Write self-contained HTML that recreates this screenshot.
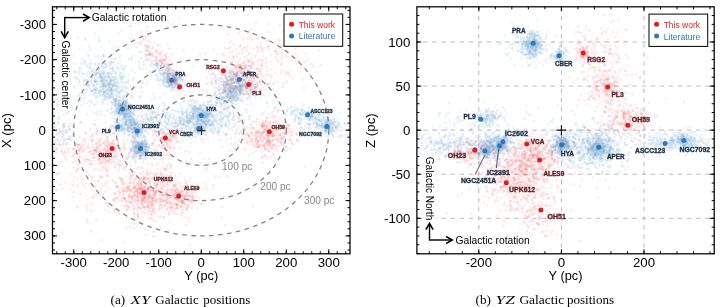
<!DOCTYPE html><html><head><meta charset="utf-8"><style>html,body{margin:0;padding:0;background:#fff;width:725px;height:307px;overflow:hidden}svg{display:block}</style></head><body><div style="will-change:transform;width:725px;height:307px"><svg width="725" height="307" viewBox="0 0 725 307" font-family="Liberation Sans, sans-serif">
<rect width="725" height="307" fill="#fff"/>
<clipPath id="cl"><rect x="52.5" y="6.8" width="297.5" height="247.0"/></clipPath>
<clipPath id="cr"><rect x="416.9" y="6.8" width="297.30000000000007" height="247.0"/></clipPath>
<path d="M478.82 6.8V253.8M561.40 6.8V253.8M643.98 6.8V253.8" stroke="#bdbdbd" stroke-width="1" stroke-dasharray="4.5 4.6" fill="none"/>
<path d="M416.9 218.30H714.2M416.9 174.22H714.2M416.9 130.15H714.2M416.9 86.08H714.2M416.9 42.00H714.2" stroke="#bdbdbd" stroke-width="1" stroke-dasharray="4.5 4.6" stroke-dashoffset="2.9" fill="none"/>
<g fill="none" stroke="#2f78bb" stroke-opacity="0.09" stroke-width="2.6" stroke-linecap="round"><path d="M57.6 139.7h0m2.4-10.1h0m0.5-36h0m6.1 54.8h0m0.1-15.7h0m0.3-19.3h0m5.6 12.9h0m1-71h0m2.1 22.3h0m4.6 8.2h0m1 36.9h0m3.2-43.5h0m2.5 0.2h0m2.4 15.3h0m0.4-26.1h0m0.1-20.8h0m0.5 42.4h0m0.3-25.9h0m1.9 30h0m2-29.9h0m1.2 25.9h0m6.3-12.2h0m0.5-6.7h0m0.5 17.4h0m1-2h0m0.3-26.4h0m0 17.9h0m0.9 0.1h0m0.2 5.2h0m0.1-18.5h0m0.2 57.4h0m0.9-37.2h0m0.8-8.9h0m0.3 16.3h0m0.1 10.9h0m0.6-19.7h0m0 7.8h0m1.4 6h0m0.4-14.4h0m0.2-2.1h0m0.5 11.8h0m1.2-33.9h0m1.3 26.7h0m0.8 13.4h0m0.4-34.4h0m0.8 37.3h0m0.2-29.1h0m0.6 30.4h0m0.3-5.3h0m0.7-30.2h0m0.7 59.8h0m0.3-44.1h0m0 0.4h0m0.6 32.9h0m0.2-34.6h0m0.4 9.4h0m0.4 14.8h0m0.2-9.8h0m0.4-21.1h0m0.2 28.3h0m0.2 1.8h0m0 8.4h0m0.3-22.5h0m0 21.4h0m0.8-5.8h0m0.1 4.5h0m0.2-4.4h0m0 14.3h0m1.6-23.3h0m0.1 15.9h0m0.2 13.1h0m0.1-12.1h0m1.1 6.9h0m0.5 2.5h0m0.5-15.7h0m0.4-5.7h0m0.1 3.6h0m0.6 33.1h0m1.9-4.7h0m0.5-25.4h0m0.1 11.1h0m0.5-8.9h0m1 44.8h0m0.1-47.9h0m0.4 40.7h0m0.3-27.8h0m0.2-8.8h0m0.7 18.4h0m0.8-10.9h0m0.1 39.3h0m0.1-82h0m0.2 43.9h0m0.2 6.4h0m0.3-3.2h0m0.1 26.6h0m0.1-1.9h0m0.3 10.5h0m0.9-41.4h0m0 10.9h0m0.2 27.8h0m0.5-9.1h0m0.1-30h0m0 31h0m0.6 2.8h0m0.3-27.5h0m0 6.3h0m0.1 0.1h0m0.4 1.8h0m0.3 18.5h0m0.3-13.3h0m0.4-73h0m0 81.3h0m0 2.9h0m0 0.2h0m0.1-20.1h0m0 22.5h0m1-9.6h0m0.6-90h0m0.3 95.1h0m0.1-0.7h0m0.2-29.7h0m0.3 17.7h0m0.1 15.1h0m0.2-3.2h0m0 1h0m0.1-6.1h0m0.1-12.4h0m0.2-46.8h0m0 60.6h0m0.1-8.2h0m0.1 2.3h0m0.5 10.4h0m0.9-3.6h0m0.1 6h0m0 2.3h0m2-0.5h0m0.1-36.5h0m1.4 32h0m0.9-1.8h0m1-19.7h0m0.1-71h0m1.4 7.8h0m0.4 37.4h0m0.4 14.3h0m0.1 12.2h0m0.3-59.9h0m0 5.6h0m3.4-8.2h0m0.2 2.1h0m0.2 9h0m0.7 41.4h0m0.2-49.8h0m1.4 58.9h0m0.2-56.7h0m0.1 1.6h0m0.1 41.2h0m2.1 10.5h0m0.6 7.4h0m1.2-18.7h0m0.4-30.7h0m1.7 41.8h0m0.2-56.6h0m2.4 7.4h0m0.2 3.3h0m0.3 5.6h0m0.1-2.9h0m0.6 5.3h0m0.1-0.7h0m0.3-10.1h0m0.7-0.7h0m0.1 11h0m0.3-1.7h0m0 52.3h0m1.2-109.8h0m0.4 56.9h0m0.5-7.2h0m0.4-1.5h0m0.1 2.9h0m1.1 3.8h0m0 18.4h0m0.4-20h0m0 48.6h0m0 1.1h0m0.4-42h0m0.6-5.5h0m0.4 0.8h0m1.2 4.1h0m1 43.6h0m0.6-16.3h0m0.6 11.1h0m1.2 9.9h0m0.3 1.1h0m0.1-26.2h0m0.4-32.8h0m0.8-4.5h0m0.4 37.9h0m4 18h0m0.5-8.8h0m0.3-5.3h0m2.3 19.3h0m0.5-9.8h0m0.6-3.1h0m1.6 3.9h0m0.7-16.5h0m0.2 8.1h0m0.1 9.6h0m0.8-13.1h0m0.5 8.1h0m0.5-11.8h0m0.1-4.1h0m1.8 14.5h0m0.8 9.1h0m0.2-10.7h0m0.6 12.9h0m0.5-15.1h0m0.3 3.3h0m0.9-0.1h0m0.7-2.8h0m0.1-2.9h0m0 3.4h0m0.2-2.2h0m0.3 10h0m0.6-5.1h0m0.5 21.9h0m0.1-17.5h0m0.3 21h0m0.2-27.7h0m0.4-9.9h0m0.2 12.9h0m0.7-6.5h0m0.3 6.5h0m0.2-0.8h0m0.3-11.1h0m1.5 8.6h0m0 7.6h0m0.5-2.3h0m0.2 2.3h0m0 0.8h0m0.2-1.2h0m0.2-38.3h0m2.8 30.2h0m0.4-6h0m0 0.9h0m0.9-34.3h0m0.6 51h0m0.7-1.5h0m0.6-16.1h0m0 3.6h0m0.7-18h0m0.3 26.6h0m3.2-32.6h0m0.5 15h0m0.5-18.9h0m0.3 1.6h0m1.1 32.2h0m0.4-29h0m0.5 12.5h0m0.4 25.4h0m0.1-25.7h0m0.4-6.9h0m0.5 20.2h0m1.4-23.4h0m0 12.6h0m0.1-16.4h0m0.3 21.7h0m0 0.3h0m0.3-30.5h0m0.3 49h0m0.2-40.3h0m0 36.3h0m0.3-31.2h0m0.2 1.2h0m0.5-0.2h0m0.1-16.2h0m0.7 17.3h0m0.4-9h0m0 12h0m0.5-0.4h0m0.9-23.5h0m0.2 51.9h0m0.4-39.1h0m0.4-5.3h0m0 4.5h0m0.9 16.4h0m0.1-5.2h0m0.1-13.5h0m0.4-4.6h0m0.4 40.8h0m0.2-28.6h0m0.2-13.5h0m0.2 4.1h0m1 23.1h0m0.9-30.1h0m0.4 12.2h0m0.5-4h0m0.7 8.8h0m0.1 7.4h0m0.2-17.8h0m0.6 8.7h0m0.7 1.7h0m1.2-8.1h0m1.4 2.7h0m0.2-13h0m0.2 17.7h0m0.4 10.1h0m0.6-11.5h0m1.7-4.8h0m0.8 5.6h0m0.6-4.1h0m0.7-2.1h0m2.4 15.6h0m0.4-11.4h0m0.4-7h0m0.2-6.5h0m3 13.4h0m2.1-13.1h0m14.4 54.1h0m5.3 32.5h0m12.2-47.3h0m7.6-0.5h0m1.7 6.9h0m6.5 0.6h0m2.3 7.5h0m1.2-16.9h0m0 6.6h0m2.9 7h0m0.4-11.7h0m0.3 10.5h0m0.4 4.5h0m0.8-3.2h0m2.2-12.5h0m4.4 21.2h0m0.4-8.2h0m0.4-1.2h0m0.6 5h0m1.5-0.1h0m1.5-2.6h0m0.1-0.2h0m1.2-11.2h0m1.7 11.6h0m1.4-0.6h0m0.6 5.1h0m1.3-12.9h0m1.1 4.7h0m1.1 7.6h0m0.5 2.4h0m2.6-10.6h0m1.3 3.8h0m0.2-0.9h0m1 1.1h0m1.6 3.2h0m7.9-5h0m77.4 41.3h0m3.6-17.1h0m6.1 1.2h0m8.4-37h0m1.2 27h0m0.6 3.9h0m1.5-2.5h0m0.7-4.2h0m0.6 7.1h0m4.5 2.1h0m0.2-7.1h0m0.1 10h0m7.5 4h0m0.1 4.2h0m7.3-39.8h0m5.6 34.5h0m1.4-23.2h0m0 16.5h0m3.2 6.4h0m1.1-9.9h0m1.8 11.3h0m0.4-37.5h0m1.1 2.6h0m0.3 34.7h0m0.5-38.6h0m0.7 34.9h0m0.4-3.8h0m0.1-20.8h0m0.5 2h0m1.2-13.5h0m1.5 41.4h0m0.2-36.7h0m0.6 32.5h0m0.3 2.6h0m0.2-6.4h0m0.2-22h0m0.1 28.4h0m0.4-31.1h0m0 26.5h0m0.2-5.3h0m0.1-24.1h0m0.8 17.6h0m0.1 11.7h0m0.2 6.8h0m0.3-39.5h0m1 36.2h0m0.1-9.6h0m0.7 6.2h0m0.3 3.5h0m0 0.2h0m0.3-38.1h0m0 29.5h0m0 7.2h0m0 9.9h0m0.5-17.6h0m1.4 4.5h0m0.2 4h0m0.1-19.2h0m0.1-14.6h0m0.6 32.3h0m0.5 1.8h0m0.1-2h0m1.2-9.3h0m0.8-2.4h0m0.4-18.5h0m0.5 28h0m0.2-10.6h0m0.1 4.5h0m0.3 4.1h0m0.3 9.3h0m0.2-5.6h0m0.2 14.6h0m0.7-20h0m0.3-26.7h0m0 31.6h0m1.5 14.4h0m0.3-17.5h0m0.1 2.2h0m0.6-1h0m0.3-2.4h0m0.1-4.8h0m0.1 0.6h0m0.1 7.7h0m0.2-7h0m0.1 2.1h0m0.5-2.1h0m0.5-0.7h0m1-30.5h0m0.9-74.3h0m1 123.2h0m0.5-7.2h0m0.4-13.5h0m3 12.7h0m1.7-127.7h0m1.6 123.1h0m1.7-102.7h0m2-9.2h0m4.5 14.3h0m0.6 3.3h0m0.3-0.9h0m0.5 2.9h0m1-14.7h0m1.3-1.1h0m0.9 67.5h0m0.3-54.2h0m1.8-5.7h0m0.1 0.1h0m0.4-2.9h0m0.1-0.1h0m0.5-5.4h0m0.4 103.4h0m0.1-96.6h0m0 7.5h0m0.7-1.3h0m0.2-11.8h0m0.9-5.2h0m0 118.6h0m1.1-112.5h0m0.4 11.2h0m0.7-12.6h0m0.1 12.9h0m0.1-8.5h0m0.2 12.6h0m0.2-10.2h0m0.6 5.7h0m0 0.7h0m0.1-3.4h0m0 8.4h0m0 82.2h0m0.6-92.1h0m1.3-8.2h0m0 1.2h0m2.1 23.3h0m1.2 78.3h0m0.3-87.7h0m0.7-7.2h0m0.4 85h0m0.3 20.3h0m0.9-106.3h0m1.1 89.6h0m1.9-2.8h0m0.5-81h0m0.3-14.3h0m4.2 17.9h0m0.7 93.1h0m0.1 6.9h0m3.1-7.8h0m0.9-7.4h0m0.1 7.5h0m0.8 10.7h0m1.7-20.9h0m1-80.8h0m0.1 4.8h0m0 78.4h0m0 4.3h0m0.6 3.6h0m0.6 1.9h0m0.1-1.2h0m0.3-7.4h0m0.3-83.8h0m0.7 86.7h0m0 0.5h0m1.3-0.5h0m0.5-1.6h0m0 3.1h0m0.2-0.4h0m0.2-0.8h0m0.1 4.2h0m0.1-8.4h0m1.3-87.9h0m0.1 94.5h0m0.3-0.2h0m0.1 1.2h0m0 2.9h0m0.9-5.2h0m0.6-4.3h0m0.6 1.7h0m0.2-5.1h0m0.1 30.4h0m0.5-24.9h0m0.7-2.4h0m4.6 6.4h0m3.3 12.1h0m0.6-8h0m0.6 1h0m0.3 2.4h0m1.4-5.8h0m0.1-17.9h0m0.9 33.9h0m0.3 16h0m0.1-23.2h0m0.8-17h0m0.1 2.2h0m2.9 7.8h0m0.4-19.1h0m1 10h0m0.8 10.1h0m1.5-6.2h0m0 3.6h0m0 14.3h0m0.3-14.5h0m0.6-16h0m0.3 31.4h0m0.7-14.2h0m0.4 9.2h0m0.1-9h0m0.1 9.2h0m0.4-1.4h0m0.2-12.5h0m0.3 19.8h0m0.6-0.5h0m1.2-17.1h0m0.1 0.6h0m0.7 5.2h0m0.2-5.8h0m0.4-3.8h0m0.2-0.2h0m0.1 13.3h0m0.5-22.1h0m0.5 12.2h0m0.2-0.8h0m0.3-7h0m0 12.7h0m0.6 2.3h0m0.3-6.7h0m0.4 6.6h0m0.3-73.4h0m0.3 64.3h0m0.5 8.6h0m0.6-16.5h0m0.2 6.9h0m0.4 9.6h0m0.1 18.2h0m0.2-23.8h0m0.3 8.7h0m0.3-4.7h0m0.9-5.3h0m0 3.9h0m0.6-5.4h0m0.2 11.6h0m1.1 2.6h0m0.5-1.2h0m1.7-5h0m0.6-7.5h0m0.2-7.6h0m0.6 20.5h0m0.1-18.8h0m1.4 15.3h0m0.1 6h0m0.6 0.7h0m1.3-19.4h0m1.5 2.8h0m0.4-13.5h0m0.8-1.9h0m2.4 0.1h0m0.9 2.3h0m0 41.1h0m0.7-24.7h0m0.9 24h0m5.3-2h0m4.6-18h0m1.5-13.3h0m2.8 50.1h0m2.5-35.7h0m3.4-18.1h0m9.4 9.2h0m0.4-8h0m9.6 5.6h0m1-7.9h0m0.9 8h0m2-7.3h0m0.1 11.7h0m2.2-12.3h0m1.7 12.7h0m1-5.6h0m1.6 3.8h0m0.2 2.5h0m0.9-3.6h0m1 0.7h0m0.1-4h0m0.2 1.8h0m1.2 0h0m2.7-1.9h0m1.8 1.9h0m0.6 7.6h0m1.1-7.9h0m0.4 7.3h0m0.2-10.1h0m2.1 5.1h0m2.4-7.6h0m0.7 0.8h0m0.3 6.3h0m0.1-2.3h0m0.4-2.3h0m0 1.9h0m1-6.7h0m0.2 5.5h0m2 1.5h0m1.1-3.9h0m0 1.1h0m0.7-2.5h0m0.2 8.6h0m1.8 7.7h0m1.7-13.9h0m0.4 2h0m3 0.8h0m4.7-1.2h0m2.8 7.1h0m0.6-1.7h0m4.4-11.8h0m1.9 9.7h0"/><path d="M58.9 129.1h0m0.2 3.6h0m1.8-1.9h0m1.3 1h0m0.5-104.5h0m1.5 87.1h0m14.3-18.5h0m0.8-14.6h0m2.7-22h0m1.9 35.3h0m1.1-1.8h0m1.1-12.6h0m0.5 8.8h0m1.3-34.3h0m0.2 31.7h0m0.9 14.5h0m1.8-23.6h0m1 0.1h0m2-0.9h0m1.1-1.7h0m0.7 7.4h0m1.3 5.8h0m0.7-4.6h0m0.1 19h0m1-19.9h0m1.1 9h0m0.6-17h0m0.7 12.4h0m0.7-6.6h0m0.3 4.2h0m1.4 2.9h0m0.6-24.4h0m0.4 19.9h0m0.7 32.8h0m1.8-34.1h0m2.5 46.3h0m0.3-58.5h0m0.1-14.5h0m0.1 14.7h0m0 20.4h0m0.1 23.5h0m0.7-39.8h0m0.6 8.3h0m0.4 11.8h0m0 18.6h0m1.1-41.8h0m1.1 23.7h0m0.1-0.1h0m0.4-9.5h0m0.5 34.7h0m0.7-7.8h0m0.7 18.2h0m1.4-21.2h0m0.4-1.8h0m0.1 0.2h0m0.1-15.3h0m0.1 22h0m0.1-10.6h0m0.6 14.3h0m0.3 12.7h0m0.1-33.2h0m0 9.1h0m0.3-11.8h0m0.9-38.6h0m0.1 55.2h0m0.4-20.2h0m0.1 13.5h0m0 22.1h0m0.5-20.1h0m0.2-2.9h0m0 7.8h0m0 2.8h0m0 6.2h0m0.1-11.6h0m0 15.5h0m0 3.6h0m0.2-20.9h0m0.3-19.9h0m0.4-16.9h0m0 6.4h0m0.3-1.7h0m0 41.4h0m0.1-18.8h0m1.9 17.9h0m0.1 0.3h0m0.2-33.1h0m0.1 38.5h0m0 3.3h0m0.2-7.5h0m0.5-0.6h0m0.6-5.8h0m0.2-3.7h0m0 22.8h0m0.2-9.5h0m0.1-13.7h0m0.3-23.8h0m0 24.6h0m0.2-4h0m0.3 9.8h0m0 14.2h0m0.2 4.1h0m0.1-20.3h0m0 4.2h0m0.3 11.3h0m0.7 1.4h0m0.6-12.4h0m0 7.6h0m0.5-2.5h0m0.3 4.1h0m0.1-7.1h0m0.1 5.1h0m0.1-64.5h0m0.1 71.5h0m1.7-14.5h0m0.3 5.2h0m0 2h0m0.3-2.4h0m0.1 12.2h0m0.4 9.4h0m0.8-17.2h0m0.3 3.7h0m0.1 0.8h0m0.2 3.3h0m0 0.7h0m0.6-9.4h0m0.5 5.1h0m0 0.1h0m0 15.3h0m0 2.7h0m0 5h0m0.7-22.9h0m0.1-0.7h0m1-0.1h0m0.2 21.9h0m0.6-19.6h0m0.6 19h0m0.3 6.1h0m0.9-22.3h0m0.1 18h0m0.1-91.8h0m0.2 70.1h0m0 18.8h0m0.2-15.1h0m0.5-7.4h0m0 4h0m0.1 13.6h0m0.1 0.5h0m0.1 11.4h0m0.7-5.3h0m0.2-30h0m0.7 24.5h0m0.1-8h0m0.1 13.7h0m0 3.7h0m0.4-12.5h0m0.2 10.5h0m0.8-6h0m3.7-16.2h0m0.4-57.8h0m1.1 44.9h0m0.5-7.9h0m0.2 10.3h0m0.4 1.1h0m0.3-7.7h0m0.3-40h0m1.2 48.6h0m0.2 11.3h0m0.2-66.6h0m0.8 47.2h0m4.2 20.6h0m0.7-3.5h0m0.8-64.2h0m0.3 13.3h0m0.6 1.3h0m1-4.5h0m0.5 27.1h0m2.2 6.9h0m0.2 12.8h0m0.8-66.7h0m0.5 68.1h0m0.2-37.3h0m0.1-21.5h0m0.1 13.9h0m0.2 2.8h0m0 46.7h0m0.2-46.4h0m0.6 37.2h0m0.1-41.1h0m0.2 39.1h0m0.8 11.7h0m0.3-52.2h0m0 8.1h0m0 36.1h0m0.3-42h0m0.4-1.1h0m1.7 0.8h0m1.2 0.3h0m0.3 9.7h0m0.1 39.5h0m0.1-25.8h0m0 31.7h0m1-60.5h0m0.1-1.8h0m0.1 15.9h0m0.1-9.8h0m0.3 2.1h0m0.7 43.9h0m0.7-43.3h0m0.1 42.5h0m0.1-39h0m0 45.1h0m1.3-52.2h0m1.4 41.6h0m1.2 5.7h0m0.9 5.2h0m0.2-49.3h0m3.4 58.1h0m0.2-5h0m1.2-22.6h0m0.2 4.5h0m0.6-5.5h0m0.8 9.2h0m2 1.9h0m1-16h0m0.3 15h0m0.5 6.4h0m0.5-9.1h0m0 13.9h0m0.7-12.5h0m0.3-15.5h0m0.7 9.8h0m0.7 23.4h0m0.4-11.8h0m0.5 1.3h0m0.2 5.2h0m0.3-2.6h0m0.1-20.2h0m1.3 15.9h0m0.2-9.3h0m0.3 1.4h0m0.2-3.8h0m0.1-0.7h0m0.2 4.2h0m0.5-8.6h0m0.1 16.4h0m0.2-3.7h0m0.2 4h0m0.3-8.1h0m0 37.2h0m0.1-42.8h0m0 21.3h0m0.2-25.7h0m0.4 10.8h0m1.6-1.1h0m0.2 1.4h0m1.1-5.6h0m0.8 11.6h0m0.9 1.8h0m1.1-16.6h0m0.7 9.4h0m0.6 21h0m0.4-16.8h0m0.3-0.3h0m1.1 4.5h0m0 5.3h0m0.4-14.8h0m0.4-14.5h0m0.2 4.8h0m1.2 10.7h0m0.8-2.2h0m0.5 9.9h0m0.5-28.8h0m1.2 33.3h0m1-35.4h0m1.9 25.2h0m0.1-38.9h0m0.3 44.1h0m0.4-25.3h0m1.2 1h0m0.4-6.5h0m2.4 3.8h0m0.5 2h0m0.6-9.3h0m0.9 18.8h0m0.3-0.1h0m0.3-17.4h0m0.5-10.8h0m0.6 6.8h0m0.5 4h0m1.4 6.5h0m0.2 22.3h0m0.2-12.8h0m0.7-31.6h0m0.4 22.1h0m0.2 15.3h0m0.3-22.8h0m0.1-18h0m0.7 11.5h0m0.2 3.7h0m0.1-7.6h0m0.9 6.2h0m0.3 43.8h0m0.1-39.1h0m0.9 3.7h0m1.1 21.3h0m0.8-22.4h0m0 2.2h0m0.9-5.3h0m0.2-3.8h0m0.8-4.6h0m0.4 5.6h0m1 5.4h0m0.7-9.9h0m0.6 0.2h0m3.4 8.6h0m4.3 12.6h0m0.3 27.9h0m0.8-46.8h0m1.9 10.3h0m0.4-3.3h0m1.5-20.2h0m0.1 22.9h0m14.6-9.8h0m9.6 21.5h0m20.7 0.8h0m0.9 10.4h0m3-7.1h0m0.5 3.9h0m0.4-8.9h0m2.6 19.6h0m0.9 0.8h0m2.3-18.4h0m0.8 16h0m0.2-4.4h0m0.5-8.8h0m1 4.3h0m4.3 1.5h0m1.5 2.1h0m1.5-2.8h0m0.2-2.9h0m1.6 12.6h0m0.3 7.4h0m3.3-15.7h0m0.4 10.6h0m2.5-8.3h0m0.2 24.9h0m0.4-15.3h0m0.4-5.6h0m0 0.2h0m0.5 0.8h0m0.4-4.2h0m0.2 4.4h0m0.3-5.8h0m4.7 11.1h0m0.1-6.4h0m0.9 7.7h0m0.5-9.1h0m1.6 3.7h0m2.8-3.3h0m0.7 13.6h0m6.8 5.6h0m71.3-0.2h0m0.2-5.6h0m6.6-2.1h0m2.8 11.8h0m0.2-14.4h0m0.6 23.9h0m3.9-27.2h0m7.8 24.2h0m2.1-15.2h0m1.8 12.6h0m1.7-19.7h0m0.5 19h0m3.2-36.7h0m0 23.1h0m0.6-12.5h0m3.2 19h0m2 7.4h0m2.9 6.7h0m1.6-5h0m1 1.5h0m0.5 4.3h0m5.5-9.4h0m0.3-6.2h0m3.1-43.9h0m2.5 21.4h0m0.1 22.6h0m1 0h0m1.1 13.1h0m1.9-12.7h0m2.5-17.5h0m0.3 27h0m0.1-32.4h0m0.7-4.3h0m0.1 22.1h0m0.1-26.2h0m1.1 39.4h0m0.1-29.1h0m0 28.1h0m2.1 0.2h0m0.9 2.3h0m0.2-3h0m0.8-4.5h0m0.2-11.1h0m0.2-10.8h0m0 20h0m0.2 10.1h0m0.1-3.4h0m0.3-30.6h0m0.3 0.8h0m0 19.2h0m0 7.5h0m0 11.8h0m0.2-16.8h0m0.2 5.7h0m0 5.9h0m0.2-6.4h0m0 1h0m0.1-10.6h0m0 14.1h0m0.7 0.5h0m0.1 3.9h0m1.3-36.1h0m0.4 33.1h0m1.6 3.1h0m0.9-6.2h0m0.2-7.8h0m0.1-15.7h0m0.1 11.5h0m0.1-25.1h0m0 29.3h0m0.5 16h0m0.3-23.4h0m0.4 15.1h0m1.2 6.1h0m0.2-16.7h0m0.3 21.8h0m0.4-6.5h0m0.5-6.1h0m0.5 5.2h0m0.1-4.8h0m0 8.5h0m0.1-5.9h0m0.1-32.6h0m0.1 20.2h0m0 1.6h0m0 9.9h0m0.1-5.4h0m0.7 2.4h0m0.5-7.2h0m0.1 5.9h0m0.1 1.3h0m0.1-1.6h0m0.7 2.9h0m0.2-5.1h0m0.2-98.3h0m0.4 103.5h0m0.2-33h0m1.2 26.9h0m0 3h0m0.1 4.8h0m0.3-8.2h0m0.4-2h0m0.2 4.5h0m0.8 0.4h0m0.7-2.2h0m0.2-21.7h0m0.6-66.2h0m3.1 97.3h0m0.6-103.7h0m0.7 112.5h0m0.3-19h0m0.2 1.5h0m0.2-9.7h0m1.3-99.5h0m0.1 14.8h0m0.2 99h0m2-82h0m0.1 88.3h0m2.8 3.3h0m1.1-16.8h0m3.4-95.9h0m2.3-4.8h0m1.8 15h0m0.4-9.7h0m0.1 10.3h0m0.3 7.1h0m0.2-15.8h0m0.7-6h0m0.8-2.6h0m0.4 10h0m0.3 2h0m0.3 3.8h0m0.7-21.5h0m0.1 2.7h0m0 17.6h0m0.5-9.9h0m0.7-10.5h0m0.2 17h0m0.4-4.4h0m0 3.5h0m0.6 1.1h0m0.1-9.3h0m0.4 6.5h0m0 0.3h0m0.1 7.5h0m0.2-8.6h0m0.1 75.5h0m0.6-59h0m0.4-21.1h0m0.7-5.1h0m0.5 10.4h0m0.3 1.3h0m0.8-1.4h0m0 0.1h0m0.2 4h0m0.2-2.1h0m0.3-3.9h0m0 1h0m0.3-10h0m0.9 17.6h0m0.1-5.3h0m0.4-12.6h0m0.4 2.9h0m0.4 9.9h0m1 2.3h0m0.9-10.9h0m0.9 11.3h0m1.6 100.2h0m3.3-6.7h0m1.6-99.3h0m3.1 102.9h0m1.6 21.4h0m0.4-112.6h0m2.3 1.3h0m0 83.4h0m0 11.5h0m0.3-8.1h0m0.7 8.3h0m0.5-1.6h0m0.6-97.4h0m1 87.5h0m0.1 3.2h0m0.2-0.8h0m1-92.5h0m0.1 90.9h0m0 0.8h0m0.1 4h0m1-6.1h0m0.5 6.4h0m0.2 1.9h0m0.3-10.6h0m0 1.9h0m0.9 2.2h0m0.4-3.7h0m0.5 3.2h0m0.1 1.9h0m0.1-2.3h0m1.8 5.1h0m0.2 27.2h0m0.4-25h0m0.1-5.1h0m0.2 2.7h0m0.2 5.6h0m1.6 8.2h0m1.1-5h0m1-9.2h0m1.4-9.1h0m1.6-22.4h0m0.2 30.8h0m0.5-2.3h0m1.9 10.3h0m1.8-6.6h0m0.3 6.7h0m1.4-2.9h0m0.7 8.2h0m3.6 0.4h0m1.5-19.9h0m0.6 4.4h0m0.7 5.8h0m0.3-23.2h0m1 13h0m0.5 14.5h0m0.4 1.2h0m0.3-6.2h0m1 1.3h0m0.3-4.6h0m0.7-3.5h0m0.2 9.7h0m0.2-5.8h0m0.6-0.1h0m0.1 11.5h0m0.2-1.2h0m1.3-10.5h0m0 7.7h0m0.1 3.1h0m0.1-8.6h0m0.7-4.7h0m0.2 13.6h0m0.6-18.1h0m0.9 15.8h0m0.6-10.4h0m0.1 11.4h0m0.7-18h0m0 11.7h0m0.1-2.9h0m0.3 9h0m0.4-9.7h0m0 7.1h0m0.1 6.6h0m0.3-8.4h0m0.2-3.1h0m0.2-22.1h0m0.1 23.3h0m0.4-2.4h0m0.1 12.2h0m0.7 14.9h0m0.5-29.7h0m0.2 1.6h0m1-20.6h0m0.7 21.7h0m0.4-6.9h0m0.6 13.5h0m0.1 26.9h0m0.5-41.1h0m2.2 11.1h0m1.3-10.1h0m1.7 9.2h0m1.4-1.5h0m0.7-5.9h0m1-4.5h0m2.8 16.4h0m3 0.8h0m0.1-4.4h0m5.6-4.7h0m0.5 7.3h0m3.7-17.3h0m21.4 2.2h0m1.2 5.4h0m4.7-2.8h0m2.7-1.1h0m1.5 4h0m10.6 3.2h0m2.4-12.5h0m3.3 4.4h0m2.3 1.4h0m2.1 3.1h0m0.7-5.9h0m0 1.9h0m0.1-4.2h0m1.2 5.1h0m0.6 5.4h0m0.3-3.7h0m1.2 13.4h0m1.3-19.6h0m0.4 8.5h0m0.1-1.7h0m0.5-6.6h0m0.6 6.7h0m0.9-9.3h0m2.2 3.8h0m6.8 6.2h0m8.5 0.2h0"/><path d="M58.4 113h0m2.7 23.7h0m0.4-25.9h0m0.6-32.2h0m1 57.4h0m1.1-9.3h0m1.3 17.8h0m1.7-13.8h0m0.8 8.2h0m1.5-9.3h0m0.3-0.9h0m4.8-40.9h0m1.1 28.2h0m3-36.7h0m1.6-11.1h0m1.4 3.7h0m2.7 12.7h0m0.1-2.4h0m1.2-0.6h0m1.8 3.3h0m0.2-1.7h0m4.4-12.4h0m0.1 10h0m0.3-3.9h0m0.1 35.2h0m2.5-22.7h0m0.7-25.6h0m1.4 20.4h0m1.3 6.6h0m1-10.2h0m0.1 6.4h0m0.5-11.1h0m0.3-1.8h0m0.1 1.3h0m0.2 2.5h0m1 7.7h0m1.1 16.3h0m1.1-23.2h0m0 5.3h0m0 1.6h0m0 57.7h0m1.7-46.4h0m0.1-29.8h0m0 24.1h0m1.5 18.4h0m1.5-32.5h0m0 18.3h0m0.4-4h0m0.3 1h0m0.1-8.1h0m1.3-20h0m1.1 28h0m0.2 23.9h0m0.3-19.6h0m0.1-6.6h0m0.2-3.8h0m0.1 15.8h0m1.3-10.3h0m0.5-14.5h0m0.4 37.6h0m0.1-13.4h0m0.5-18.1h0m0.1 15.7h0m0.4-12.2h0m0.6 13.5h0m0.9 13.2h0m0.2-8.2h0m0 3.9h0m0.2 2.2h0m0.2-6.9h0m0.4 19.6h0m0.5 6.6h0m0.1-4.3h0m0.2-12h0m0.1 16.9h0m0.8-29.5h0m0.8 4.8h0m0 2.5h0m0 16.4h0m0.2-23.9h0m0 2.8h0m0 21.6h0m0.1-48.7h0m0.4 31.7h0m0.2 21.9h0m0.1-26h0m0.3 3.5h0m0.7-3h0m0.1 2.1h0m0.1 3.9h0m0 17.7h0m0.4-20.9h0m0.1-11.5h0m0.2 13.1h0m0.3 9.7h0m0.1-14.1h0m0.2 13.4h0m0.1-12.1h0m0.3 1.3h0m0.2-0.5h0m0.3 21.8h0m0.4-19.3h0m0.2-4.2h0m0.1 11.6h0m0 0.2h0m0.1-10.7h0m0.6 5.6h0m0.1-4.8h0m0.1-14.9h0m0 13.2h0m0 7.4h0m2.1 41.3h0m0.2-34.7h0m0 3.3h0m1-6.1h0m0.5-0.9h0m0.4 0.1h0m0.2-1.2h0m0.1-5.4h0m0.1 15.7h0m0.1 25.7h0m0.3-36.3h0m0.3 0.6h0m0.1 30.2h0m0.4 5.3h0m0.2-37.7h0m0.2 6.4h0m0.3 37.8h0m0.4-10.2h0m0.2-14.2h0m0.4-4.5h0m0 5.9h0m0 14h0m0.1-1h0m0.1-23.3h0m0.5 0.5h0m0.2 11h0m0.2 11.3h0m0.2 6.8h0m0.3-25.2h0m0.2 15.4h0m0.7 6.9h0m0 2h0m0.3-7.9h0m0.1-21.3h0m0.1 4.3h0m0.1 4.1h0m0.2 9.8h0m0.2-6.5h0m0.3-75h0m0.9 69.3h0m0.1 14h0m0.5 6.2h0m0.1 8.9h0m0.3-33.5h0m0 18.4h0m0.2-0.9h0m0.4 8.8h0m0.1-0.6h0m1 2.2h0m0.1-6.1h0m0.4-78h0m0 77.3h0m0.4-4.8h0m0.5-79.8h0m0 81.1h0m0 7.8h0m0.7-4.5h0m0.2-67.9h0m1.1-18.4h0m0.6 90h0m0.5-35.9h0m0.7 17.9h0m0.6-13.1h0m1.5 29.5h0m1.6-27.5h0m2.8-27.1h0m2.5 23.6h0m0.1-2.4h0m1.4-50.1h0m1.1 58.1h0m1.9-4.1h0m0.1-72.4h0m1.7 22.7h0m0.8 12h0m0.4 3.4h0m0.1-9.7h0m0.2 35.6h0m0.4-46.7h0m1.2 13.5h0m0.9 0.5h0m0.1-4.2h0m0.1-1.3h0m0.2-19.3h0m0 33.8h0m0.1 47.4h0m0.3-56.5h0m1.1-1.8h0m0.1 57.3h0m0.3 1.8h0m0.8-56.9h0m0.5-9.7h0m1.4 68.2h0m0.2-58.4h0m0.6 0.8h0m0.4 57.6h0m0.4-56.6h0m0.6 3.2h0m0.5-8.6h0m0.8 45h0m0.5-34.9h0m0.5 44.6h0m0.3-51.1h0m0.4 1.1h0m0.1-0.8h0m0.5-5.2h0m0.1 10.8h0m0.4 34.4h0m0.7-31.7h0m2.5-7.7h0m0.7 53.7h0m2.4-8.9h0m0.9-22.8h0m0.8-5.3h0m0.1 14h0m0.8 19h0m1.7-5.8h0m0.2-4.7h0m0.4-3.7h0m0.5 13.4h0m0.4-9.4h0m2.8-3.6h0m0.1-6.1h0m0.2 5.7h0m0.4 1.8h0m0.2 0.8h0m0.5-8.8h0m0.2-0.4h0m0.1 19.8h0m0.8-10.9h0m0.6 7.4h0m0 4.2h0m0.2-8.8h0m0.1 2.9h0m1.2-7.1h0m0.5 14.8h0m0.5-14.7h0m0 13.5h0m0 0.9h0m0.3-21.5h0m0.1 23.6h0m0.6-22.3h0m0.7 17.7h0m0.2 2.6h0m0.5-16.2h0m0 16.7h0m0.2-11.3h0m0.2-3h0m0.3-0.5h0m0 2.3h0m0.4 8.5h0m1-10.7h0m0.1-5.2h0m0.1-1.5h0m0.1 14.6h0m0.8 0.5h0m0.5-6.9h0m0.1 6.5h0m0.3 3.3h0m0.1-11.9h0m0.5 5.9h0m0.8-6.7h0m0.4 15.1h0m1-21.6h0m0 7.1h0m0.8-13.2h0m0.8 5.8h0m0.4 12h0m0.1 2.5h0m1.3-17.6h0m0 19.6h0m0.5-18.4h0m1.5 22.3h0m0.8-16.6h0m1.1-6h0m0.6 14.2h0m0.2-38.8h0m0.4 21.6h0m2.7 28.9h0m0.4-44.8h0m0.5 33.2h0m1 4.7h0m0.1-42.7h0m0.2 15.8h0m0.7 14.9h0m1.4 19.5h0m1-43.5h0m1.1 3.2h0m2.6 2.3h0m1.1 6.6h0m0.2-52.3h0m0.2 40.3h0m1 9.2h0m0.3 3.3h0m0.5-12.5h0m1 6h0m0.4-8.7h0m0.9 41.1h0m0.3-36.8h0m0.3-4.4h0m0.4-10.7h0m0 13.5h0m0.2-14.9h0m0.6 27.2h0m0.1-8.9h0m0.2 41.6h0m0.6-46.1h0m0 17h0m1.1-14.7h0m0 3.6h0m0.1-6.2h0m0.2 12.8h0m0.3-18.8h0m0 15.1h0m1.9-4.7h0m0.7-5.4h0m0 8.1h0m0.9-3.3h0m0.6-20.7h0m2.2-9h0m0.9 19.6h0m1.1 0.8h0m0.6 16.8h0m1-12.6h0m1.7 30.9h0m0.3-18.2h0m1.8-16h0m3.5 13.1h0m0.5-18.3h0m5.2 20.7h0m4 13.6h0m1.4-8.8h0m1.8-0.1h0m19.6 4h0m3.8 6.5h0m4.5 4.3h0m3.6 1h0m1.1 5.2h0m0.5-10.1h0m1.2-4.3h0m2.8 10.6h0m3.8-7h0m1 6.8h0m0.9-3.1h0m1.7-2h0m6.3 5.8h0m1.8 4.8h0m5.4 4.3h0m0.1-7.7h0m0.3 2h0m0 1.7h0m1 5.5h0m0.2-3.4h0m0.6-1.9h0m0.1 10.5h0m1-9.2h0m0.3-6.9h0m0.3 6.1h0m0 2.4h0m0.3-3.9h0m0.1-5.5h0m0 9.8h0m0.7 1h0m0.5-6.8h0m5.1 3.7h0m1.4-2.5h0m83.8 18.6h0m6.3-4.8h0m1.2 12.2h0m5.9-9.4h0m0.6 1.4h0m2.4 8.4h0m0.8-37.2h0m5.3 23.3h0m8.2 2.2h0m2.2 13.4h0m2.8-11.8h0m1.9 22.2h0m1.3-21.6h0m0.2-4.4h0m2 5.4h0m3.2 6.9h0m3-18.4h0m1.5-0.8h0m0.2 27.7h0m5.1-13.1h0m0.4-3.6h0m0.7-26.7h0m2.4 2.9h0m0.4 3h0m0.7-4.2h0m0 36.2h0m0.2-2.7h0m0.3-2.8h0m0.8-5.3h0m2.6-0.7h0m0.1-20h0m0.2 34.1h0m0.1-6h0m0.4-12.5h0m0 12.9h0m0.1-13.8h0m0.8 21.6h0m0.1-17.4h0m0.2-21.9h0m0.3-6.9h0m0.8 35.6h0m1.5-31.6h0m0 31.8h0m0.1 6.3h0m0.4-36.6h0m1.1 27.2h0m0.1-8.3h0m0.3 4.2h0m0.5 26.9h0m0.7-50.2h0m0.2 1.1h0m0.4 33h0m1.4-8.2h0m0 10.7h0m0.6-12.2h0m0.3-24.4h0m0.1 1.6h0m0.4 23.7h0m0.3-28h0m0.1 31.6h0m0.7 1.6h0m0.3 0.4h0m0.3-36.7h0m0.8 34.1h0m0.6-2.5h0m0.1 4.4h0m0.2-2.6h0m0.2 6.8h0m1.1-8.5h0m0.2-99.4h0m0.4 103h0m0.1 5.7h0m0.1-5.2h0m0.2 1.3h0m0.6-1.1h0m0.4 5.1h0m0.2-10.5h0m0.2 4.8h0m0 1.4h0m0.9-2.2h0m0 3.6h0m0.1 0.3h0m0.2-8.9h0m0.1 7h0m0.2-7.4h0m1.1-2.1h0m1.5 4.5h0m1.1-1.1h0m0.3-87.4h0m1.6-8.7h0m0 103.7h0m0.8-6h0m1.1-109.6h0m4 120.9h0m2.9-117h0m0.5 115h0m1-101.9h0m1.6 2.1h0m2.7-3.1h0m0.3-2.4h0m0.9 2.4h0m0.2-4.8h0m0.2 10.5h0m0.2-13.2h0m0.5 8.2h0m0.3 0.3h0m0.6-11.9h0m0.2 6.7h0m0.4-0.1h0m0.9-0.1h0m0.8 21h0m0.2-19.1h0m0.3-8.8h0m0 4.6h0m0.2-8.4h0m1.6 4.6h0m2.2 10.6h0m0.1-13.7h0m0 21.7h0m1-18.6h0m0.1-4.9h0m0 10.2h0m0 10h0m0.9-10.5h0m0 7.4h0m0.7-7.5h0m0 1.1h0m1-12.1h0m0.9 11.6h0m1.7 4.2h0m0.9 97.6h0m0.3-96.6h0m0.2-3.6h0m4.3 4.4h0m5.4 88.1h0m0.3 15.3h0m0.4-5.6h0m1.2-2.4h0m0.7 3h0m1 1.1h0m2.2 4h0m0.1-97.4h0m0.3 82.4h0m1.1 3.6h0m0.1 7.2h0m1.1-96.2h0m0.2 4.2h0m0 96.7h0m0.2-6.9h0m0.1-88.1h0m0.2 0.5h0m0 80.3h0m0.2 21.9h0m0.1-10.6h0m0.5-17h0m0.1-75.3h0m0.4 82.5h0m0.3-86.7h0m0 90.9h0m0 5.1h0m0 5.9h0m0.1-8.5h0m0.9-1.2h0m0.1-5h0m0.5-89.5h0m0.2 93h0m0.2-0.8h0m0.1-88.6h0m0.9 85.7h0m0.3 2.5h0m0.1-88.4h0m0.9 93h0m0.1-6h0m0.6-90.4h0m0.7 94.6h0m1.2 2.1h0m0 8.8h0m1.3-8.6h0m2.3-1.5h0m2.4-9.2h0m1 7.3h0m1.1-16h0m0.4 14.1h0m0.6-0.9h0m0.7-7.1h0m0 17.7h0m1.4 18h0m1-11.1h0m0.2-11.1h0m3-21.4h0m2.5 7.3h0m0.6 14.6h0m0.7 6.8h0m0.1-8.9h0m0.2 1.6h0m0 2h0m0.1-7.3h0m0.3 19h0m0.2-31.1h0m0.2 18.2h0m0.5 10.4h0m0.3-10.3h0m0.2 24.7h0m0.5-31.9h0m0.5 4.3h0m1.1-7h0m0.1-3.8h0m0.1 2.6h0m0.3 12.2h0m1.7 15.3h0m0.2-11.4h0m0.5-9.8h0m0.1 0h0m0 0.7h0m0.5 0.9h0m0.4 2.5h0m0.3-5.5h0m0.8 14.7h0m0.2-18.9h0m0 8.3h0m0.2 0h0m1.2-19.4h0m0.1 12.5h0m0 7.1h0m0.3 7.1h0m0.5-13.8h0m0.3 15.7h0m1-9.3h0m0.6 18.4h0m0.1-20.2h0m0.1 13.5h0m1 12.3h0m0.6-19h0m0.2-12.5h0m0.6 8.2h0m1.5-7h0m0.1 8.2h0m0.7-7.3h0m0.6-17.1h0m1-0.4h0m0.3 25.8h0m0.2-9h0m0.2-2.3h0m2.3 9.3h0m1.3 1.5h0m1 2.3h0m7.9 13.9h0m0.2-4.6h0m7-8.3h0m2.6-18.2h0m9.1 14.9h0m3.6-21.4h0m4.2 5.1h0m3.3 16.9h0m4.7-5.6h0m3-8.8h0m2.2 0.3h0m0.5 2.5h0m2.9 9.2h0m0.2-0.2h0m3.2-4.5h0m1.5 4.8h0m0.5-3.9h0m0.4-4.2h0m3.1-9.6h0m0 10.2h0m3.1-2.2h0m1.7 2.4h0m1.1 0.3h0m1.7-1.7h0m0.3 0.5h0m0.7-5.3h0m0.2 2.8h0m0.5-0.5h0m0.2-1.3h0m0.2 11.2h0m0.1-8.9h0m1.2 2.4h0m2.4 1.8h0m1.2-3.9h0m0.1 7.9h0m0.9-6.6h0m1.8 6.2h0m2.9-6.9h0m3.6 2.3h0m2-1.6h0m5.5 4.6h0"/><path d="M54.2 136.1h0m2 4.6h0m0.1 8.4h0m0.8-24.3h0m0.3-102.8h0m0.4 99.7h0m0.2-2.2h0m8.5 23.4h0m3.6-17.3h0m2.1 9.9h0m1-4.2h0m1.3 14.3h0m0.5-75h0m3.4 29.7h0m3.9-7.2h0m3.6-54.2h0m1.1 64h0m1.5-38.4h0m0.6 7.2h0m1.2 16.8h0m1.7 2.5h0m0.7-5.6h0m0.8 0h0m0.3-12.2h0m0.4 50.9h0m1.1-30.7h0m1.5 2.6h0m0.4 15.7h0m0.7-38.8h0m0.9-33.1h0m2 51.1h0m1-10.9h0m0.4-3.4h0m0.5 15.1h0m1-0.8h0m0.1 3.1h0m0.2-38.6h0m0 36.8h0m0.7-11.8h0m3.7 4.7h0m0.2-12.7h0m0.2 5h0m0.3 7h0m0.3-42.5h0m0.3 37.6h0m0.1 7.3h0m0.1-11.7h0m0.2 3.9h0m0.4 5.3h0m0.4-22.4h0m0.5 46.8h0m0.6-39.2h0m0 35.8h0m0.1-17.1h0m0.1 2.9h0m0.7 9h0m0.8-14.1h0m0.3-5.5h0m1.2 51.7h0m0.3-18.8h0m0.1-14.1h0m0.1 8.6h0m0.1-1.3h0m0.2-20.7h0m0.3 29.9h0m0.5-36.1h0m1.4-32.6h0m0.3 56h0m0.5 7h0m0.2-3.4h0m0.1 1.8h0m0.3 15.5h0m0.1-16.3h0m0.1 1.9h0m0.6-44.1h0m0.2 40h0m0.1 4.7h0m0.1 1.9h0m0.2-33h0m0.8 48.3h0m0.5-1.3h0m0.5-36.6h0m0.1 10.4h0m0.6-16.7h0m0.2 22.7h0m0.1-0.3h0m0 18.9h0m0.1-21.6h0m0.4 3.4h0m0 10h0m0 1h0m0.2-7.7h0m0.3 3.4h0m0.1-11.3h0m0.4 9.5h0m0.3-8.5h0m0.3 20.3h0m0.5-11.7h0m0.2-1h0m0.2-10.6h0m0.1 2.6h0m0.1 6.2h0m0.7 18.9h0m0.1-38.7h0m0 37.3h0m0.1-16.4h0m0.6 20.8h0m0.6-20.1h0m0.4 1.4h0m0.2 39.9h0m0.2-23.1h0m0 1.8h0m0.1-18.3h0m0.1 8.3h0m0.4-8.3h0m0.9 9.9h0m0 7.8h0m0.2-59.5h0m0.3 61.7h0m0.7 24.2h0m0.1-26.4h0m0.4-49.4h0m0.3 51.3h0m0.1-10.1h0m0 7.1h0m0.6 0.5h0m0.3-17.5h0m0.5 44.2h0m0.4-28.6h0m0.1-2h0m0.1-0.3h0m0 28.2h0m0.4-12.1h0m0.2 10.9h0m0.5-4.2h0m0.3-25.3h0m0.3 19.6h0m0.2-10.7h0m0.6-5.5h0m0.5 29.9h0m0.2-14.4h0m0.2-6.3h0m0.3 23.5h0m0.2-9.3h0m0.1 9.7h0m0.1-8.9h0m0.2-1h0m0.1 3.1h0m0.1-0.9h0m0.3-93.5h0m0.5 77.9h0m0 8.8h0m0.7 9.9h0m0 2h0m0.1-4.7h0m2-3.4h0m1.1 8.1h0m0.4-25h0m0.3 20.7h0m0.1-29.6h0m0.4 23.1h0m0.2 4.1h0m0.2-7.6h0m0.4-17.6h0m1.3-69.1h0m0.4 93.1h0m5.1-36.4h0m1 14.7h0m0.3-61.9h0m0.7 5.7h0m1.6 61.5h0m1.4-17.5h0m3.3 23.6h0m0.9-8.4h0m0.3-55.2h0m2 42.5h0m0.9-35.2h0m1-11.9h0m0.3-1h0m0.2-24.5h0m0.4 24.5h0m0.2 43.6h0m0.2-44.4h0m0.1 52.9h0m0.6-42.3h0m0.1 6.6h0m0.4-7.3h0m0.2-4.4h0m0.6 10.4h0m0.2 1.3h0m0 29.3h0m2-32.8h0m0.5 45.3h0m0.3-47.2h0m0.8-2.7h0m0 33.2h0m0.8-28.8h0m1 34.8h0m1.1-34.1h0m0.4-6.9h0m0.2 1.6h0m0.2-5.8h0m0.7 52.8h0m0.1-38.4h0m0.4 0.6h0m0.7 30.8h0m0.1 14.5h0m0.3-54.5h0m0.2 11h0m2.5 31h0m0.4 2.9h0m0.1 2.4h0m0.1-9.7h0m0.1 6.9h0m0.8 2.7h0m3.2 2.6h0m0.9-23.7h0m2.3 3.6h0m0 22.6h0m1.5-13.6h0m1.4-7.7h0m0.8 22.6h0m0.1-21.7h0m0.9 2.5h0m0.6 16.8h0m0.6 2.1h0m0.1-5.4h0m0.7-8.7h0m0.4-0.9h0m0.1 19.8h0m0.2-22.5h0m0.6-2.9h0m0 9.4h0m0.3-2h0m0 0.6h0m0.4 3.6h0m0.1 4.2h0m0.4 2.2h0m0.8-18.9h0m0.1 4.6h0m0 13.4h0m0.9 1.3h0m0.6-6.4h0m0.2 5.4h0m1.2-11h0m0.4 6.3h0m1.9-10.1h0m0.5 12.9h0m1.3-30h0m0.1 9.1h0m0.2 59.7h0m0.2-41.4h0m0.2-0.3h0m1.3-4.3h0m1.3-35.7h0m0.2 47.1h0m0.1-51.1h0m0.5 43.9h0m1.1-6.9h0m1.1 2.3h0m0.2-29.6h0m1.2-10.7h0m0 21.3h0m1.1-2.6h0m0.2 35.9h0m0.7-17.2h0m1.5 19.9h0m0.4-54.2h0m0.3 18.6h0m0.6 40.9h0m1.6-29.4h0m0.1-17.7h0m0 5.3h0m1.3 4.4h0m0.2-12.5h0m0.8 2h0m1 1h0m0.7 32.3h0m0.3-24.7h0m0.8-16h0m0.2 24.8h0m2.4-17.3h0m0.3 5.8h0m1.8 22.6h0m0.5-36.9h0m0.4 4.9h0m0 23.9h0m0.3-33.4h0m0.2 33.9h0m0.9-23.1h0m0.1 30.6h0m0.1-27.1h0m0.1-0.1h0m0.1 2.2h0m2.2-18.4h0m0 24.4h0m0.7-3.9h0m0.4-15.5h0m0 0.4h0m0.1 17.8h0m0.2 14.9h0m1.3-46.2h0m0.1 22.4h0m1.2 30.1h0m0.2-35.8h0m0.2-0.2h0m0.1 8.2h0m0.3-4.4h0m0.4 26.3h0m0.9 13.4h0m0.1-34.8h0m0.5-18.6h0m0.1 50.3h0m2.6-39.8h0m0.4 0.2h0m0 0h0m0.5-10.5h0m4 0.8h0m0.9 8.3h0m1.8-0.5h0m1.3 3.5h0m18.5 23.4h0m17.4 3.2h0m0.4-6.6h0m0.1 4h0m3.7 10.3h0m0.4-11.9h0m0.4 4.1h0m5 0.2h0m1.1 4.8h0m1.5-5.7h0m5.6 6.6h0m0.3-12.5h0m2.3 5.4h0m0.5-1.8h0m1.8 2.5h0m0.3 9.3h0m1.4-4.9h0m3.2 6.3h0m0.9 7.8h0m0.2-17.4h0m2.2 9.5h0m2.4-0.6h0m1.6 2.7h0m0.3 2.7h0m1.3-5.5h0m0.3-0.4h0m0.1-1.5h0m1.7 12.4h0m0.4-13.8h0m2.1 14.7h0m0.6-11.8h0m0.2 4.4h0m0.2 9.9h0m7.1-6.2h0m4.2-9h0m80.5 19h0m9.4 1.8h0m4.3 0.5h0m1-17.5h0m0.2 24.7h0m1.1-8.3h0m1.7 4.3h0m2 9.8h0m1.7-27.2h0m0.1 17.9h0m0.4-33.9h0m1 39.4h0m0.6-7.1h0m1.1-9.6h0m1.5 17.7h0m9.2-15h0m1.2 11.9h0m2.7 3.6h0m3.7-14.6h0m2.7 8.4h0m0.6-3.7h0m1.5 6.3h0m0.4 0h0m1.4-26.5h0m0.6 18.6h0m3.6 10.7h0m0 2.3h0m1-40.6h0m3 4h0m0 27.1h0m0.3 4.8h0m0.1-32.1h0m0.2 34.8h0m0.4-32.3h0m0.2 24.8h0m0 0.5h0m0.9-27h0m0.3 23.3h0m0 5h0m0.2-10.8h0m0.6 13.8h0m0.7-6.1h0m0.2 1.9h0m0.2-10.7h0m0.1-20.1h0m0.4-1.1h0m0.3 10.5h0m0 25.1h0m0.3-1.3h0m0.3-8h0m0 15.7h0m0.2-10.8h0m0.2 0.6h0m0.2 0.3h0m0.1-38h0m0.5 45.2h0m0.1-33.8h0m0.5 24.3h0m1 8h0m1-18.5h0m0 6h0m0.5 12.9h0m0.5-7.6h0m0.6 2.5h0m0.3 1h0m0.1 4.2h0m0.1-7.9h0m0.3 7.3h0m0.7-5.5h0m0.3 11h0m0.3-5.5h0m0.3-8.8h0m0.5 1.9h0m0.6-2.5h0m0.4 3.3h0m0.3-2.9h0m0.1-3.4h0m0 1.7h0m0.1 1.5h0m0.2 3h0m0.2-9h0m0.2 2.7h0m0 12.6h0m0.1-8.9h0m0.1 5.5h0m0.4-9.1h0m0.1 8.8h0m1.1 0.8h0m0.1-6.9h0m0.1 0.2h0m0.1 1.8h0m1.6 1.2h0m0 3.1h0m1.5-1h0m0 5.4h0m2.5-27.6h0m0.8 14.6h0m0.2 10.1h0m0.1-4.4h0m0.1 8.1h0m1.2-6.8h0m0.8-3.9h0m0.6-2.9h0m3 1.9h0m4.1 2.4h0m0.1-108.5h0m1.5 5.7h0m1.9 87.3h0m0.5-71.2h0m1.3-9.6h0m0.5-11.7h0m3.2 12.1h0m0.4-8h0m0.1 16.9h0m0.2-10.4h0m0.1-4h0m0.4-2.6h0m0 7.2h0m0.2-8.5h0m0.5-0.5h0m0 15.2h0m0.7-15.2h0m0.1-5.4h0m0.6 12.8h0m0.2-4.5h0m0.2 4.1h0m0.1 10.4h0m0.4-8.5h0m0.7 2.8h0m0.1 12.4h0m0.9-8.3h0m0.1-7.2h0m0.3-0.6h0m0.8-8h0m0.3 115.4h0m0.1-104.3h0m0.2-9.8h0m0 16.6h0m0.1-20.6h0m1.5-5.4h0m0.3 13h0m0.1 22.9h0m0.3-12.1h0m0 2.8h0m3.2-20.5h0m7.2 20.7h0m0.7-26.2h0m0.9 92.2h0m2.8-68.3h0m0.7 96.7h0m1.2-13.1h0m1 0.8h0m0.1 6.2h0m0.9-96.8h0m0 85.5h0m0.8-77.8h0m0.1 88.7h0m0.4-1.3h0m0.5-2.5h0m0.2-85.5h0m0.2 89.7h0m0.4-0.7h0m0.7-1.5h0m0.2-9.2h0m0.1-86.5h0m0.1 95.3h0m0.3-5.1h0m0.2 15h0m0.3-18.9h0m0.1 9.4h0m0.6 6h0m0.2-98.4h0m0.1 89.2h0m0 8.1h0m0.1-3.4h0m0.4-92h0m0.3 84.1h0m1 20.4h0m0.1-17.9h0m0.7-86.7h0m0.6 84.5h0m0.3 5.7h0m0.4 6.2h0m0.5-9.7h0m0 4.6h0m0.1 3.5h0m0.5-8.2h0m0.2-4.8h0m0.5 14.8h0m0.3-93.4h0m2.2 89.5h0m3.4-5.5h0m1.5 1.1h0m1.4-7.4h0m2-28.7h0m0 25.7h0m1.6 34.9h0m1.3-13.7h0m0.7 3.6h0m0.2-24.1h0m0.9-2.6h0m1.2-4.3h0m0.1 29.4h0m0.7-11.6h0m1.2 3.9h0m1.8 0.4h0m0.3 0.4h0m0.4 16.4h0m0.6-15.6h0m0.7-17.3h0m0.5 25.7h0m1.8-10.8h0m0.1 1.6h0m1.6-13.4h0m0.3 3.3h0m0 9.7h0m0 2.3h0m0.2-0.7h0m0 8.9h0m0.1-6.3h0m0.1-5.7h0m0.3-10.9h0m0.7 13.7h0m0 5.9h0m0.2-22.3h0m0 14.8h0m0.9 0.2h0m0 0.5h0m0.2-4.4h0m0.5-8.6h0m0.1 14.6h0m0.3-7.5h0m0.5 9.2h0m0.3-8.2h0m0.9 14.6h0m0.4 0.1h0m0.6 8h0m0.1-21.3h0m1.6 10.2h0m0.2 7.9h0m0.3-14.8h0m0.4 5.1h0m0 8.7h0m0.3-21.9h0m0.5 10.2h0m0.1-2.3h0m0.3-8.4h0m0 4.4h0m0 2.5h0m0.1-4.1h0m0.1-5.6h0m0.5 15.4h0m0.1-9.9h0m0.7 10.2h0m0.1-12.4h0m0 10.8h0m0 3h0m1-14.8h0m0.3 6.8h0m1.4 1.4h0m0.1-13.1h0m0.7 32.7h0m0.7-25.9h0m0.4 20h0m0.2-1h0m0.1-19.6h0m3.2-21.1h0m0.3 30.5h0m0.7 2.3h0m4.5-19.9h0m0.8 10.9h0m0.4 8.6h0m7.5 9.8h0m5-20h0m3.8 4.3h0m4.9-1.6h0m4.5-0.8h0m8.8 0h0m0 2.3h0m0.1-7.9h0m0.6 12.5h0m0.7-3.5h0m0.4-0.9h0m0.5-7.2h0m1.4 2.3h0m5.3 8.7h0m0.5-5.5h0m1-3.6h0m3.4 9.7h0m0.3-7h0m1.5-2.1h0m6.8-4.5h0m0.9 6.2h0m0.3-8.6h0m3.4 17.4h0m0.3-10.4h0m0.2 6h0m1-10.6h0m0.5 8.8h0m1.7-4.6h0m0.4 5.6h0m0.4-6.8h0m0.1 0h0m0 8.3h0m5.8-6.7h0m3.4 4.2h0m6.3-3.5h0"/><path d="M62.7 124.7h0m0.1-0.9h0m0.4 15.6h0m0.1-5.5h0m2.4-39.4h0m3.1 16.2h0m0 28.7h0m11 18h0m4.3-76.9h0m0.3-19.6h0m1.4 29.1h0m0.6-25.7h0m0.9 50.1h0m2-58.1h0m0.1 28.9h0m0.1-4.7h0m1 22h0m1.8-18.4h0m2.7-4.6h0m0.4-7.4h0m0.2 18.2h0m2.5-24.7h0m0.7 3.7h0m1.9-55.2h0m0.4 68.2h0m0.3-6.1h0m1.2 28.3h0m0.1-30.3h0m0.2 7.9h0m0.3-4.2h0m0.3 21.7h0m0.1-20.1h0m0 16.6h0m0.1-39.3h0m0 33h0m0.5 2h0m0.1-10.6h0m0.4 10.8h0m1.3-2.5h0m0.3 8h0m1.7-16.1h0m0.9-3.9h0m0.6-14.9h0m0 26.2h0m0.1-6.9h0m0.2-2h0m0.1 17.9h0m0.7-17.2h0m0.3 7.6h0m0.2 14.4h0m0.2-8.9h0m0.9 9.6h0m0.2 22.1h0m0.7-13.9h0m0.4-0.2h0m1.5-5.6h0m0.7 23.1h0m0.1-21.5h0m0.3-6h0m0.2 20.9h0m0.1-36.3h0m0.5 6.1h0m0 4.8h0m0.2-30h0m0 25.5h0m0.3 8.5h0m0.1-15.6h0m0.1-7h0m0.1 26.7h0m0.5-41.7h0m0 7.3h0m0.2 22.1h0m0.2-59.1h0m0.4 94.6h0m0.2-18.6h0m0.1-33.5h0m0.4 31h0m0.4 8h0m0.4-6.9h0m0.1 0h0m0.1-6.8h0m0.2 25.5h0m0.4-20.3h0m0.4 0h0m0.1 19.6h0m0 0.7h0m0.2-20.4h0m0 23.1h0m0.4-18.4h0m0.1-7.1h0m0.1 3.2h0m0.1 5.4h0m0.2-32.9h0m0.1 30.3h0m0.2-2.1h0m0.1-16.7h0m0.3 18.4h0m0.1 7.7h0m0.1-11.7h0m0.2 8.2h0m0.5-47.2h0m0 42.9h0m0.4-2h0m0.3 3.4h0m0.1-2.5h0m0.1 16h0m0.4-3h0m0.1-20.1h0m0 20.4h0m0.4-16h0m0.1 3.7h0m0 0.4h0m0.5 4.8h0m0.3 11.4h0m0.4 32.4h0m0.1-39.1h0m0.1-3.8h0m0 1.4h0m0.8 14.8h0m0.4-5h0m0.1-20.1h0m0.8 9.3h0m0.5 32.4h0m0.1-13.3h0m0.3-14.9h0m0.6-94.2h0m0.1 87.1h0m0.5 36h0m0.9-30.8h0m0.5 10.6h0m0.4 21.3h0m0.7-20.7h0m0.3-15.5h0m0.1 6.8h0m0.2 4.3h0m0 17.1h0m0.3-14h0m0.3 2.1h0m0.3 26.2h0m0.3-22.3h0m0.7 13.8h0m0.1-14.3h0m0.4 18h0m0.1-5.9h0m0.2-20.2h0m0.1 27.4h0m0.8-56.1h0m0.1 52.7h0m0.1-6h0m0.3-0.4h0m0.1 7.6h0m0.3-6.2h0m0 2.6h0m0.1-80h0m0.6 64.3h0m0.1 14.4h0m0.3-0.1h0m0.4-18.2h0m0.7-0.8h0m0.2-9.8h0m0.2 32.7h0m0.2-11.5h0m0.4 7.4h0m0.4-1.3h0m0 16.5h0m0.1-95.1h0m0.5 86.6h0m0.2-8.4h0m0.4 2.4h0m0.2-10.6h0m0.3 11.6h0m1.1 11.2h0m0.3-89.6h0m0.8 74.9h0m1.9-83.1h0m1 65.2h0m0.9-52.9h0m2.6 44.3h0m0.3-53.3h0m0.1 58.7h0m3.3-3.8h0m1.3 12.9h0m0.6-26h0m0.8-45.2h0m0.9 13.6h0m0.2-7.4h0m0.4 4.2h0m0.7-7.4h0m2.3 15.1h0m0.6 42.5h0m0.1 12.7h0m0.6-64.5h0m0 4.4h0m1.2-8.5h0m0 15h0m0.6-5.5h0m0 5.5h0m0.4-0.5h0m0.2-7.7h0m0.3 11.3h0m0.2-13.8h0m0.1 49.2h0m0.1-38.6h0m0.3 46.1h0m1.3-9.1h0m0.5-33.6h0m2.1-5.3h0m0.1 46h0m0.2-47.2h0m0.5-7.4h0m0.6 16.2h0m0.5-7.9h0m0.6 1.3h0m0.1-2.5h0m0.4 6.9h0m0.2-9.1h0m0.2 5.8h0m0.7-0.8h0m0.4 46.7h0m1.7-107.7h0m2.9 111.4h0m1.6-28.8h0m0.2 18.3h0m1.2 0.7h0m1.5 1.8h0m0.3 10.8h0m0.9-9.6h0m0.8 2.3h0m0.1-16.3h0m1 4.4h0m0.2 7.6h0m0.1-4.7h0m1.2 12.1h0m0.2-34.7h0m0.5 25.3h0m1.4-5.5h0m0.1 2.5h0m0.1-0.1h0m0.3 11.1h0m0.5-14.7h0m0.3 2.1h0m0.7 17.9h0m0.5-20h0m0.1 5.6h0m0.2-11.8h0m0 15h0m0.6-3h0m0.7-10.3h0m0.3 11.3h0m0 2.3h0m0 12h0m0.1-10.1h0m1 10.7h0m0.2-4.2h0m0.1 2.5h0m0.3-16.8h0m0.1-7.5h0m0.3-2h0m0.5 7.1h0m0.1 2.3h0m0.6 4.7h0m0.1-7.5h0m0.1-3.6h0m0.6 10.8h0m0.1 8.1h0m0.3 1h0m0.7-7.7h0m0.1-9.5h0m0 2h0m0.5 2.6h0m0.1-0.9h0m0.9-1.1h0m0.2 5.7h0m0.4-7h0m0.6 11.9h0m0.5-22.9h0m0 19h0m0.4 6.4h0m0.3-15.1h0m0.4 21.6h0m0.1-14.9h0m1.1-5h0m1.8-39.6h0m1.5 23.1h0m0.9 18.3h0m0.1-0.5h0m0.1 0.4h0m0.6 4.9h0m0.8-2.7h0m1.5 3.4h0m1.1-21.9h0m1.4-9.9h0m0.5 0h0m0.2 41.7h0m0.3-19.8h0m1.6-7.8h0m0.1 0.7h0m0.1-20.3h0m1.7 8.7h0m0.5 25.2h0m0.1-37.3h0m0.2 0.9h0m0.6 27.6h0m0.2-3.7h0m0.1-4.6h0m1-9.2h0m0.6-4.4h0m0.1 16.3h0m0.6 0h0m0.3-22.2h0m0 12.4h0m0 24.9h0m0.3-27.4h0m0.5 26.4h0m0.4-21.9h0m0.3-18.7h0m0.5 5h0m0 30.2h0m0.1-13.1h0m0.1-10.7h0m0.8-11.6h0m0.6 51.1h0m0.3-35.8h0m0.1-19.9h0m1.9 22.5h0m0 1.9h0m0.2-5.7h0m0.5-4h0m0 1.7h0m0.5-6.3h0m0.3 32.9h0m0.3-33.4h0m0.3-5.2h0m0.3 18.9h0m0.3 27.9h0m1.3-44.7h0m1.1 21.1h0m0.3-19.9h0m3.3-0.8h0m0.1-2.8h0m1.1 9.2h0m1-13.3h0m1.2 11.8h0m0.7-3.7h0m1.3-6.1h0m0 38.5h0m2.4-31.9h0m0.8-7.9h0m0.1 46.9h0m0.4-47.5h0m3.4 17.5h0m5.7 55.4h0m1.3-50.2h0m0 20.2h0m21.1-12.1h0m17.7 18.3h0m7.5-3.8h0m2.1 0.2h0m0.3 6.6h0m1.6-11.8h0m1.3-0.4h0m6 2.4h0m3.6 9.9h0m0.1-1.4h0m1.9-5.5h0m1.3 8.9h0m0.3-2.2h0m1.1 2.5h0m0.1-5.3h0m2.3-6.5h0m1-1.9h0m1.4 9.2h0m0.3 12.1h0m3-9.2h0m9.6-1.7h0m0 11.6h0m75.8 17.8h0m1.3-14.5h0m0.6-2.7h0m0.2 10.3h0m8 1.8h0m8.2-31.7h0m2.5 32.2h0m3.7-3.4h0m0.8 4.8h0m0.4-14.6h0m1.1 12.2h0m2.2-5h0m1.6 3.5h0m4.7 8.7h0m1.6-7.9h0m0.6 0.6h0m2.1 3.4h0m0.2-12.3h0m1.6 15.9h0m1-8.9h0m4.9-2.2h0m2.1 8.5h0m3.9-39.4h0m0 13.9h0m0.2 21.7h0m1.4 9.6h0m2.3-45.4h0m0.4 6.8h0m0.8 21.9h0m1.6-0.5h0m0.1 8.5h0m0.7-2.4h0m0 7.4h0m0.6-4.7h0m0.4 4.8h0m0.3-33.8h0m0.1-5.6h0m0.3 32.8h0m0.1 1.3h0m0.3-4h0m0.4 1.8h0m0.1-31.1h0m0.3 34.9h0m0.1-5.6h0m0.4 13h0m0.5-8.3h0m0.2-30h0m1 13.8h0m0 15.4h0m0.1 7.6h0m0.8-10.2h0m0 2.5h0m0.4 5.8h0m0.1-4.5h0m0 9.7h0m1-28.3h0m0.6 16h0m0.3-4.2h0m0.1-3.4h0m0.3 10.3h0m0.7-10.4h0m0.6 6h0m0.7 0.7h0m0.6-1.4h0m0.3-23h0m0.8 1.8h0m1.4 23.4h0m1.8-6.7h0m0.1 8.3h0m0.1-17.9h0m0.2 11.9h0m0 5.5h0m0.1-12.1h0m0.2 8.7h0m0.2-3.2h0m0.1 3h0m0.1-1.2h0m0 5.9h0m0.1-1h0m0 2.5h0m0.1-4h0m0.1-31h0m1.1 39h0m0.4-10.8h0m0.2-11.5h0m0.3 10h0m0.2 11.3h0m0.5-40.7h0m0.1 29.5h0m0.2-3.8h0m1.6 0.5h0m0 3.8h0m0.8-4.6h0m0.3 10.2h0m0.3-4.1h0m0.4 2.7h0m0.5-1.9h0m0.1 0.6h0m0.6-7.5h0m0.8 20.8h0m0.1-22.9h0m0.5-80.8h0m3.3 78.9h0m5.2 13.6h0m0.4-15.5h0m1.9-89.9h0m0.7 9h0m2.2 1.5h0m1.7-6.8h0m0.1-2.4h0m0.9-11.1h0m0.6 17h0m0.2 4.8h0m0.9-10.1h0m2.2 8.4h0m0.3-6.1h0m0.7 120.1h0m0.6-112.4h0m0.8-7h0m1.9-12h0m0.1 18.3h0m0.1-4.8h0m0.5-1.6h0m0.2 1.8h0m0.3-18.9h0m0.2 26h0m0.4-11.4h0m0.4 7h0m0.2-7.6h0m0.4 5.4h0m0.2-12.7h0m0.4 14.2h0m0.2-4h0m0 6.5h0m1-17.8h0m1.6 7.4h0m0.1 1.9h0m6 3.1h0m5.1 102.7h0m4.5 8.3h0m0.4-13.4h0m2.2-0.5h0m0.1-3.3h0m0.1-6.3h0m0.5-77h0m0.4 81.1h0m0.1-34.5h0m0 33.4h0m0.6-81.2h0m0 88.9h0m0.3-8.7h0m0.1 29.5h0m0.3-113.1h0m0.3 1.6h0m0.5 82.7h0m0 1.3h0m0 12.1h0m0.4-91.1h0m0.4 86.1h0m0.3-90.9h0m0.4 86.9h0m0.8 4.2h0m0.2-87.3h0m0.1 86.7h0m0.1 15.7h0m0.3-1h0m0.1-4.5h0m0.1-12.5h0m0.6-0.9h0m0.3 0.3h0m0.6 3.9h0m0.8-3h0m0.1-2h0m0.6-6.5h0m0.4 9.5h0m0.1-3.6h0m0.1 2.5h0m0.5 1.6h0m0.2 5.6h0m0.8-5.6h0m1-3h0m1.1 6.9h0m0.6 1.4h0m3 11.9h0m0.3-18.9h0m1-9.3h0m3.7 3.7h0m0.1 19h0m1.1 2.9h0m3.6-6.1h0m0.2 8.1h0m1.1-15.2h0m3.9 10.9h0m0.2-9h0m0.6 0.3h0m1.5 5h0m0.2-1.8h0m0.8 9.8h0m0.2-14.5h0m0.4-3.1h0m1.1-1.1h0m0.4 9.5h0m0.3-14.7h0m0.3 16.3h0m0.1-11.6h0m0.3 6.8h0m0.5-8.9h0m0 10.1h0m0.3 4.5h0m0.7 2.3h0m0.1-3.4h0m0.2-7.1h0m0.1-5.5h0m0.1-0.3h0m0 6.9h0m0 2.7h0m0.5-27.3h0m0 19.1h0m0.2 7.6h0m0.4 0.8h0m0.8-12.8h0m0.9 22.7h0m0.2-10.5h0m0 7.1h0m0.6-11.9h0m0.2-14.8h0m1.1 17.9h0m0.2-6.4h0m0.9 4.8h0m0.8 3.7h0m0.3-2.2h0m0.4-16.3h0m0.5 13.7h0m1-11.6h0m0 5.1h0m0.7 16.9h0m0.1-4.6h0m1.7 3.7h0m0.1-18.3h0m0.3 3.6h0m0.2 9.5h0m0.3 2h0m0.1-3.8h0m0.8 16.4h0m1.3-41.3h0m0.2 16.3h0m1.2-11.2h0m0.4 26.7h0m4-12.9h0m0.7 0.7h0m5-10.2h0m4.7 20.8h0m6.2-16.2h0m4.3 13.4h0m4.5-8.8h0m10.2-3.8h0m5.7 9.8h0m1.2-3.8h0m0.1-0.4h0m0.8-2.6h0m3.3 6.2h0m0.5-9.5h0m1.3 6.6h0m0.3 1.1h0m1.4-3.9h0m0.4-3.5h0m4.1 1h0m5.9-2h0m0.1-4.6h0m1.5-1.7h0m0.4 4.8h0m1.6 4h0m1.5 4.1h0m0.7-42.4h0m0.7 43.3h0m0.3-7.6h0m0.7 4.5h0m0.5-4.1h0m0.3 2.5h0m0.9 12.5h0m2-16.5h0m4.3 0.7h0m11.3 5.5h0m1.7 1.9h0m1.5-4h0m1.7 0.6h0m0.6 12.8h0"/><path d="M59.9 118.4h0m2.5 25.8h0m0.9-16.5h0m4.3 11.1h0m0.4-10.4h0m2.4 8.3h0m5.5-64.4h0m2.4 1.5h0m1.1 37.7h0m4.3-37.8h0m2.1-0.4h0m1.1 2.1h0m0.2-8.9h0m0.7 5.6h0m6.2 32.7h0m0.3-9.6h0m0.5-13h0m0.2 5.5h0m1.5 0.8h0m0.3-14.3h0m1.1 3.7h0m0.7-8.2h0m1.5 26.2h0m0.5-19.6h0m0.6 38.8h0m1.1-49.5h0m0.6 7.7h0m1.6 26.9h0m0.5-1h0m0.4-25.3h0m0.5-8.8h0m0.1 22.2h0m0.7-6.3h0m0.2 16.2h0m0.5-6.6h0m0.4-6.2h0m0 4.3h0m0.4 1.7h0m0 8.2h0m0.4 31.2h0m1.3-44.7h0m0.7 5.7h0m0.4 11h0m0.6-10.6h0m0.4-17.2h0m0.2-6.6h0m0.4 12.6h0m1.1 18.2h0m0.4-30.5h0m0.6 59.6h0m0.3-55.1h0m0.7-12.9h0m0.9 31.4h0m0.3 20.6h0m0.8-3h0m0.4 19h0m1.4-23.5h0m0.1 3.8h0m0.5-28.4h0m0 6.3h0m0.1 20.7h0m0.1 3.6h0m0.3-36.5h0m0.3 38.9h0m0.5-3.4h0m0.3 0h0m0.1 6h0m0.3-37.6h0m0.4 32.9h0m0.1 3.1h0m0.3 16.9h0m0.1-20.6h0m0.2 0.5h0m0 23.2h0m0.2-22.6h0m0.2-5.9h0m0 5.3h0m0.3-9.8h0m0.6 4.7h0m0.1 8.8h0m0 5h0m0.4-0.2h0m0.1-9.4h0m0 5.5h0m0 16.7h0m0.1-24.3h0m0.1-1.1h0m0.1 15.9h0m0.1-27.2h0m0 21.3h0m0.1-14h0m0.4-14.3h0m0.6 22.5h0m0.5 3.4h0m0 16h0m0.3-6h0m0.7 4.4h0m0.1-53.1h0m0 50h0m0.1-17h0m0.2-27.4h0m0.1 51.3h0m0.6-5.4h0m0 26.3h0m0.7-33.2h0m0.1-11.5h0m0.1-21.7h0m0 30.8h0m0.2 24.1h0m0.1-13.2h0m0.3-17.5h0m0.6 14.2h0m0.1-13.5h0m0.4 14.7h0m0.1-1.6h0m0.1-28.1h0m0.7 45.8h0m0.2-17.9h0m0.3 13.1h0m0.2-18.7h0m0.4 36.2h0m1-23.3h0m0.1-21h0m0.5 27.4h0m0.3 9.7h0m0.4-2h0m0.2-10.3h0m0.6-1.8h0m0.1-1.5h0m0.4 4.6h0m0.2 17h0m0.4-7.7h0m0.4-14.8h0m0.1 18.1h0m0.1-33.8h0m0.4 35.4h0m0.2-2.9h0m0.1-1.8h0m0.1 5h0m0 1.8h0m0.6-28.4h0m1.4 8.2h0m0.4-17h0m0.3 37.5h0m0.3-9.2h0m1.2-15.3h0m0.1 26.5h0m0.4-3.9h0m0.2-35.8h0m0 29.2h0m0.9 0.8h0m1 1.7h0m0.6-29.1h0m0.1 31.5h0m0.2-90.2h0m0.4 87.7h0m0.8 5.6h0m0.7-4.2h0m0.5-28.7h0m3.7 2.8h0m1.7-46.9h0m2.2-9.2h0m4 58.1h0m0.3-38.5h0m1.1 50.1h0m0.2-3.7h0m1-27.9h0m0.5-32.1h0m0 4.2h0m1.1 2.4h0m0.1 7.1h0m0.7 49.9h0m0.2-11h0m0.5-43.2h0m0.4 52.2h0m0.2-51.2h0m0.5-6.3h0m0.1-3.1h0m0.6 3.1h0m0.3 2.4h0m0 6.1h0m0.2 1.4h0m2.5-13.4h0m0.3 7.2h0m0 2h0m0.2 1.6h0m0 2.2h0m0.2-9.8h0m0.8 38.5h0m1.7-31.7h0m0.1-5.3h0m0.4 48h0m0.1-50.7h0m0.2 7.5h0m0.2 40.3h0m2.5-37.3h0m0 6h0m1.4 29.1h0m1.1-43.7h0m0.4 45h0m0.2 9.3h0m1.6-13.4h0m0.4-5.6h0m0.4-61.7h0m0.2 82h0m0.1 3.7h0m2.6-12.4h0m1-3h0m1.3 2.4h0m1.1-6.5h0m0.4 13.1h0m0.3-17.8h0m1.3-2.5h0m0 12.3h0m0.1-9.7h0m0 14.4h0m1.1-1.1h0m0.3-14.3h0m1.5 20.7h0m0.3-2.8h0m0.6-12.6h0m0.7 3h0m0.3 10.9h0m0.2-9.5h0m0.1 3h0m0.9 6.2h0m0.1-15.2h0m0 3.5h0m0 1.4h0m1.1-11.3h0m0.1-3h0m1 9.9h0m0.2-2.2h0m0 12.6h0m0.4 2.9h0m0.2 10.7h0m0.1-22h0m0.3 3.5h0m0.4 3.8h0m0.4-3.9h0m0.1 11.2h0m0.1-9.5h0m0.3-5.6h0m0.7-7.5h0m0.1 20.2h0m0.1-16.1h0m0.4 8.6h0m0.6-5.8h0m0 10.1h0m0.3-2.8h0m0.4-7.9h0m0.4-1.8h0m0 10.3h0m0.1-9.2h0m0.6 0.9h0m0.2 6.6h0m0.8-6.4h0m0.6-0.2h0m0.2-12.5h0m0.9 10.2h0m0.7-3.1h0m0.1 1.7h0m0.4 13.6h0m1.2-5.3h0m0.6-16.2h0m0.9 16h0m0.1 12.6h0m3.1-35.9h0m1.5 14h0m0.9-16.7h0m0 19h0m0.1-21.7h0m0.9 11.2h0m0.4 18.2h0m0.1-7.8h0m0.2 2.5h0m0.3-36.7h0m1.4 33.1h0m1.3 5.2h0m0.4-20h0m0.4-24.2h0m0.1 24.7h0m0.1 36.7h0m0.2-57.9h0m0.5 39.4h0m1.1-37.8h0m0 5.4h0m0.4 14.3h0m0.3 3.2h0m0.3-11.5h0m0 5.5h0m0.2 21.1h0m0.3-35.3h0m0.2 41.2h0m1.7-32h0m0.5-5.7h0m0.9 12.2h0m0.3-14.4h0m0.9 21.7h0m0.1-25.3h0m0.1 13.2h0m0.3-28.4h0m0.4 22.8h0m0.1-2.9h0m0.4 34.7h0m0.5-20.8h0m0 29.6h0m0.8-39.7h0m0.2-1h0m0.2 6.1h0m2.2 37.1h0m0.3 16.5h0m0.3-28.2h0m0.4-37.9h0m0.6 2.8h0m0 8.2h0m0.4 4.3h0m0.3-9.6h0m0.3 36.3h0m0.2-29.1h0m0.5-5.5h0m0.8 0.4h0m0.3 13.8h0m0.4-10.4h0m0.9 40h0m2.9-57.3h0m0.1 14.5h0m0.8-10.4h0m3.9 12.3h0m0.9 14.4h0m17.1 46.9h0m2.5-34.2h0m1.2-32.8h0m8.1 33.2h0m14.1 1.7h0m0.2-2.5h0m0.7 0.2h0m3.9-3.8h0m1.4 5.7h0m0.7 9.6h0m0.1-18.8h0m4.3 7.2h0m2 12.6h0m0.1-17.5h0m2.4 20.1h0m0.6-14.8h0m1.3 7.6h0m0.1-10h0m0.4 1h0m2 3.9h0m1.4 3.8h0m0 3.3h0m0.1-15h0m2.1 8.6h0m1.9 0.5h0m1.4 4.6h0m0.7 1.4h0m0.8 0.2h0m0.1-101.4h0m0.4 106.3h0m1.4-11.3h0m0.3 3.9h0m2.1 0.6h0m0.6-3.4h0m0.6 6.3h0m0.8 1.4h0m2.4 0h0m0.1-1.7h0m0.7-3h0m3.3 3h0m2.5 1.8h0m0.4-2.3h0m86.8 20.5h0m1 10.8h0m5.4-16.3h0m1.9 7.2h0m2.6 3.6h0m0.1 27.2h0m0.3-35.8h0m1.9 15h0m2.2-18.5h0m0.1 13.6h0m0.9-0.4h0m3.2 1.2h0m1.4-7h0m0.2-7.5h0m0.7 7.5h0m1.3-44.8h0m2.2 49.8h0m5-33.1h0m1.5 31h0m2.5 1.5h0m1.7-32.5h0m0.7 16.4h0m0.2 18.1h0m5 12.3h0m1.4-42.7h0m3.2-1.6h0m0.1 10.3h0m1.6 19.3h0m2.1-1.1h0m0.7-32.3h0m0.2 35.8h0m1.1-5.7h0m0.7 9.9h0m0.7-1.6h0m0.6-36.2h0m0.1-4.4h0m0.8 32h0m1.1-7.4h0m0.6 15.9h0m0.1-6.1h0m1.3 6.3h0m0.1-11.7h0m0.4-0.8h0m0.2-22.4h0m0.3 0.4h0m0.4-12.8h0m1 9.4h0m0.5 21.5h0m0.9 11h0m0.3-8.9h0m0.4 3.8h0m1.4 13.4h0m0.1-7.1h0m0.1 0.6h0m0.5-1.2h0m1.3-6.9h0m0.2-5.7h0m0.5 8h0m0 1.5h0m0.1-30.9h0m0.1-2.5h0m0.5 27.4h0m0.5 12.2h0m0.1-0.8h0m1-36.6h0m0.4 19.3h0m0.2 0.5h0m0.1 4.5h0m0.2 9.6h0m1.4-8.7h0m0.1 9.6h0m1.1-6.4h0m0.1 3.8h0m0.7-13.5h0m0 7.4h0m0 5.5h0m0.3-11.3h0m0.2 10.7h0m0 3.6h0m0.3 6.4h0m0.2-13.9h0m0.8 5h0m0.1-10h0m1.4 11.4h0m0.3-7.2h0m0 8.2h0m0.2-12.4h0m0 7.2h0m0.3-2.4h0m0.3-8.1h0m0.3 7.1h0m0.1-8.4h0m0.6 8h0m0.2-4.4h0m2.5 1.9h0m0.2-0.7h0m1.9-2.3h0m8.5-107h0m2.9 20.6h0m1-7.4h0m0.5-3.7h0m2.1 14.8h0m2-12h0m1.6 7.5h0m0.8-1.3h0m0.1-9.1h0m0 3.8h0m0.6-8.7h0m0 78.5h0m1-81.6h0m0 14.1h0m0.1 7.6h0m0.2-4.3h0m0.6-8.4h0m0.1 0.5h0m0 6h0m0.3-0.4h0m1.3-14.8h0m0.1 13.3h0m1.7-5.2h0m0 4h0m1.5-4h0m0.5-20.3h0m0 24h0m0.5-12.8h0m2.1 10.1h0m1.8 3.2h0m0.6 8.6h0m6.3 77.7h0m1.1-74.1h0m0.7 92.8h0m2.3-107.4h0m1 97.3h0m0.9-77.3h0m0.7 87h0m0.1-4.2h0m0.2-91.7h0m0.5 80h0m1.6-82.2h0m0.1 6.8h0m0.1 79.6h0m0 13h0m1.1-90.8h0m0.2 82.6h0m0.1-84.8h0m0 83.4h0m0.1 1.7h0m0.7 0.2h0m0 7.4h0m0.1-8.5h0m0.7 6.5h0m0.9-6.6h0m0.2 0.3h0m0.3-5.8h0m0 6.5h0m0.2 16.7h0m0.4-23.5h0m0.2 8.4h0m0.1-4.8h0m0.6-91.7h0m1.2 1.6h0m0.1 81.9h0m0.1 19.6h0m0.2-6.8h0m0.1-1.4h0m0.3 3h0m0.1-5h0m0.8-74.9h0m0.2 75.1h0m0.1 3.3h0m0.5-4h0m0 4.9h0m0.2 1.4h0m1.3 14.6h0m0.5-30.6h0m0 14.8h0m0.9-1.7h0m1.2-32.9h0m0 52h0m0.2-20.3h0m1.4 17.9h0m0.2-23.2h0m1.1 5.9h0m0.1 2.3h0m1.5 3.2h0m0.1 18.9h0m1.2-41.3h0m3.9 7.9h0m0 9h0m1.7 12.1h0m0.9-4.8h0m0.2-23.5h0m2.2 28.4h0m0.6-1.8h0m0.6-13h0m0.4 0.7h0m0.1 0.4h0m0.4-12.3h0m0.2 22h0m0.7-9.4h0m0.1 17.7h0m0.7-15.7h0m1 10.1h0m0.9-6.2h0m0.9 8.5h0m0.6-10.1h0m0.1-28.7h0m0 41.4h0m0.4-37.7h0m0 28.8h0m0 4.8h0m0.2-11.7h0m2.3-7.3h0m0 10.6h0m0.1-2.4h0m0.1 3.9h0m0 1.4h0m0.2-9.3h0m0.5 32.6h0m1-34h0m0.3 14.6h0m0.2-10h0m0.1-1.5h0m0.3 8.8h0m0 2.1h0m0.2-13.3h0m0.2 1.1h0m0.3-1.7h0m0.8 9.6h0m0.1 2.6h0m0.2-10.7h0m0 18.1h0m1.8-9.1h0m0.8 2.7h0m1.8-7.2h0m0.4 0.9h0m0.2-11.1h0m0.8 9.3h0m0.1-1.4h0m0.5 8.4h0m0.4 1.7h0m0.6-11.6h0m2.2 6.7h0m0.3 2.7h0m0.3 6.5h0m1.3-1.5h0m4.5-3.7h0m0.5-1.9h0m0.6 7.1h0m8.9 3.5h0m1.1-3.2h0m3.1-28.5h0m6.4 4.2h0m0.4 10.9h0m0.2-23h0m0.2 19.9h0m2.2-4.9h0m7.5 4.1h0m4 4.8h0m4.5-1.8h0m3.5-2.6h0m0.8 6.1h0m4.2-8.3h0m4.6 8.3h0m0.5 4h0m0.6-12.3h0m1.7 8.2h0m0.4-5.8h0m0.8 3.9h0m0.7-6.2h0m0.9-3.1h0m0.1 12.8h0m1.5-3h0m2.4-2.9h0m0.1 0h0m0.4-2.1h0m0.3 0.7h0m0.2 7.1h0m2.4-3.9h0m0.5-4.7h0m0.1 6.1h0m1 0.1h0m1.7-10h0m0.3 9.7h0m0.4-1.7h0m1.6-5.4h0m0.9 1h0m1.2 7.1h0m0.7-3.7h0m0.1 2.5h0m2.5-6.7h0"/><path d="M53.7 147.9h0m14.8-72.2h0m0.3 50.5h0m1.1 13.1h0m0.1-10.2h0m0.3 0.9h0m2.1-21.2h0m0.9-22.5h0m1-22.6h0m0.3 67.8h0m4.7-82.2h0m0.1 33.5h0m0.4 40.2h0m5.4-61.9h0m3.5 25.6h0m1.3-35.9h0m0.9 31h0m2.9 8.4h0m1.1-56.6h0m0.1 57.7h0m0.6-16h0m0 6.1h0m1.3 12.2h0m0.3-20.4h0m2.4-31.1h0m1 31.4h0m1.1 20.4h0m1.2-10.1h0m0.2 10.6h0m0.3-8.4h0m0.6-17.4h0m1.5 28.1h0m0.2-19.4h0m0.2-13.2h0m0.3 2.6h0m1.6 18.5h0m0.2-11.7h0m0.6-7.2h0m0.1 30.4h0m1.4-5.9h0m0.3-10.6h0m0.2-0.2h0m0.1 9.1h0m0.4-5.3h0m1 0.6h0m0.6 13h0m0.1-20.2h0m0.8 4h0m0.1-27.2h0m0.3 48.7h0m0.2-20.4h0m0.2 35.9h0m0.2-14.3h0m0.1-5.7h0m0.3-18.3h0m1.4 51.4h0m0.3-49.2h0m0 43.8h0m0.1-20.6h0m1 6.2h0m0.7-60.4h0m0 60.7h0m0 13.2h0m0.8 1.4h0m0.1-22.2h0m0.5-31.4h0m0.2 36.5h0m1.3 20.6h0m0.8-23.5h0m0.1 7.8h0m0 1.5h0m0.2 0.7h0m0.3 2.3h0m0.5-13.8h0m0 5.8h0m0.1 5.9h0m0 11.6h0m0.1-16.8h0m0 1.7h0m0.9-1.6h0m0.9 0.9h0m0.1 2.8h0m0.1-13.6h0m0 22.6h0m0.4-36.6h0m0 25.7h0m0.1 1.9h0m0.3 6.8h0m0.2 0.5h0m0.3-18.1h0m0.3 6.2h0m0.2 0.8h0m0.1-0.7h0m0.2 5.7h0m0.3-67.7h0m0 81.7h0m0.5-10.1h0m0.3-7.5h0m0.9-8.8h0m0.1 14.3h0m0.4 3.9h0m0.5-34h0m0.4 61.1h0m0.1-29.9h0m0.1 32.3h0m0.4-29.6h0m0.1-62.2h0m0.1 70h0m0.4 7.7h0m0.4-1.9h0m0.1-10h0m0.2 24h0m0.2-19.8h0m0.1-8h0m0 9h0m0.4 12.8h0m0.1-16.1h0m0.1-3.8h0m0.1 6h0m0 6.4h0m0 9.1h0m0.3-17.4h0m0.3-4.4h0m0.8 27h0m0.3 3h0m0.2-20.9h0m0.2-10.5h0m0 25.2h0m1.1-22.8h0m0 5h0m0.2 3.8h0m0.2 8.2h0m0.4 1.4h0m0.5-26.5h0m0.2 12h0m0.3 23.2h0m0.1-7.2h0m0.5-18.6h0m0.9 6.4h0m0 16.2h0m0 9.2h0m0.3-33.5h0m0.3 25.8h0m0.1-1.8h0m0 10h0m0.1-7.3h0m0.5-4.6h0m0.2-0.1h0m0.3-1.7h0m0.1-1.4h0m0.5 5.6h0m3-17.1h0m0 21.9h0m0.3-4.8h0m2-66.3h0m1.3 31.7h0m0.6-47.8h0m3.7 65.8h0m1 9h0m0.6-24h0m1.9-50.9h0m1.7 18.1h0m0.9-11.4h0m1.9 61h0m1.8-66.6h0m0.8 14.5h0m0.2 58.2h0m0.3-65.7h0m1.1 53.2h0m0.9-60.2h0m0.2 9h0m1 48.3h0m0.6-67.3h0m0.5 25.1h0m0.1-8.1h0m0.1 5.5h0m0.7-5.3h0m0.9 12h0m0.4-10h0m0.5 0.5h0m0.2 33.6h0m0.2-56.4h0m0.1 29.7h0m0.1 4.1h0m0.4-12.9h0m0.1 43.1h0m0 0h0m0 4.2h0m0.3-48.2h0m0.1 0.9h0m1.8 5.8h0m0.3 2.4h0m0.2-0.6h0m0.3 37.3h0m0.6-39.1h0m0 2.3h0m0 0.4h0m0.8 42.2h0m0.4-41.6h0m1.8 27.5h0m1-33.3h0m0.1 39.1h0m0.2-33.1h0m0 37h0m0.6-9.1h0m0.2 1.3h0m0.3-32.8h0m0.7 47.1h0m2-42.9h0m1.8 29.2h0m0.2 7.3h0m1.1-3.4h0m0.2-11.6h0m1.4-5.1h0m0.3 18.1h0m0.4-14.9h0m0 16.3h0m0.5-9h0m1 9.9h0m1.3-21.2h0m0.2 9.6h0m0.1 13.3h0m0.3-12.8h0m0.4 6h0m0.6-7.5h0m0.3-3.5h0m0.3 10.3h0m1.7-5.3h0m0.1 0.4h0m0.9 18.4h0m0.2-10.8h0m0.1 13.2h0m0.3-11.2h0m0.3-10.6h0m0.5 6.9h0m0.2-1.6h0m1.2 4.4h0m0.1-1h0m0.1-10.1h0m0 11.9h0m0.2 5.3h0m0.3 9.9h0m0.4-20.1h0m0.9 2.7h0m0.3-7.8h0m0.7 18.9h0m0.1-23.5h0m0.1-0.2h0m0.1 11.7h0m0 4h0m0.2-8.1h0m0.3 4h0m0.2-0.5h0m0.1-0.9h0m0.7 5h0m0.2 10.9h0m0.3-7.5h0m0.3-17h0m0.2 11.5h0m0.2-12.7h0m0.2 4.9h0m0.4 14.8h0m0.7-1h0m1.5-1.3h0m1-11.3h0m0.9 4.5h0m0.9 7h0m3.3-21.8h0m1.6 0.4h0m0.1 20.9h0m1.1-0.1h0m1.4-25.4h0m0.3 27.4h0m0.2 2.4h0m1.6-49.3h0m0.3 10.7h0m0 29.2h0m1.1-25.9h0m0.9-6.9h0m0.2 12.7h0m0.1-15.3h0m0.2 32.9h0m1.5-18.3h0m0.7-7.5h0m0 21.6h0m0.5-28.2h0m0.9-0.3h0m0.5 11.2h0m0.5-0.1h0m0.2-23.8h0m0 38.3h0m0.5-22.1h0m0.2 8h0m1.3-1h0m0.1-14.1h0m0 22.6h0m0.1-7.6h0m0.1 11.7h0m0.3-13.5h0m0.1 2.9h0m0.2-8.4h0m0.5 10.4h0m0 1.4h0m0.3-7.6h0m0.3-11.9h0m0.9-5.1h0m0.1 18.2h0m1.9-5.9h0m0.8-5h0m1.3 40.4h0m0.2-33.4h0m1.2 44.8h0m0.2-40.3h0m0.2 0.6h0m0.2-14.5h0m0 13.4h0m0.1-6.2h0m0.5 0.9h0m1.1 27h0m0.4-38.1h0m0.2 21.5h0m0.3-16.6h0m0.7 4.3h0m3.2 2.9h0m0.5 4.5h0m3.9-0.4h0m1.3-0.2h0m0.1-7.6h0m16.1 11.3h0m4.4 4.7h0m2 81h0m12-70.8h0m6.3 0.7h0m1.5-4.4h0m3.7 10.5h0m0.8-1.3h0m3.6-2.5h0m0.4-9.4h0m3.2 9.7h0m2.2-0.1h0m0.3 16.3h0m1.3-13.6h0m1.3-2.6h0m0.3 4.8h0m0.4-2.1h0m3.2 11h0m0.1-4.6h0m3.2 1.4h0m1.8-3.8h0m0.9 10.3h0m0.5-9.2h0m0.7-4.4h0m1.7 13.7h0m0.6 0.7h0m0.1-3h0m0.1-4.9h0m0.6 7.3h0m0.7-14.6h0m0.8 7.3h0m1.1 2.7h0m0.1 2.6h0m0.7-3.7h0m0.6 0.6h0m0.2 3.4h0m0.4-1.8h0m0.7-1.4h0m0.3 5.5h0m2.5-13h0m5.3 5.8h0m3.4 5h0m76.1 5.7h0m2.2 3.1h0m0 15.6h0m4.5-2.5h0m2.5 5.1h0m3.1-13.1h0m0.1-3.5h0m4.6-10.3h0m0.1 14.1h0m1.1 5.9h0m0.6-7.7h0m1.5 6.5h0m1.8-6h0m2.4 1.4h0m4.6-0.5h0m0.5 1h0m4.8-9.8h0m0.9 12.8h0m0.8 4.2h0m1.4-10.5h0m1.3-23.7h0m0.8 4.6h0m0.6-5h0m0.1 25h0m0.2-0.8h0m1.7 7.1h0m0.9-32.1h0m2.5 28.5h0m0.4-5.9h0m1.9-0.3h0m0.1 3.3h0m2.9-2.5h0m3.3 17.3h0m1.5-8.4h0m1.6-32.2h0m0.6 31.7h0m0.1-11h0m0.3 11.2h0m0.3-9.5h0m2.4 16.1h0m0.8-35h0m1.3 30.6h0m0.4-3.9h0m0.7 5.9h0m1-10.2h0m0 13.3h0m0.4-2.8h0m1 0.3h0m0.9-37.5h0m0.3 29.9h0m0.4-33.4h0m0.1 45.5h0m0.5-31.5h0m0 23.4h0m1 3.3h0m0.6-27.9h0m0.1 24.8h0m0.1-6.8h0m0.2-19.9h0m0 21h0m0.1 10.5h0m0.5-32.1h0m0 35.8h0m0.1-6.6h0m0.5-9.5h0m0.1-25.6h0m0 29.5h0m0.3-33.3h0m0.3 38.3h0m0.4-27.3h0m0.2-1.4h0m0.2 35.7h0m1.4-15.6h0m0.4-2h0m0.1 6h0m0.9 6.6h0m0.9 4.3h0m0.4-13.2h0m1.5 1.4h0m0.6-19.2h0m0.5 9.9h0m0 5.3h0m0.1 10.7h0m0.7 12.9h0m0.6-15.4h0m0.1 1.4h0m0.3-5.2h0m0.4-4.7h0m0 3.3h0m0.8 13.2h0m0.2-11.2h0m0.6 10.5h0m0.1-15.6h0m0.6 13.8h0m0.3-17.7h0m3.4 14.5h0m4.4-13.2h0m5.3 0.6h0m9.6-92.2h0m0.4-10.2h0m0.7 113h0m0.6-101.1h0m0.1-17.9h0m0.1 3.1h0m0 6.4h0m0.2-0.6h0m0.2 12h0m0 7.1h0m0.1-8.1h0m1.2-7.2h0m0.3-9.2h0m0.9 11.8h0m0 13h0m0.5-24.5h0m0 7.1h0m0 12.1h0m0.5-18.6h0m0.5 1.6h0m0.1 12.4h0m0.3-8.2h0m0.2 8h0m0.3-8.7h0m0.2 3.7h0m0.7 2.6h0m0.1 85.2h0m0.2-95.5h0m0 13.4h0m0.4 1.8h0m0.6-2.6h0m0.3-8.1h0m0.9-5.3h0m0.4 7.8h0m0.5 3.6h0m0.1-4.3h0m0.7 99.2h0m1-94.7h0m0.4 5.8h0m0.6-11h0m0 2.3h0m2 21.2h0m1.1 72.9h0m1.5-10h0m2.9 26.8h0m0.5 10.1h0m2-107.6h0m0.5-0.7h0m1.2-3.5h0m0.6 94h0m1.9 2.9h0m0.4-3.3h0m1.4-7.1h0m0.3 3.3h0m0.9-85.3h0m0.1 85.2h0m0.4 1.1h0m0.4 14.9h0m0.1-26.6h0m0 12.2h0m0.2-98.8h0m0.5 5.1h0m0.2 7.5h0m0.4 87.5h0m0.1-0.3h0m0.1-85.8h0m0.7 90.5h0m0.2-8.7h0m0.5-82.4h0m0 87.9h0m0.6-1.4h0m0.1 3.2h0m0.9 5.1h0m0.1-6.6h0m0.2-7.4h0m0.1 5.9h0m0.5-1.8h0m0.8-3.3h0m1.7 17.9h0m1.1-14.5h0m0.4 5h0m1.8 11.4h0m1-10.7h0m1.1 6.2h0m0.8-13.9h0m0 23.4h0m0.2-28.9h0m0.7 7.6h0m1.6-10.4h0m0.5 16h0m0.9-2h0m0.1 5h0m1.8-1.6h0m1 9.4h0m4.2-30.7h0m0.1 24.9h0m0.1-23.2h0m0.6 10.9h0m1.8-1.9h0m0.2 23.8h0m0.3-29.1h0m0.1 8.1h0m0.3-4h0m0 10.2h0m0.1-27.9h0m0.5 46.6h0m0.1-16.2h0m0.1-14h0m0.1-5.4h0m0.2 37h0m0.9-30.8h0m0 1.9h0m0.1-2h0m1.3 8h0m1.3 14.5h0m0.4-14.4h0m0.4-2.3h0m0.1-3.2h0m0 7.6h0m0.1-5.7h0m2-2.2h0m0.9 5.2h0m0.1 3.7h0m0.4 13.4h0m0.8-10.2h0m0.7-12.6h0m0.1 9.1h0m0.2-1h0m0.3-8.6h0m0.2 9h0m0.2-8.6h0m0 12.9h0m0.1-20.5h0m0.2 13h0m0.5-3.5h0m0.2 1.6h0m0.1-9.5h0m0.4 4.8h0m0.5 5.4h0m1.2-1.4h0m0.2-11.3h0m0.2 32.7h0m0.1-31.3h0m0.8 17.6h0m1 4.8h0m0.6-6.1h0m0.3 0h0m1.5 13h0m0.6-14.7h0m1.7 23.1h0m0.1-35h0m0.1 2.1h0m0.2 9.7h0m0.6 19.2h0m0.8-19.8h0m5.6-2.5h0m0.4 4.2h0m14.7-1.7h0m17.3-7h0m2 0.1h0m5.5 0.5h0m2.7-10.7h0m1.2 15.1h0m9.8-2.5h0m1.8-5.3h0m1.8 5.9h0m2.2-7.3h0m2.1 3.7h0m0.4 15h0m0.1-11.6h0m1.8-1.2h0m0.8-6.9h0m2.2 2.4h0m0.4 8.3h0m1-5h0m0.5 0.7h0m0.3 4.3h0m0.1-3.6h0m1.4 8.2h0m0.6-11.1h0m0.3-0.7h0m0.2 11h0m0.8-10.6h0m0.4 6.7h0m0.2-1.7h0m1.1-6.8h0m0 5.4h0m2.8 1.6h0m1-4.5h0m0.2-7.7h0m0.4 13.6h0m1.5-10.8h0m3.3 1.7h0m4.2-7.2h0m4.7 9.4h0"/><path d="M59 142.8h0m4.3-8.3h0m0.3 6.8h0m0.6-8.2h0m2.8-69.8h0m4.7 43.4h0m1.3 27.5h0m1.1-57.2h0m0.6-4.8h0m3-34.5h0m3.6 67.5h0m2.8-42.8h0m4.7 22h0m0.2-38.4h0m1.2 22h0m0 38.3h0m0.6-39.5h0m3.7 13.6h0m0.7 1.3h0m0.5 8.4h0m2.5-20.5h0m0.9 2.8h0m0.3 23.3h0m0.1-2.3h0m2-11.8h0m1.7 7.2h0m0.3-34.6h0m0.9 31h0m0 0.6h0m0.2-14.5h0m1 14.4h0m0.3-5.7h0m1.7 13.8h0m0.8-10.2h0m0.8 1.5h0m0.1-1h0m0.4-19.3h0m3.8 30.8h0m0.5 4.9h0m0.9-42h0m0.2 30.5h0m0.1-3.5h0m0.3-2.7h0m0.3 21.9h0m0.2-30.1h0m1 47.3h0m0.6-13.3h0m1.1-8.5h0m0.1 12.8h0m0.2 15.2h0m0.1-15.2h0m0.3-4.2h0m0.3 11.9h0m0.1-5.9h0m0.1 10.6h0m0.9-18.5h0m0.9-24.2h0m0 15.9h0m0.7 13.2h0m0.4-12.2h0m0.1 10.9h0m0.2-2.5h0m0.5 0.3h0m0.4-22.1h0m0.2-16.8h0m0.1 42.3h0m0.2-8.5h0m0 20.5h0m0.5 4.6h0m0.1-23.3h0m0 10.6h0m0 9.8h0m0.2-11h0m0.3-48.4h0m0 39.7h0m0.3 60.8h0m0.1-48.4h0m0.3-11.4h0m0.2 13.6h0m1.1 9.6h0m0.2-16.1h0m0.4 5.1h0m0.1-9.3h0m0.6-2.8h0m0.2 15.6h0m0.9-6.1h0m0 32.7h0m0.6-22.1h0m0 2h0m0.7-3.9h0m0.3-2.7h0m0 25.5h0m0.3-30.7h0m0 6.3h0m0 35h0m0.3-65.4h0m1.7 20.8h0m0.6 14.1h0m0.2 8.8h0m0 10.1h0m0.3-31.1h0m0.3 8.3h0m0.2 0.4h0m0.1 20.6h0m0.4-14.5h0m0.4 0.7h0m0.1 16.8h0m0.9-1.2h0m0.6-1.3h0m0 1.3h0m0.3 6.4h0m0.3-8.5h0m0.2-10.7h0m0.3 17.9h0m0.5-24.2h0m0.3 3.2h0m0.1 16.4h0m0.1-26.5h0m0 30.7h0m0.4-55.1h0m0.1 48.2h0m0.1 2.5h0m0.5 8.1h0m0.4-0.2h0m0.1-63.1h0m0 37h0m0.1 18.8h0m0 2.5h0m0.1-19.2h0m0.1 15.2h0m0.3-13.1h0m0.1-0.6h0m0 21.9h0m0.9-8.8h0m0.2 13h0m0.2-8.1h0m0.2-22.3h0m0.3 24.8h0m0.1-12h0m0.2 11.3h0m0.8-10.8h0m0 8.8h0m0.6-7.2h0m0.1 3.8h0m0.5-3.3h0m0.9 7.4h0m0.5-40.2h0m0.3 12h0m0.8 28.9h0m0.1-0.9h0m0.2 0.1h0m0.7-31.1h0m0.5-0.9h0m1.6 6.1h0m0.8-6.1h0m1.1 5h0m0.9-6.4h0m0.3-4h0m0.4-44.2h0m1.6 63.2h0m1.2-67.1h0m1.4 7.9h0m2.2 41.1h0m1.6-31.6h0m1.2-10.1h0m1.1 43.9h0m0.4-3.5h0m0.7-32.8h0m0.4 7.5h0m0 25.7h0m0.5-35h0m0.4 4.9h0m0.1-3.2h0m0.9 43h0m0.2-36.3h0m0.4-8.8h0m0.2 12h0m0.6-11.4h0m0.2 45.5h0m0.7-45.7h0m0 2.2h0m0.4 2.7h0m0.4 1.1h0m0.1 36.6h0m0.7-43.4h0m0 9.4h0m0.3-6h0m0.1-1.7h0m0.3 2.4h0m0.9 4.9h0m0.1-2.6h0m0.3-4.9h0m0 43.9h0m0.4-44h0m0.8 0.6h0m1.2 9.8h0m2.2 41.4h0m0.1-9.2h0m0.5 2.4h0m1-2h0m0.1 5.9h0m0.9-52.9h0m0 36.1h0m1.3 8.6h0m1.3-7.6h0m0.6 5.4h0m1.2 4.8h0m0.1-3.1h0m0.3-2.8h0m0.9 6.9h0m0.5-10.5h0m0.7 2.1h0m0.3 6.5h0m1.2 21.4h0m1.5-76.4h0m0.2 47.2h0m1.1 5.8h0m1.1 1.7h0m0.9 3h0m0.3-16.4h0m0.6 2h0m0.2-0.3h0m0.2 11.8h0m0.1 4.1h0m0 4.2h0m0.2-17.8h0m0.5 18.3h0m0.1-117h0m0.9 117h0m0 0.3h0m0.3-18h0m0 7.5h0m1.4-1.4h0m0.3-11.8h0m0.8 19h0m0.2-11.7h0m0.2-3.8h0m0.4 6.6h0m0.5 11.9h0m0.7-26.1h0m0 19.6h0m0.6-9.6h0m0 0.7h0m0 4.9h0m0.3 4.6h0m0.3-7.6h0m0.1 1.4h0m0 12.4h0m0.1 6h0m0.3-11.2h0m0.6-6.8h0m0.4 8.4h0m0.1-9.7h0m1.5 2.1h0m0.1-4.8h0m0.1-0.4h0m0.1-16.2h0m1 23.1h0m0.1-4.4h0m0.7-9.8h0m0.5 1.7h0m1.4 7.9h0m0.8 7.2h0m0.2-16.5h0m2.5-9.5h0m0.3 18.2h0m3.9 15h0m0.9-25.3h0m0.2 2.6h0m2.6-20.6h0m0.3 12h0m0.7 11.7h0m0.5-14.2h0m0.3-4.8h0m0.9-13.1h0m0 5.4h0m0.3-0.5h0m0 32.5h0m1.1-7.1h0m0.2-24h0m0 12.5h0m1.3 0.3h0m1.1-5.3h0m0.4-13.5h0m0 0.4h0m0.1 13.3h0m0.2-4.4h0m1.1 5.7h0m0.1 3.7h0m0.1 2.9h0m1 3.1h0m0.2-27.7h0m0.4 2.4h0m0.5 21.4h0m0.5 21.7h0m0.5-44.7h0m0.5 13.1h0m0.3 44.1h0m0.6-45.1h0m1.1-11.6h0m0.1 12.4h0m0.2-7.4h0m0.2 29h0m0.4-38.4h0m0.4 26.7h0m0.3-24.2h0m0.3 14.6h0m1-2.2h0m2.9-0.5h0m0.8-13h0m0.4 44.6h0m1-35.8h0m2 8h0m3.4-0.7h0m4-4.5h0m0.4-4.1h0m2 6.2h0m1.1-4.2h0m3.3-2h0m30.7 35h0m1.5-4.6h0m4.9 1.6h0m4.9 17.4h0m1.6-18.3h0m2.2 6.5h0m0.3-1.2h0m0.8 9.8h0m5.9-8.5h0m0.8 0.9h0m0.1 8.1h0m2.1-2.7h0m0.3-0.9h0m0.7 2.1h0m0.6 2.2h0m0.3-1.9h0m0.1-11.6h0m0.3 7.9h0m1.8-0.1h0m0.8 4.3h0m2.7 3.8h0m1.4-1.4h0m2.5 6.2h0m0.1-7.6h0m0.8-4.2h0m1-2.8h0m1.2 6.3h0m0.2 1.3h0m0.1 0.2h0m0.3-3.7h0m0.6-2.9h0m0 13.4h0m3.8-12.8h0m4.5 4.9h0m4.6 9.8h0m1.1-3.4h0m0.9 1.7h0m71.7 4.8h0m4.5 8.8h0m7-11.2h0m4 24.1h0m0.3-9.7h0m3-9.8h0m0 13.5h0m0.2-11.9h0m0.1-9.7h0m1.8 13.2h0m7.4-9.4h0m0.3 11.9h0m2.7-6.2h0m1.6 14.8h0m2.2-14.2h0m0.1-0.8h0m1.2 3.7h0m2.9 8h0m0.8-35.3h0m3.4 33.2h0m2.9-42.6h0m1.6 26.9h0m2.6 7.1h0m0.2-30.8h0m1.9 30.5h0m4 7.5h0m0.2-5.7h0m2 6.9h0m0.2-7.7h0m0.1-12.5h0m0 12.7h0m1.5-27.9h0m0.1 21.8h0m0.2 10.3h0m1.2-3.5h0m0.9 5.9h0m0.2 0.9h0m0.2 0.5h0m2.4-13.1h0m0.2-23.2h0m0 34.3h0m0.2 2.5h0m1.4-37.9h0m0.9 36.3h0m0 1.9h0m0.2-17.9h0m0.3-24.8h0m0.5 13.2h0m0 11.7h0m0.1 13.3h0m0.1 8.5h0m0.1-6.9h0m0.3-4.4h0m0.4-27.6h0m0 19.3h0m0.7-26.9h0m0.2 30.4h0m1.3 4.7h0m0.2-32.9h0m1.4 39.4h0m0.7-5.7h0m0.4 2.3h0m0.2-9.3h0m0.2-5.1h0m0.5-23.7h0m0.2 26.6h0m0.3-25h0m0 36.5h0m0.1-30.8h0m0.4 24.5h0m0.3-8.1h0m0.3 20.5h0m0.3-13.8h0m0.6 2.8h0m1.1-9.6h0m0.1 7.1h0m0 1.7h0m0.7-6h0m0 7.1h0m0.9 1.7h0m0.2-1.2h0m0 2h0m0.1-4.8h0m0 3.3h0m0.1-5.9h0m1.2 4.5h0m0.4-2.6h0m0.3-6.3h0m1 7.2h0m0.5-0.3h0m0.5-9.9h0m0.3 15.5h0m0.4-5.9h0m0.1-4.8h0m0.4 10.1h0m0.5 2.4h0m0.3-0.5h0m5.2-22.2h0m0.1-83.8h0m0.1 98.9h0m3-94.6h0m1.4 3.2h0m3.4-4.1h0m0.4-9.1h0m0.2 9.3h0m0.8 18.8h0m0.4-12.8h0m1.1-11.7h0m0.4 86.4h0m0.7-82.5h0m2.1-3.3h0m0.1-0.9h0m0 102.4h0m0.2-101.4h0m0.2 4.5h0m0.9-5.2h0m0.1 23.1h0m2.4-21h0m0.3 0.3h0m0.5 3.6h0m0.3 8.1h0m0.3-18.9h0m0.1 8.3h0m0.6-4h0m0.4 11.6h0m0.2-19h0m0.4 5.3h0m1.1 11.2h0m0.2-10.6h0m0.3 1h0m0 116.1h0m1-114.5h0m0.7 0.7h0m0.6-2.1h0m0.6 12.2h0m0.3-17.6h0m0.1 7.3h0m0.2 6.4h0m0.2-10.2h0m2.1 98.8h0m1-97.2h0m7.8 14.3h0m0.6 66.3h0m1.3 12.9h0m1.5-77.8h0m1 93.6h0m1.3-5.7h0m0.2-7.2h0m0.5-86.2h0m0.2 5.6h0m0 84.3h0m0.2 15.8h0m0.3-29.6h0m0 17.7h0m0.5-4h0m0.3 4.9h0m0.2-92.7h0m0 89.3h0m0.2 6.7h0m0 2h0m0.5-13.2h0m0 10.4h0m0.4-104.8h0m0.5 107.2h0m0.3-1.1h0m0.3-99.3h0m0.9 0.6h0m0 87.9h0m0 11.8h0m0.7-7h0m0.1-1.9h0m0.4 5.1h0m0.1-9.4h0m0.5-76h0m0.6-8.1h0m0.7 93.6h0m0.5-9.4h0m0.8 0.6h0m1-4.8h0m1.3 7.6h0m0.5-3.4h0m1-5.6h0m0.1 16.1h0m0.3 3.6h0m3-18.4h0m0.9 9.1h0m0.5 16h0m0.2-11.4h0m0.2-7.7h0m2.6 13.5h0m1.5 7.5h0m0.4-19.9h0m1.4 17.9h0m1-17.1h0m0.7-2.1h0m0.3 8.8h0m0.6 11.5h0m0.2-28.9h0m1.4 15.6h0m2-5.1h0m0.1 13.1h0m0.3 9.6h0m0.1-22.9h0m0 1.1h0m1.2-4.5h0m0.3 10.7h0m2 2.5h0m0.1-4.1h0m0.4 1.4h0m0.2 4.9h0m0.1-2.8h0m0.6 4h0m0.2 23.6h0m0.3-29.6h0m0.3 0.4h0m0.2 4.9h0m0.1 4.4h0m0.2-11.5h0m0.6-1h0m0.8 4.3h0m0.1-15.5h0m0 21.6h0m0.3-16.3h0m0.4-0.6h0m0 3.3h0m0.5 13.3h0m0.2-8h0m0.6 2.2h0m0.3-26.6h0m0.9 24.6h0m0.3 14.5h0m0.2-12.3h0m0.2-11.4h0m0 5.7h0m0.8 15.4h0m0.1-17.2h0m0.7 3h0m0.6 13.1h0m0.6-3.7h0m0.4-21.3h0m0 2.2h0m0.4 11.7h0m0.3-6.3h0m0.4 3.3h0m0.3 7.1h0m1.3-21.2h0m1.1 14.9h0m0.1 15.5h0m1.6-32.7h0m0.1 28.9h0m0.1 10.5h0m1.1-11.7h0m1.2-8.7h0m0.6 7.1h0m1.7-4.4h0m1.9-15.3h0m0.8 12.7h0m0.3-11.4h0m0.3-11.2h0m0.9 27.1h0m0.6-5.8h0m4.8 13.3h0m2.3-15.7h0m0.2 2h0m0.8-23.1h0m0.9 33.4h0m2.7 3.9h0m10.2-19.5h0m0.7 7.9h0m7.8-3.9h0m5.6-4.7h0m2-5h0m4.1 20.3h0m5.1-22.9h0m0.5 8.7h0m3.4 3.3h0m3.1 5.2h0m0.8-5.6h0m1.1-7.5h0m2.5 9.6h0m0.4-13.4h0m0.4 10.7h0m0.3-10.6h0m1.9 13h0m0.6-4.9h0m1.3 4.4h0m0.1-7h0m2.1 4.4h0m0.2-5.1h0m0.4 3.4h0m0 1.4h0m1.2-9.6h0m0.2 1.3h0m0.4 17.7h0m0.7-9.6h0m0.3 2h0m0.9 1.2h0m0.1-5.1h0m1.6 1h0m0.6 7.1h0m3-5.4h0m0.6-9.6h0m1.7 10.9h0m2.6 1h0m1.5 2.1h0m2.4-11.6h0"/><path d="M54 123.7h0m1-9.5h0m2.1-10.2h0m1.8 18.7h0m6.5 16.4h0m0.8-8.3h0m1.9-7h0m1 12.4h0m2.1 4.4h0m2.5-0.5h0m2.1-60.6h0m3.8-11.6h0m3 6.3h0m1.1 28.7h0m0.7-38.9h0m3.5 17.7h0m4 9.9h0m0.5-15.7h0m1.8 9.3h0m1.2 19.1h0m0.3-47.5h0m0.2 25.2h0m0.4 3h0m0.6-11.9h0m0.6-2h0m1.4 3.8h0m0.5-11.7h0m0.9 18.6h0m0.1-7.9h0m0 3.7h0m0.5 9.2h0m0.2-5.6h0m0.3-3.2h0m0.2-19.7h0m0.1 32.5h0m0.5-63.7h0m0.4 56.9h0m0.4 0.6h0m0.1-4.5h0m0.1-8h0m0.1-16.2h0m0.2 15h0m0.3 11h0m0.2 2.4h0m0.1 8.2h0m0.1-0.4h0m0.3-6.7h0m0.1-12.3h0m0.5 3.7h0m0.8 10.1h0m0.4 8.4h0m0.2-1.1h0m0.7 16.8h0m0.5-35.8h0m0.1 0.8h0m1.7 19.7h0m1.7 1.9h0m0.5 31.6h0m0.6-44.5h0m0.6-22.1h0m0.6 8.8h0m0.4 18h0m0.9-43.5h0m0.2 59h0m0.1 22.2h0m0.2-26.3h0m0.4 3.1h0m0.2-25.4h0m0.1 32.8h0m0.1-21.6h0m0 0.9h0m1 5h0m0.8 27.7h0m0.3 6.4h0m0.1-24.5h0m0.2-17.7h0m0 42.5h0m0.1-18.2h0m0.7-14.9h0m0 14.8h0m0 13.2h0m0.1 2.7h0m1.1-51.2h0m0.2 49.7h0m0.2-26.8h0m0.1 29h0m0.4-2.9h0m0.1-15h0m0.2 15.6h0m0.6-18.3h0m0.1 5h0m0.2 9.6h0m0.3-12.7h0m0.3-0.7h0m0.5-31.9h0m0.5 35.9h0m1.4 1.9h0m0.1 18.8h0m0.3-29.9h0m0.1-8.8h0m0.4 31.1h0m0.1 0h0m0.2-25.4h0m0.2-3.7h0m0.3 16.4h0m0.3 7.1h0m0 4.7h0m0 3.9h0m0.1-36.5h0m0.1 20.6h0m0.4 7.7h0m0.3-4.7h0m0.7-57h0m0.1 63.1h0m0.1-9h0m0.4-2.2h0m0.3-0.4h0m0.6 3h0m0.2 12.2h0m0 2.4h0m0.4-8.3h0m0.4 20.5h0m1.2-22.7h0m0.2 24h0m0.3-25.8h0m0 31.5h0m0.6-22.1h0m0.4 13.1h0m0.1-9.8h0m0.6 14.8h0m0.2-18.7h0m0.1 4.4h0m0 22.6h0m0.2-65.1h0m0.3 47.3h0m0.3-4.4h0m0.4 2.1h0m0.2 11.5h0m0.1 8.4h0m0.2 2.4h0m0.3-18.2h0m0.1-15.2h0m0 11.2h0m0 1.9h0m0.4 17.3h0m0.5-23.6h0m0.7 4h0m0.1 0.3h0m0.1-7.4h0m0.1-61.5h0m0.9 35.1h0m0.2-10.4h0m0 42.4h0m0.1 26.5h0m0.1-26.3h0m0.2 2.3h0m0.6 7.9h0m0 6h0m0.7-4.2h0m0 4.8h0m1.1 0h0m0 0.2h0m0.3-83.1h0m0.1 55.6h0m1.4 21.9h0m0.1 13.3h0m0.1-17.6h0m0.1-18.9h0m0.8 34.2h0m0.7-23.1h0m0 23.3h0m0.2-8.7h0m0.8-84.2h0m0.5 60h0m0.4 27h0m2.1-82.2h0m0.2 53.3h0m3.2 17.7h0m2.1-76.1h0m0.4 3.3h0m0.5 5.5h0m0 9.3h0m0.7 35.7h0m1.6-33.1h0m0.1-10.3h0m0.5 28h0m1.4-24.5h0m1.8 2.1h0m0.6 4.4h0m1.7 33.3h0m1.1-35.7h0m0.2 46h0m0.3-47.8h0m0 32.2h0m0.2-33.3h0m1.1 7h0m1 0.2h0m0.1-7.3h0m0.1 1.9h0m1 5.5h0m0.5-2.1h0m0.3 44.6h0m0.8-48.1h0m0.4 2.6h0m0.6-2h0m0 4h0m0.4 35.3h0m0.1-28.8h0m0.4-12.7h0m0.5 5.7h0m0.2-0.8h0m1-7h0m0 38.2h0m0.3-29.6h0m0.2 4.8h0m0.2-10.7h0m0.4 2.5h0m0.6 63.2h0m0.1-15.3h0m0 4.8h0m0.9-52.6h0m0.8 5.5h0m0.1 40.8h0m0.2-43.2h0m0.1 37.4h0m0.9-14h0m0.3 12.3h0m0.2 7.6h0m0.6 1.4h0m0.5-9.8h0m1.7 6h0m0 3.5h0m0.3 2h0m2.2-10.3h0m0.8-0.6h0m1 4.2h0m0.6 1.1h0m0.2 4.6h0m0.2-3.3h0m0.4-3.7h0m1.6 19.4h0m0.8-31h0m0 10.1h0m2.2-3.5h0m0.3-7.7h0m0.1 2.5h0m1.9 19.7h0m0.4-19.3h0m0.2-1.2h0m0.6 10.3h0m0.2-9.9h0m0.4 6.2h0m0.2 2.2h0m0.1 3.5h0m0.2 9.3h0m0.3 2.5h0m0.6-9.2h0m0.5 4h0m0.5-7.4h0m0.1-0.9h0m0.2-0.8h0m0.1-1.8h0m0.1-4.8h0m0.3 9.3h0m0.2-5.5h0m0.3 3.3h0m0 0.1h0m0 10.8h0m0.3-10.8h0m0.2-1.4h0m0.1-1.9h0m0.1 1.8h0m0.1-5.1h0m0.3 15.5h0m0.4-15.2h0m0.9 6h0m1.5-6.9h0m0.1 2.4h0m0.7-2.3h0m0.6 3.8h0m1.8 5h0m0.2-5.2h0m0.2-0.9h0m0.3-0.8h0m0.3-2h0m0 13.5h0m1-16.4h0m0.4 5.1h0m2.3 2.8h0m2.3 11.4h0m0.3-44.3h0m1.4 43.9h0m0.8-28.8h0m1 14.4h0m0.4 9.1h0m1.8 4.3h0m0.2-26.8h0m0 19.7h0m0.1-23.3h0m0.4 6.6h0m0.1-10.2h0m2.6 31.9h0m1.7-42.8h0m0.9 0.2h0m0 45.3h0m0.1-32.3h0m0.6 1.1h0m0.5 25.1h0m0.5-29.7h0m0.2-21.3h0m0.7 28.2h0m0.4-5.2h0m0 0.6h0m0.9-1.6h0m1.3-9.2h0m0.1 9.7h0m0.6 8.1h0m0.4-12.5h0m0.3-0.7h0m0.6 9h0m0.3-2.6h0m0.3-7.6h0m0.1 21.9h0m0.2-27.6h0m0.3 11.6h0m0.4 4.6h0m0 1.7h0m0.2-16.5h0m0.4 5.3h0m0.4-4h0m0.3 43.1h0m1.1-34.8h0m0.5-5.8h0m0.7 12.6h0m0.1-21.4h0m0.2 54.4h0m0.7-56.8h0m0.8 26.5h0m0.2-28.1h0m1 7.2h0m1.4-5h0m0.1 11.6h0m0.6-21.5h0m0.6 17.6h0m0.2 2.3h0m1 41.6h0m0.2-35.9h0m0.8 3.5h0m1-20.9h0m1.8 17.4h0m3.9-3.3h0m0.6 10.6h0m19.1 9.7h0m6.4-1.5h0m16.1 5.3h0m2.4 12.9h0m0.4-11.3h0m0.4 0.6h0m2.9 1.5h0m1.3 1.3h0m0.1 49.9h0m3.5-54.8h0m2.5 16.7h0m1.6-13.6h0m1.3 5.3h0m1.3-8h0m1.6 1.1h0m2.9 4.1h0m0.5 2.9h0m2.7 9h0m0.9-8.8h0m1 0.9h0m1.4 9.3h0m0.7 2.7h0m0.6-11h0m0.5 1.7h0m0.2-2.3h0m0.6 1.5h0m1.1 2.2h0m0.2 2.4h0m0.3-5.4h0m1.4 8.8h0m0.1-9.7h0m0.3 9.3h0m1.1-1.1h0m2.2-2.1h0m0.6-6.6h0m0.3-2.9h0m4.5 17.3h0m85.7 3.6h0m1.3 6.3h0m2.6-8.4h0m1.9 16.1h0m2.2-7.1h0m5.2-7.6h0m0.2 10h0m4-1.9h0m1.5 10.6h0m0.1-22.7h0m0.8 1.9h0m3.1 15.3h0m0.3-8.6h0m0.4-0.3h0m4.3-19.4h0m2 19.6h0m1.1-25.8h0m0.4 29.3h0m0.6-26.7h0m3 33.5h0m0.4-5h0m1.5-13.7h0m10-1.5h0m1.1 15.7h0m1.2 3.5h0m3.5-34.5h0m3.9 7.8h0m0 16.7h0m0 2.7h0m0.8-0.6h0m0.2-26.3h0m0.3 1.2h0m0.9 23.9h0m0.9 6.9h0m0.1-2.7h0m0.1-3.9h0m0.3 5.3h0m0.5-32.4h0m0.4 35.8h0m0.2-1.9h0m0.9-5.5h0m0.7 2.5h0m1-0.7h0m0 0h0m1-31.9h0m0.2 31h0m0.5-3.3h0m0 5h0m0.2-32.2h0m0 33h0m0.2-0.2h0m0.4-4.4h0m0.1 2.7h0m0.1-31.7h0m0.6 6.3h0m0.4 25.7h0m0.3 0.2h0m0.5-29.3h0m1.5 22.4h0m0.1 0.2h0m0.5 8.3h0m1.5 2.4h0m0 0h0m0.3-106h0m0 102.7h0m0 3.3h0m0.3-5.6h0m0.1-1.3h0m0.1 5.1h0m0.2-14.8h0m1.2 13h0m1.1-4.5h0m0.1 4.1h0m0.4-1.5h0m0.7-3.5h0m0.1-34.2h0m0.3 38.4h0m0 12.8h0m3.3-11h0m0.2-2.9h0m0.1-8.4h0m1.1 3h0m2.4 10.2h0m0.8-91h0m1.1-10.4h0m1.2 106.1h0m6.6-114.5h0m0.6-0.4h0m0.7 1.3h0m0.2 1.2h0m6 2.8h0m0.1 0h0m0.3 9.4h0m0.2-28.3h0m1.4 26.8h0m0.7-0.8h0m0.7-15h0m0.7-5.7h0m1.2 13.7h0m0.3 1.5h0m0.8 0.2h0m0.8-5.4h0m0.1-1.1h0m0.3-5.4h0m0.6 11.7h0m1.2 3.1h0m0.6-4.7h0m1.6 2.3h0m0.1-4.4h0m1.6 1.8h0m0.1-6.4h0m1.6-4.2h0m5.7 118.5h0m0.7 1.1h0m0.3-12.7h0m1.3-80.9h0m0 95.2h0m1.7-9.9h0m0.1 1.5h0m1.2-91.8h0m0.8 92.8h0m0.9-2.2h0m1.4-3.1h0m0.3-86.3h0m0.9 97h0m0.1-6.9h0m0.2-90h0m0.6-6.9h0m0 104.2h0m0.1-1.1h0m0.3-4.8h0m0.2-87.5h0m0.1 85.9h0m0.4-0.9h0m0.4-5.7h0m0.1-92.9h0m0 108.1h0m0.1-100.9h0m0 93.6h0m0.1-0.1h0m0 3.8h0m0.3-91.8h0m0 88h0m0.1-3.5h0m0.2 4.1h0m0.6-4.6h0m0.1 2.4h0m0.9-5.6h0m0.2 9.5h0m0.1-2.7h0m0.1 0h0m0.3-89.9h0m0 80.9h0m0.5 13.3h0m0.3-9.3h0m0.2 0h0m1.2 8.8h0m0.3-9.8h0m0.2 23h0m0.7-16.5h0m0.3-13h0m0 8.5h0m1.2 5.6h0m0.7-10.5h0m0.6 8.6h0m0.1 0.4h0m1.9 8h0m0.5-7.1h0m1.3-5.1h0m2.6-19.4h0m0.2 21h0m0.9 3.8h0m2 0.2h0m1.9-1.7h0m1-13.8h0m0.6 7.1h0m0.6 3.8h0m0.1 13.1h0m1.1-13.9h0m0.9 19.2h0m0.6-19.9h0m0.4 6h0m0.8-6.5h0m0.6 1.7h0m2.1-0.4h0m2.3-3.6h0m0.5 8.4h0m0 3.7h0m0.9 3.7h0m0.4-3.8h0m0.1 5.4h0m0.6-11.5h0m0.3 0.4h0m0.3 7.9h0m0.3-8.3h0m0.1 13.6h0m0.2-5.8h0m1.6 15.5h0m0.1-27.6h0m0.4 4.2h0m0.1 3.1h0m0.1-1.1h0m0.3-2.5h0m0.7 3.2h0m0 8.1h0m0.3-7.2h0m0.1-19h0m0.1 35.5h0m0.7-19.4h0m0 4.9h0m0 4.8h0m0.5-14.3h0m0.1-10.2h0m1 11.6h0m0.3 6.5h0m0.1-5.8h0m0 10.1h0m0.7-0.7h0m0 8h0m0.1-0.7h0m0.7-11.5h0m0.4 1.4h0m0.4-3.5h0m1.3-5.7h0m0.1 20.4h0m0.5-17.7h0m0.4 28.7h0m0.7-18.3h0m0.2-1.8h0m0.1-0.2h0m0.1-4.6h0m0.6-1.7h0m0.1-17.2h0m0.7 24.6h0m0.2 2.1h0m0.3-3.3h0m0.2 0.5h0m0.1-7.2h0m3-13.8h0m0.7 23.4h0m1.8-12h0m7.3 13.2h0m8.5-14.6h0m13.3-6.2h0m0.1 6.9h0m0.1 8.3h0m9.7-3.1h0m1.4 1.9h0m2.2-3.1h0m1.3-2.1h0m5.1 8.7h0m0.2-9.4h0m4.9-1.8h0m1.3-0.2h0m1.5-1.6h0m3.2 7.8h0m2-6.6h0m0.1-3.2h0m3.8 2.3h0m0 9.9h0m1-5.5h0m0.3-9.8h0m0.1 5.4h0m1.9 0.6h0m0.9-1.5h0m0.8-4.3h0m0.9-6.8h0m0.1 14.4h0m4 6.9h0m1.3 0.3h0m0.7-4.4h0m2.5-2.6h0m6.3-4.1h0"/><path d="M55.7 98.8h0m2.2 40.7h0m0.4-5.2h0m0.3-17.4h0m4.2 20.7h0m1.4-12.2h0m0.3 4.6h0m4.8-10h0m0.9-26h0m4.2 33.6h0m4.8-55.4h0m1.6-9.7h0m2.3 18.6h0m3.7 2.5h0m1.5-16.9h0m2 7.1h0m0.3-13.9h0m0.1 3h0m0.5 19.6h0m0.5 18.5h0m0.2-21.8h0m0.5 23.1h0m0.2-12h0m2.5 22.5h0m0.1-20.3h0m0.2-15.9h0m1.7 57.8h0m0.1-36.5h0m1.1-42h0m0.1 21.3h0m0.6-13h0m0.1-27h0m0.5 52.9h0m0.2 2.2h0m0.9-3.7h0m0 1.5h0m0.4-12.2h0m0.3-12.3h0m0.2 29.7h0m0.8-27.4h0m0 34.7h0m0.1-21.7h0m0.9-7.5h0m0.6-6.2h0m0.3-3.9h0m0.3 35.7h0m0.7-22.9h0m0.4 16.4h0m0.8 1.5h0m0.7-6.4h0m0.8-0.5h0m0.2-14.2h0m1.7 0h0m0.1 14h0m0.3 0.6h0m0.7-9.3h0m0.1 18.4h0m0.3-6.9h0m0.5-26.2h0m0.2 49.9h0m0.1-28.2h0m0.1-36.9h0m0.5 27.5h0m0.7 49.7h0m0.2-45.2h0m0.2-18.4h0m1 47.9h0m0.1 2.8h0m0.5-12.3h0m0 22.4h0m0.6-27.9h0m0.5 91.5h0m0.7-59.7h0m0.2-44.3h0m0.4 21.5h0m0.1-17.3h0m0.2 26.8h0m0.4 14.9h0m0.3-22.1h0m0.4 2.8h0m0.1-40.1h0m0.1 36.5h0m0 2.3h0m0.3 6.1h0m0.3-53.2h0m0.3 45.3h0m0.5 4.2h0m0.6-79.3h0m0.2 97.5h0m0.3-22.5h0m0.3-37.1h0m0.1 4.2h0m0.1 5.8h0m0.2 31.5h0m0.2-4h0m0.1-10.6h0m0.5-26.8h0m0.9 35.4h0m0.1 11.2h0m0 13.7h0m0.1-23.1h0m0.3-1.2h0m0.3 3.1h0m0.2 8.6h0m0.2-12.1h0m0 14.9h0m0.5-8.4h0m2.4 13.6h0m0.1-15.2h0m1 22.3h0m0.2-7.5h0m1.4 1.3h0m0.2 3.5h0m0.1-5.9h0m0.1-27.4h0m0.2-57.5h0m0.2 90.8h0m0 12.7h0m0.1 9.4h0m0.1-23.6h0m0.5-71.1h0m0.1 75.9h0m0.4-6.3h0m0.1-1.3h0m0.7 29.2h0m0.1-31.6h0m0 35.9h0m0.3-6h0m0.5 20.7h0m0.2-25.1h0m0.1-6.7h0m0.1 8.7h0m0.1-18.5h0m0.9 14.1h0m0.3 1.5h0m0.1-23.4h0m0 18.2h0m1.4-5.5h0m0.1-3.4h0m0.4-11.1h0m0 22.7h0m0.1-14.9h0m0.1 21.4h0m0.3-21.7h0m0 23.9h0m0.1 4h0m0.3-105.4h0m0.1 17.4h0m0.1 75.7h0m0.3 5.5h0m0.2-14.6h0m0.1 10h0m0 4.7h0m0.4-29.2h0m0 8.3h0m0 25.6h0m0.8-9.5h0m0.2-1.3h0m0.2-32.3h0m0 36.5h0m0.3-4.1h0m0.5 3.4h0m1.5-0.1h0m1.5 11.2h0m0.1-101.8h0m0.3 87.1h0m0.1-59.5h0m0.6 41.9h0m1.1-6.8h0m0.9-11.2h0m0.1 17.4h0m3.1-6.4h0m3.5 11.9h0m4.7-10.9h0m0.4-55.5h0m0.6 10.1h0m0.8 36h0m0.2-40.5h0m0.7-2.7h0m0.2 50.6h0m1.2-52.3h0m0.7 50.3h0m1.3-44.6h0m0.1 46.5h0m0.7-37.8h0m0.1 50.1h0m0.1-107.9h0m0.5 43.2h0m1 49.6h0m1.1-35.4h0m0.8-1.2h0m0.1-4.4h0m0.7 10h0m2.7-8.7h0m0 2.4h0m0.6 2.7h0m2-2h0m0 33.4h0m0.8-32.5h0m0.1 0.8h0m0.4 3.2h0m0.3 0.3h0m0.1 0.3h0m1.8-6.6h0m0 42.2h0m1.3-10.7h0m0.9-30.4h0m3.5 34.2h0m0.6 3.3h0m0.8 4.1h0m3.6-4.8h0m1.3 1.5h0m1.6-3.4h0m0.2 5h0m0.1 6.3h0m0.1 5.4h0m0.7-15.2h0m0.3-3.1h0m0.4 14.6h0m0.3 10.6h0m0.5-10h0m0.6-27.2h0m0.5 17.9h0m0.1 14.3h0m0.3-6.8h0m0.9 3h0m0.3-3.7h0m0.3 3.6h0m0.1-2.4h0m0.2-9.3h0m0.5 0h0m0.2-11.6h0m0.1 11.6h0m0.1 3.7h0m0.7 5.8h0m0 0.4h0m0.3-10.9h0m0.6 6.9h0m0.4-6.4h0m0 1h0m0.1 7.6h0m0.5-8.5h0m0.6 13.4h0m0.9-13.5h0m0.6 15.2h0m0.2-11.8h0m0.4-6.6h0m0.4 4.9h0m0.5 5h0m0.6-1.9h0m0.2-4.3h0m1.4 9h0m0.7 4.3h0m0.1-9.4h0m0.4-7h0m0.3-4.2h0m0.5 20.2h0m0.6 0.6h0m1.7 3.6h0m0.3-2.9h0m0.1-5.4h0m0.8-34.4h0m0.7 30.5h0m0.3 0.3h0m1-16h0m1.7 27.1h0m1.4-14.2h0m0.6-46.6h0m2.4 49.7h0m0.4 1.6h0m1.4-32.3h0m1.1-16.5h0m0.1 9.9h0m0.5 10.9h0m0 29h0m0.5 1.4h0m0.1-36.8h0m0.1 1h0m0.2-6.8h0m0.6 19.9h0m0.3-15.8h0m0 13.1h0m0.1-15.1h0m0.4 7h0m0.1 12.9h0m0.1-20h0m0.3 6.2h0m0.1 8.4h0m0 1h0m1 13.3h0m0.1-24h0m0.3 9.1h0m0.8-7.4h0m0.4-18.4h0m0.9 22.8h0m0.1 20.7h0m0.5-17.3h0m0.1-26.9h0m0 15.2h0m0.8 1.7h0m0.3 2.5h0m0.2 7.6h0m2.5-26.2h0m0 21.2h0m0.2 3.6h0m0.1-12.5h0m0.4-7.8h0m0.4 40.3h0m0.3-21h0m0.5-12.6h0m0.4-0.4h0m0.1-16.6h0m0 17.9h0m0 10h0m0.3-9.8h0m0.5-1.5h0m1.7 47.6h0m0.6-40.9h0m0.2-6.7h0m0.5 9.1h0m0.1-3h0m1.4-10.2h0m0.6 28.9h0m0.1-15.4h0m0.4-11.1h0m1.1-4.4h0m1 9.3h0m1.1-14.4h0m0 20.8h0m0.2-5.1h0m1.2-3.4h0m0.6-8h0m40.6 33.6h0m7.9 7.7h0m2.9-7.6h0m1-0.9h0m3.7 2h0m0.1 0.7h0m0.8 0.1h0m1.3 2.8h0m0 1.9h0m2.2 3h0m0.1-3.8h0m0.2 1.4h0m4.2 3.2h0m0.1 2.2h0m0.7-6.4h0m1.4 1.7h0m3.4 7.3h0m0.4-2.5h0m2.4 3.2h0m0.8-4h0m0.8 1.2h0m0.1 7.5h0m0.4-5.1h0m0.3 4.2h0m3-3.8h0m3.8-7.2h0m1.2 2h0m2.7 14.6h0m0.8-12.1h0m88.1 23h0m4-5.6h0m6.7 0.5h0m2.9-2h0m3 11h0m3.2-24h0m2.9-7.7h0m0.7 26.5h0m3.7-3.7h0m6-4.3h0m0.3 12.4h0m1.3 11.1h0m1-40.9h0m0.2 18.2h0m0.8 4.7h0m1.5 11h0m3.4-3.6h0m1.4 1.7h0m0.3-3.1h0m0.2-5.2h0m1.3 4.8h0m1.1 2.8h0m0 1.6h0m0.6-9.6h0m0.7 0.1h0m1.8-18.7h0m1-10.8h0m1.5 6.5h0m1 33.6h0m0.2-34h0m2 27h0m0.4-4.5h0m0 1.1h0m0.3-1.3h0m1.5 4h0m0.2-44.8h0m0.2 28.5h0m0.1 10.3h0m0.2-14.1h0m0.2 24.8h0m1-5.6h0m0.1 0.7h0m0.2 1.2h0m0.2 5.1h0m0.8-40.5h0m0.1 39.1h0m0.3 2.2h0m0.3-12.2h0m0 8.8h0m0.3-0.2h0m0.1-36.7h0m0.1 40.4h0m0.4-3.8h0m0.2 2.1h0m0.9-14.4h0m0.1 12.8h0m0.2 0.9h0m0.4-24.6h0m1 22.2h0m0.1-9.1h0m0 10h0m0.3-30h0m0.3 25.9h0m1.4 3.9h0m0.2 7.9h0m0.1-10.5h0m0.4-6.7h0m0.2-2h0m0.5 8.6h0m0.2-0.4h0m0.4 0.9h0m0.6 2h0m0.7 0.3h0m0.2-0.8h0m0 0.1h0m0.1 1.9h0m0.3-7.7h0m0.1 2.1h0m0.4 3.8h0m0.1-5.2h0m0.2-0.4h0m0.4 13.1h0m0.3 2.7h0m0.1-15.6h0m0.1 15.8h0m0.4-11.1h0m0.3-38.6h0m0 28.9h0m0.1 5.5h0m0.3 6.9h0m0.1-36.4h0m2 1.9h0m0 22.5h0m0 6.4h0m0.7-9.3h0m1.6 10.4h0m0.2-28.7h0m0.1-1.8h0m0.8 33.2h0m0.2-4.7h0m1-4.5h0m0 2.8h0m0.4 6.8h0m0.2-7.4h0m3.8-0.3h0m0.3-98.2h0m2-13.8h0m2.3 4.2h0m3.4 11.4h0m4.6-4.4h0m0.2 5.4h0m0.3-4.9h0m1 0h0m0.8 3.8h0m0.1-3.5h0m0.5 6.4h0m0.7-13.3h0m0.8 9h0m0.2 12.7h0m0.7-9.9h0m0.4-3.5h0m0.5 4.4h0m0 4.7h0m0.6 4.6h0m0.3-14.4h0m0.2 8.4h0m0.2-8.3h0m0.3 9.5h0m0.4-10.6h0m0.2 4.7h0m0.2-1.8h0m1.3-5.6h0m0 4.5h0m0.4-0.8h0m0 12.3h0m0.4-14h0m2.4 11.9h0m0 1.5h0m0.3-7.8h0m0.1-5.2h0m1.6 100.2h0m7.3-96.6h0m0.2-10.3h0m0.5 27.8h0m6.9 56.6h0m1.1 16.7h0m0.4-77.8h0m1.2 87h0m1.5-8.9h0m0 9.8h0m1 11.7h0m0.5-105.4h0m0 93.7h0m0.7 1.1h0m0.1-93.2h0m0 0.2h0m0.4 90h0m0.1-0.9h0m0 4.5h0m0 4.3h0m0.1-6h0m0.1 8.6h0m0.3-99.1h0m0 94.4h0m0.3-12.7h0m0.9 7.1h0m0.1-82.2h0m0.2 86h0m0.3-8.6h0m0.4-4.3h0m0 2.3h0m0.2 8.5h0m0.1-1.4h0m0.7-0.1h0m0.3-0.2h0m0 0.7h0m1.1 11h0m1-16.8h0m0.1-73.5h0m0.3 81.5h0m0.5-4.8h0m0.8 3.4h0m0.5 11.2h0m0.5-10.7h0m2.1 1.7h0m1.2-6.9h0m0 10.5h0m1.9 9.9h0m1.5-22.7h0m1.9-2.6h0m0.9 3.5h0m0.2 0h0m1.7-3.3h0m2.1 9.1h0m0.3-4.8h0m0.1 32.9h0m0.2-32.6h0m0.1 8.2h0m0.3-7.3h0m0.2-3.7h0m0.4 18.6h0m0.6-30.2h0m0.5 26.9h0m1-7.1h0m0.2 22.2h0m0.8-21.5h0m0.6-9.5h0m0.2 12.3h0m0.9-4.9h0m0.4 10h0m0.2-5.9h0m0.1-4.9h0m0.6-11.2h0m0 15.7h0m0.1-52.9h0m2.2 50.1h0m0.6-16.9h0m0.1 21.1h0m0 1.7h0m1.3-16.1h0m0.3 7.3h0m0.2-14.3h0m0.5 24.3h0m0.2-2.8h0m0.4-6.4h0m0.1-9.4h0m0.2 20.2h0m0.1-3.4h0m0.5-0.9h0m0.6 3.7h0m0.4-9.6h0m0.1 2.5h0m1.6 9.6h0m0.6-6.1h0m0.1-3h0m0.6-1.3h0m0.5-12.4h0m0 6.3h0m0.2 8.3h0m0.2 4h0m0.3 2.8h0m0.4-0.7h0m1.9-7.6h0m3.2-6.6h0m0 4.6h0m0.6 7.2h0m1.3-2.4h0m0.5-3.1h0m0.1 4.9h0m0.4 1.5h0m0.5-15.2h0m0.2 3.7h0m0.3-0.7h0m0.2 12.9h0m0.6-13.8h0m3 13.6h0m2.2-22.2h0m5.2-1.2h0m3-0.3h0m1.1 15.4h0m13.4-4.3h0m5.2-5.9h0m7 13.9h0m2.2 2.4h0m1.1-7.4h0m0.6-6.6h0m0.6-3.8h0m0.2 9.5h0m1 4h0m3.8 3.9h0m1.7-3.9h0m4.6 2.4h0m1.6-12.2h0m0.9 7.3h0m1.1 3.3h0m0.1-5.6h0m0.5-4.5h0m0.3-4.9h0m0.3 8.8h0m4.4 6.4h0m0.2-12h0m0 6.5h0m1-3.5h0m0.6 3.5h0m0.6-8.8h0m0.7 4h0m0.2 5.5h0m0.5-8.5h0m0.2 5.4h0m0.5-4h0m1.3 3.8h0m0.3 1.6h0m2.9 0.3h0m1.2 4.9h0m0.4-2.1h0m2-4.2h0m0.9 3.5h0m0.1-11.3h0m0.6 6.9h0m5.1 8.3h0m4.3-7.4h0"/><path d="M54.5 139.8h0m0.2-12.3h0m7-20.4h0m0.2 20.6h0m1.4-85h0m0.1 82.2h0m3.9-13.1h0m0.4-62.5h0m10.1 28.5h0m1.6-7.3h0m0.5 22.1h0m0.6 6.3h0m0.1 22.9h0m0.4 71.9h0m0.2-129.3h0m4.2-24.4h0m0.2 57.8h0m2.4-16h0m3.9-11.8h0m1 1.1h0m0.6 14.1h0m1-15.6h0m0.1 12h0m0.5-0.8h0m0.1 6h0m0.6 10.5h0m0.6-17.7h0m4.5 31.8h0m0.1-47.8h0m1.1 17.5h0m1 4.9h0m0.1 9.5h0m0.8-3.5h0m0.9-0.3h0m0.7 35.9h0m1.5-37.3h0m1.2 3.3h0m0 5h0m0.9-11.3h0m0.8-5.6h0m0.2-20.1h0m0.2-0.2h0m0.2 6.6h0m0.1 27.8h0m0.1-19.2h0m0 50.3h0m0.1-37.8h0m0.2 5.5h0m0.1-14.6h0m0.2-1.6h0m0 30.9h0m0.3-40.5h0m1 25.5h0m0 0.1h0m0.4-7.8h0m0.4 17h0m1.9-26.9h0m0.4 50h0m0.2-16.7h0m0.4-21.1h0m0.2 12.9h0m0.4-1.7h0m0.2 13.5h0m0.4 8.3h0m1.1-28.7h0m0 20.2h0m0.3-0.5h0m0.2-10.7h0m0.1-1.8h0m0.2-42.7h0m0 49.2h0m0.1 0.9h0m0.7-2.6h0m0.6-15.9h0m0.1 18.1h0m0.2-1.9h0m0.3-17.1h0m0.4 18h0m0.8 3.9h0m0 0.9h0m0.3-4.5h0m0.3-4.5h0m0.1 0.7h0m0.1 23.1h0m0 4.5h0m0.5-24.5h0m0.4-0.1h0m0.3-15.9h0m0.1 42h0m0.7-55.3h0m0 24h0m0.2 9.3h0m0.1-27.5h0m0.5 41.8h0m1-41.7h0m0 26.5h0m0.2 6.3h0m0 6.1h0m1.1 6.1h0m0.4-20.5h0m0.1 4h0m0 2.1h0m0.2 3.3h0m0.3-11h0m1.4-0.7h0m1.2 23.6h0m0.3 15.9h0m0.2-46.4h0m0 37.8h0m0.2-2.6h0m0.3-5.8h0m0.3 29.2h0m0.2-36.2h0m0.4 3.1h0m0.1-13.1h0m0.4 19.9h0m0.1 22h0m0.1-29.1h0m0 9.3h0m0.1 15.1h0m0 1.6h0m0.2-75.8h0m0.1 60.5h0m0.1-5.3h0m0.5 24.1h0m0.1-90.3h0m0 85.9h0m0.3-2.6h0m0.1-19h0m0.2 19.5h0m0.1-10.6h0m0.3-4.6h0m0.3-1.4h0m0.5 7.7h0m0.8 12.2h0m0.1-26.7h0m0.1 20.8h0m0.5-11.4h0m0.2 13.7h0m0.1 1.4h0m1-0.1h0m0 5.8h0m0.2-9.2h0m0.1 12.5h0m0.3-29.6h0m0.3 10.2h0m0.3-6.3h0m0.2 14.6h0m0 0.8h0m0.2 12.5h0m0.2-71.2h0m0 36.6h0m0 7.4h0m0.5-48.6h0m0.2 44.4h0m1.2 29h0m0.9-9.4h0m0.1 2.7h0m0.1-9.9h0m0.5 6.4h0m0.1 0.4h0m0.2-90.9h0m0 73.6h0m0.4-6.5h0m0.1-85.3h0m0.7 113.8h0m0.1 0.1h0m1.8-39.8h0m2.3-34.6h0m0.6-15.3h0m2.1 9.8h0m0.7 77.8h0m1.9-69.5h0m0.6-3.7h0m0.7-12.8h0m0.2 58.8h0m0.2-1h0m0.4-50h0m0 44.3h0m1.9 14.3h0m0.8-4.5h0m0.4-7.9h0m1.2-44h0m0 41.6h0m0.1-37h0m1.4 29.3h0m0.2-21h0m0.1 8h0m0.4 34.5h0m0.5-46.9h0m0.1-4h0m0.7-0.4h0m0.3 3.9h0m0 2.5h0m0.1-3.8h0m1.3-57.5h0m0.1 97.4h0m0.5-36.9h0m0 2.9h0m0.2-5.6h0m1.5 3.5h0m0.6-13.6h0m0.3 18.4h0m0.3-2.6h0m1.5-3.3h0m0 20.4h0m0.7-28.5h0m0.6 8.2h0m0.1-4.5h0m0.5-5h0m0 9.2h0m0.1 44.6h0m1.6-39.3h0m0.5-5.1h0m0.1 49.1h0m0.1-51.7h0m0.1-2.2h0m0.3 43.3h0m0.1-37.2h0m1.5 0.5h0m0.1 38.2h0m0.3-46.2h0m1.5 44.2h0m0.1-1.1h0m0.7-39.8h0m0.3 34.1h0m0 10.9h0m0.2-10.1h0m2.2 14.7h0m0.5-45.8h0m0.4 43.6h0m0.8-5.5h0m2.5 0.2h0m1.3 12.2h0m1.1-14.4h0m0.1-2.3h0m0.3-7h0m0.2 2.1h0m0.7 1.5h0m0.1 18.7h0m0.2-15.5h0m0.4 6.5h0m1.1 9.8h0m1.2-31.6h0m0.2 12.3h0m0.7-3.7h0m0.3 22.1h0m0.2-9.6h0m0.4-7.2h0m0.4 0.5h0m0.5 11.2h0m0.4-11.3h0m0 13.2h0m0.1-15h0m0.1 10.5h0m0.5 4.9h0m0.8-16.6h0m0.5 11.1h0m0.1-16.4h0m0.5 7.6h0m0.1 5.2h0m0.4-1.6h0m0.1 11h0m0.7-25.1h0m0.2 5.2h0m0.7 10h0m0.9-4.9h0m0.6-8.8h0m0 11.2h0m0.9-10.3h0m0.6 17.8h0m0.2-7.8h0m0.3-2.7h0m0 6.4h0m0.2-5.9h0m1.2-2.8h0m1.5 16.3h0m0.7-27h0m0.2-2.6h0m0.3 25.7h0m0.5 7.6h0m0.4-22.4h0m0.2-2.4h0m3.2-2.4h0m1.2-25.9h0m1.1 51.4h0m2.3-31.3h0m0.3-5.3h0m0.4 27.6h0m0.8-17h0m0.1 22.1h0m2.7-41.2h0m0.1 17.1h0m1.5-17.8h0m0 49.6h0m1.7-16.8h0m0.8-9.9h0m0.2 22.1h0m0.2-35.8h0m1.2-2.9h0m0.2-11h0m0.7 4.3h0m0 7.7h0m0.2 1.6h0m0.2-5h0m0.7-0.2h0m1.1 25.2h0m0.1-19.5h0m0.2 5.1h0m0.5-9.5h0m1 47.2h0m0.1-36.2h0m0.2-3.9h0m0.5-4h0m0.3-17.4h0m1.4 19.3h0m1-9h0m0.4-2.7h0m0.8 4.9h0m0.4 0.9h0m0 11.9h0m1.3-10.4h0m0.3-1.2h0m1.2-5h0m0.4 2.3h0m0.9-2.3h0m0.2 2.9h0m0.6-0.5h0m0.8 6.8h0m3.5 22.8h0m2.4-38.2h0m16.2 28.6h0m0.1 7.3h0m2.6-35.5h0m17.2 30.6h0m5.8 12h0m0.8-10.7h0m1.6 5.4h0m2.1 8.2h0m0.1-13.7h0m0.2 7.8h0m1.8-3.2h0m0.1-4.7h0m2.8 2.9h0m2.6 2.9h0m4.3-2.4h0m2.2 3.3h0m0.6 6.6h0m2.4-7.1h0m4.9 10.2h0m1.9-6.3h0m0.5 6.2h0m1.2-13.3h0m2.2 23.7h0m0.3-8.8h0m0.2 18.7h0m0.3-27h0m0.6 0h0m0.2-2.2h0m0.6 12.8h0m0.2-9.4h0m1.9 11.4h0m0.3-7.8h0m2.3-6.2h0m5 8.4h0m2-13.4h0m2.6 22.9h0m79.8 0.5h0m4.3 21.2h0m3.6-14.8h0m3.9 2.2h0m2-5.3h0m3 8.7h0m2.4-4.5h0m3.4-21.7h0m0.4 21.9h0m0.6 11.1h0m1.8-10.2h0m5.8-1.8h0m0.8-0.7h0m1.1-3.2h0m2.6-1.4h0m0 12.5h0m1.2-37.9h0m0.1 29.1h0m0.3 0.7h0m0.8 4.2h0m0.1-3h0m0.2 9.9h0m2.9-8.4h0m2.3-3h0m0.6-2.7h0m2.4 6.1h0m2.3-5.2h0m1.5 8.9h0m1.1-5h0m0.2 1.4h0m1.3 2.2h0m0.6-11.4h0m1.4 9.2h0m0.3 12.8h0m2-6.2h0m0.5-3.4h0m0.9 6h0m1.2-37.5h0m0.6 6h0m0.6 20.4h0m0.8 11.5h0m0.6-5.3h0m0.2 5.5h0m0.5-39.8h0m0.2 12h0m0.3-3.8h0m0.1-3.9h0m0.4 33h0m0 2.8h0m0.1-46h0m0.6 35.8h0m0.1 12.2h0m0.3-41.9h0m0.3 4.1h0m0.2-10.7h0m0.1 31h0m0 7.2h0m0.8-30.5h0m0.6 24.5h0m0.3 10.9h0m0.2-29.8h0m0.1 28h0m0.8-23.7h0m0.3-6.7h0m0.1 23h0m0.2 3.6h0m0.3 3.9h0m0.5-31.8h0m0.8 40.3h0m0.3-10.1h0m0.3-9.8h0m0.7 11.2h0m0 5.6h0m0.2-37.8h0m0.1 18.9h0m0.2-21.2h0m1.6 34.2h0m0.1-4.7h0m0.6-0.4h0m0 2.2h0m0.1-2.1h0m0.2 2.1h0m0.1-29h0m0.4 19h0m0.3 10.1h0m0.1-5.3h0m0.1 3.9h0m0.4 2.3h0m0.1 1.1h0m0.1-3.6h0m1.1-1.2h0m1.5-0.4h0m0.4-1.9h0m0 1.4h0m0.2 1.8h0m1.5-12.6h0m0.2-1h0m0.2 14.8h0m0.3 0.9h0m1.3-10h0m2.6-12.6h0m4.8-74h0m1 98.8h0m1.7-112.7h0m1.2 5.2h0m1.4-9.6h0m1.1 0.9h0m1.6 9.2h0m0.2 2.4h0m0.6 100.2h0m2.5-101.3h0m1.1 0.9h0m1.4-7.1h0m0 7.9h0m0.9 20.1h0m0.4-22.8h0m0.7-1.9h0m0.1 12.7h0m0.2-15.4h0m0.1 5.8h0m0.7 2.3h0m0.2 0h0m1.3 120.3h0m0.6-121h0m0.5-10.7h0m0.5-1.3h0m0.9 16.3h0m0.6-8.6h0m0.5 8.6h0m0.3-9.8h0m0.3 14.4h0m0.6-18.4h0m0.2 12.3h0m0.4-5h0m0.4-7.5h0m0.6 9.6h0m0 5.8h0m1.3-11.4h0m0 4.4h0m3.3 4.4h0m1.7 11.6h0m1.9 85h0m5.3 8.5h0m0.6-105.6h0m0.1 109.1h0m0.1-34.9h0m0.3 21.5h0m0.6 7.9h0m0.2 0.6h0m0.2-9.3h0m0.5-4h0m0.2-80.2h0m0.3 90.6h0m0.9-8.1h0m0.4-86.8h0m0 3.9h0m1.3 3.3h0m0.2 81.9h0m0.6-0.2h0m0.3-88.4h0m0.1 94.5h0m0.7-97.5h0m0 90.9h0m0.5 9.3h0m0.4-7.7h0m0.2 3.7h0m0.5-8.5h0m0.1 4h0m0.7 5.7h0m1.1 5.5h0m0.3-13.3h0m1.1 2.2h0m0.5-96.2h0m0.3 99.2h0m0.8 0.1h0m0.5-7.3h0m0.2 9.6h0m0.3-6.5h0m0.2 2.5h0m1.1-11.1h0m0.3 10h0m0 3.4h0m0.1-94.3h0m1.9 96.7h0m0.5-17.2h0m0.6 22.1h0m0.1-18.3h0m0 25.1h0m0.8-8.2h0m1.6-7.3h0m1.6 18.6h0m1.4-30h0m0.8 12.2h0m0.3 17.7h0m0.6-10.7h0m1.7 4h0m1.3-14.2h0m0 24.3h0m0.9-27.9h0m1.1 16.7h0m2.1-19.4h0m1.4 15.6h0m1.4-2h0m0.3-9.8h0m0.6 11.7h0m0.4-0.9h0m0 6.8h0m0.1-13.7h0m0.1 18.6h0m0.1-4.1h0m0.5-17.9h0m0.1 9.2h0m0.1-13.6h0m0 6.4h0m0.5 4.4h0m0 1.1h0m0.1-30.4h0m0.6 27.9h0m0.8 15.6h0m0.3-8.4h0m1.7 8.7h0m0.6-9.4h0m0.1 20.4h0m0.1-18.8h0m0.1-11.6h0m0.4-2.2h0m0.2 0.7h0m0.3 8.5h0m0.6-6.8h0m0 2.9h0m0.1-9.8h0m0 9.3h0m0 0.1h0m0.1-0.9h0m0.7-2.4h0m0.1 7.6h0m0.4-2.2h0m1-0.7h0m0.1 12.8h0m0.8-7.2h0m0.9-5.4h0m0 2.1h0m0.9 0.9h0m0.6-11.5h0m0.5 6.9h0m0.3 4.6h0m1.6-5.5h0m0.2-13h0m0.5-2.3h0m0 21.1h0m0.4 4h0m0.8 5.2h0m1-7.2h0m0.7-37.3h0m0.3 34.2h0m1.6-3.1h0m3.1-15.5h0m0.4 19.5h0m0.8-33.8h0m6.4 23.5h0m0.2 23.9h0m10.5-22.2h0m11.3 5.3h0m1.6-10h0m5.8 6h0m3.2-1.9h0m4.6 2.2h0m1.4-5.1h0m1.6 11.2h0m7.4-3h0m2-7h0m0.6-1.4h0m0.8 2.2h0m2.1 6.2h0m0.6-7.7h0m1.6 1.5h0m1.9-1.1h0m0.8-3.1h0m0.6 2.7h0m0.2-1.2h0m0.6 5h0m0.9-0.2h0m0.5-3.9h0m1.1 0.9h0m1.2-2.3h0m0 6.3h0m1.8-7.3h0m4.9 1.6h0m0.5 8.4h0m0.1-6.1h0m1.1-0.3h0m1.6-4.3h0m0.1 5.7h0m5.5 3.6h0m2.8-2.9h0"/><path d="M54.3 131.4h0m2.7-26.3h0m7.5 21.5h0m6.1-22h0m1.3 18.2h0m6.8-27.4h0m2.2 5.3h0m1-23.3h0m1.7 21.3h0m1.4-13.6h0m6 6.9h0m0.4-16.9h0m0.5 15.9h0m0.4-19h0m1.8 16.8h0m0.9-14.4h0m0.9-2h0m0.9 8.3h0m1.6 9.8h0m0.4 2.7h0m1.3-16.3h0m0.4-8.6h0m0.6 2.8h0m0.6-24.5h0m0.4 44.9h0m0.1-26.2h0m0.7 19h0m0.2-8.6h0m0.8 17.1h0m1.4 2.6h0m0.6-9.2h0m0.7-6.1h0m0.1 2.6h0m0.2 7.6h0m1.2-16.2h0m0.5 8.9h0m1.6 4.7h0m0.4 0.8h0m0.3 6.5h0m0.5-13.7h0m0 8.6h0m0.2 18.7h0m0.5-24.4h0m0.9-15.8h0m0.4 10h0m0.2 7.9h0m0.6 4.2h0m0 31.2h0m0.2-37.9h0m0.1 15.6h0m0.4 6.7h0m0.6-6.4h0m0.6 1.8h0m0.1 5.7h0m0.2 18.6h0m0.8-16h0m0.3-21.2h0m0.5 22h0m0.8-9.3h0m0.1-12.8h0m0 35.8h0m0.1-23.4h0m0.1 21.8h0m0 8.7h0m0.1-5.2h0m0.2 2.2h0m0.6-8.7h0m0.5-28h0m0.2 21.2h0m0.3-6.9h0m0.1-1.6h0m0 3.7h0m0.2-26.2h0m0 28.4h0m0.4-5.3h0m0 3.9h0m0.1-42.7h0m0.3 46.9h0m0.1 6.2h0m0.3-0.9h0m0.2-9.2h0m1.4 9.8h0m0.1-0.8h0m0.1-8.9h0m0.1 6h0m0.1-11.2h0m0.1 5.7h0m0.3-1.8h0m0.3 8.6h0m0.1-9.1h0m0.2 9.9h0m0.1-8.4h0m0 4.2h0m0.1 8.9h0m0.1-20.4h0m2.6 25.1h0m0.1-9h0m1.2 16.3h0m0.3-19.8h0m0 9.6h0m0.5 26.2h0m0.2-30.3h0m0.2-4.5h0m0.3-3.3h0m0 19.8h0m0.8-6.9h0m0.1-5.6h0m0.4 6.2h0m0.6 12.3h0m0.7 8h0m0.5 7.6h0m0.3-47h0m0 14.1h0m0.2 2.1h0m0.1 10.6h0m0.5-13.7h0m0.1 2.9h0m0 25.7h0m0.7-15.7h0m0 17.6h0m0.4-102.9h0m0.1 79.7h0m0 4.9h0m0 3h0m0.6-8.7h0m0.6 21.4h0m0.1-4.6h0m0.1-9.7h0m0.1 15.3h0m0 1.4h0m0.3-2.2h0m0.1-14.2h0m0.4-5.5h0m0 4.3h0m0 13.7h0m0.3-15.9h0m0.3 21.6h0m0.2-8.2h0m0.3 3.3h0m0.3-16.9h0m0.2 11.8h0m0.1 1.4h0m0.3 5.4h0m0.7-1.4h0m0.3 4.9h0m0.1 0.3h0m0.3-6.6h0m0.2-3.3h0m0 9.1h0m0 0.1h0m0.1-1.7h0m0.3 0.9h0m0.6 2.8h0m0.9-23.3h0m0.3 22.8h0m0.1-11.9h0m0.9-2.6h0m0.5 4.7h0m1.1 4.2h0m2.8-1.9h0m0.6-16.5h0m1.1 20.5h0m0.6-3.6h0m0.1-33.2h0m1 4.1h0m0.2-1.5h0m1.1 2.2h0m0.1-5.6h0m0.1 38.3h0m1.1 34h0m1-62.8h0m1.3-6.4h0m1.8-34.5h0m2 33.6h0m0.5-32.4h0m0.2 45.7h0m0.5-14.9h0m0.1-28.5h0m1.2 42.2h0m0.4-10.8h0m0.9 1h0m0.6-34.7h0m1-10.4h0m0.6 2.6h0m0.6-3.9h0m0.1 6.3h0m0.2 9.6h0m0.1 48.5h0m0.9-18.2h0m0.4-33.9h0m0.5 52h0m0.3-53.9h0m0.5-2.4h0m0.7 59.3h0m0.2-19.1h0m1.2-36.4h0m0.5 8.6h0m0.2-10.9h0m0.6 2.2h0m0.2 40.5h0m0.3-44.9h0m0.8 12.9h0m0.3-18.7h0m2.3 8.4h0m0.5 50h0m1.9-70.9h0m0.9 54.8h0m0.5 27.3h0m1-61.8h0m0.3 42.3h0m1.6 4.1h0m0.4-13.5h0m1 17.2h0m0.8-54.2h0m4 32.5h0m0.4 8h0m1.2-9h0m1.2 2.6h0m0.3 20.2h0m1.9-20.2h0m0.3-6h0m0.5 12.7h0m0.4-2.3h0m0.3 8.9h0m1.6 10.1h0m0.2-17.3h0m0.2 10h0m0.4-0.7h0m0.4-7.9h0m0.9-3h0m0.3-0.7h0m0 0.8h0m0.2-0.8h0m1.2 11.2h0m0.3-2.1h0m0 5.3h0m1-18.9h0m0 6.9h0m0.2 12.6h0m0.1-12.8h0m0.3 0.4h0m0.4 11.9h0m0.4-10.5h0m1.1-2.7h0m0.2 1.7h0m1.5 8.8h0m0.2-10.8h0m0.7-12.8h0m0.4 8.7h0m0.5-2.1h0m0.2-26.3h0m0.4 43.5h0m1.2-2.6h0m0.7 4.5h0m0.5-18.6h0m0.6 20.6h0m0.7-13h0m0.2-23.4h0m1.1 23.4h0m0 5.1h0m0.5-17.3h0m0.5-7.3h0m0 36.2h0m2.3-54.7h0m0 18h0m1.4 2.6h0m0.9-0.1h0m0.3 0.8h0m0.1 20h0m0.3-34.3h0m0.7 2.8h0m0.4 13.5h0m1.6 20.2h0m0.1-24h0m0 36.9h0m0.4-17.8h0m0.1-21.4h0m0.2 12.7h0m0.2-30.7h0m0 2h0m1.2 5.5h0m0 12.2h0m0.9 1h0m0.3-6.6h0m0.1 24.8h0m0.3 7.2h0m0.4-42.4h0m0.7 15.2h0m0 2.2h0m0.6-4h0m0.1-9.2h0m0.7 11.4h0m0.4-13h0m0.8-6.5h0m0 0.7h0m0.5-5.1h0m0.5 9.8h0m0.1 42.2h0m0.2-37.4h0m0.8-12.5h0m0.2 11.7h0m0.3-6.1h0m0 7.5h0m0.6-9.9h0m0.6-1.8h0m0.1 6.6h0m1.7-6.8h0m1 13.7h0m0.3 1.6h0m1 1.7h0m1.1-13.4h0m0 2.2h0m0.6 6.9h0m0.3-2.2h0m1.2 8.1h0m1.6 16.1h0m0.2-23.6h0m2.6 31.9h0m0.6-40.7h0m2.3-12.2h0m2.1 19.8h0m11.6 4.2h0m21.1 25.5h0m4.5-8.2h0m6.2 2.2h0m1.2 12.3h0m7.6 1.7h0m1.2 0.2h0m2.3-4h0m0.5 4h0m0.9-6.6h0m0.2-4.5h0m0.7 3.9h0m4.2 5.2h0m1.2 4.4h0m0.2-6.2h0m1.9-0.3h0m0.5-8h0m3.1 16.8h0m0.5-8.8h0m1.7 10.3h0m0.1-4.3h0m0.7-3.8h0m1 3.5h0m2-0.1h0m0.7 0.3h0m0.4-1.1h0m0.3-0.2h0m2.2 8h0m0.5-2.7h0m1 1.3h0m1.7-2.7h0m0.2 2.8h0m83 2.5h0m3.4 9.9h0m6.2-9h0m0.5 5.9h0m0.3-2.3h0m1.5 4h0m1.8 8h0m2.5-0.6h0m0.3 4.4h0m3.1-20.8h0m1 26.1h0m3.2-13.9h0m0.4 0.9h0m1.6-1.1h0m0.3-28.5h0m0 28.6h0m4.1-12h0m0.6 14.3h0m0.7-4.5h0m0.1-0.4h0m0.4 5h0m2.8-13h0m0.4 1.2h0m0.5 20.2h0m4.4-11.4h0m0.2 7.6h0m1.9-11.7h0m1.1-6.9h0m0.1-4h0m1.1 12.4h0m0.2-27.9h0m2.1 29.5h0m0.6 4.5h0m1.8-6.1h0m1.2 2.7h0m2.9 7.5h0m3.7-30.5h0m1 27.9h0m0.5 2.5h0m1.8-8.4h0m1.1-1.1h0m0.3 5.2h0m0.4 4.6h0m0.2-38.7h0m0.2 1h0m0.4 29.9h0m0.9-23.3h0m1 27.4h0m0.3 2.2h0m0.3 2.9h0m0.1-1.2h0m0.3-4.2h0m1-36.2h0m0.1 36.7h0m0.3 6.2h0m0.1-2.1h0m0.6-32.3h0m0.7 25.6h0m0.1 6.5h0m0.6-5.5h0m0.2 6.9h0m0.4-35.6h0m0.4 22h0m0.7 1h0m0.3 0.3h0m0.1-4.2h0m0.2 8.1h0m0.5-2.1h0m0.2 2.1h0m1.2-0.4h0m0.2-29.3h0m0.2 33.5h0m1.4-32.8h0m0.4 15h0m0.5 15.8h0m0.8 13.6h0m0.3-23h0m0.7 8.6h0m0.4-4.2h0m0.4-3.5h0m0 5.2h0m0.5-1.7h0m0.2 6.9h0m0.1-1.2h0m0.5-4.7h0m0.1-1h0m0.3-25.8h0m0 33.3h0m0.1-4.8h0m0.4-0.2h0m0.1-2.3h0m0.2-26h0m0.1 29.5h0m0.2-2.1h0m0.6 2.9h0m0.3-7.2h0m0.7 3.3h0m0.6 3.9h0m0.1-0.8h0m0.3-4.9h0m0.1 8.1h0m0.1-5.2h0m0.8-6.8h0m0.7 7.8h0m0.1-8h0m0.6-88.1h0m0 93.6h0m0.9-3h0m0.5-25.3h0m0.5 31.2h0m0.4 4.2h0m1.6-7.6h0m3.1-0.5h0m10.8-98.2h0m0.7 75.7h0m0.9-1.2h0m0.2 29.6h0m0.6-93.5h0m1.9-5.1h0m0.1-15h0m1.8 17.9h0m0.3-9.9h0m0.5 1.6h0m0.1 14.6h0m0.3-17h0m0.1 2h0m0.9 0.4h0m0.7 9.6h0m0.1-7.7h0m0.3 7.7h0m1-7.2h0m0.7-7h0m0.3 5h0m0.3 1.6h0m0.4 0.9h0m3.7-0.3h0m0.4 2.1h0m0.5 116.1h0m0.4-118.2h0m0.1 2.1h0m0.2 4.1h0m2.5 89.9h0m3.5-0.3h0m1 1.9h0m0.4-3.4h0m0.5 1.1h0m2.1 4h0m1.3 6.3h0m0.3-89.5h0m1.4-5.7h0m0.7 79.6h0m0 23.3h0m1.5-16.6h0m0.1-86.2h0m0.6-4.2h0m0.6 90.3h0m0.2 9.5h0m0.3-11.7h0m0.4 7.8h0m0.2-91.2h0m0.4-8.3h0m0.5 10.5h0m0.1 96.8h0m0.1-105.3h0m0 86.7h0m0.3 8.1h0m0.1-5.4h0m0.3 9h0m0.2-103.6h0m0.5 97.5h0m0.4 8.8h0m0.2-4.1h0m0.3-7.1h0m0.1 2.5h0m0.2-91.2h0m0.5 94.6h0m0.4-88.4h0m0 87.7h0m0.1-93.3h0m0 95.2h0m0.2-86.1h0m0.6 85.4h0m0.5-5.5h0m0.2-7.9h0m0 12.7h0m0.6-8.3h0m0.7 6.9h0m0.8-2.3h0m0.9 4.5h0m1.3-1.6h0m0.3 14h0m1.2-29.8h0m0 4.2h0m3.2 15.4h0m3.2-19.3h0m1.8 22.3h0m0.6-20.4h0m1 13.8h0m0.3 21.7h0m1.4-40.4h0m0.7 24.9h0m0.8-28.1h0m0.4 29.1h0m1.2-13.9h0m0.2 23.7h0m0.4-35.1h0m3 25.2h0m0.5-4h0m1.6-14.3h0m0.5 16h0m0 5.4h0m0.3-1.3h0m1.7-16.1h0m0 15.5h0m0.3-4.7h0m0.1-1.2h0m1 1h0m0.3-4.7h0m0 4.6h0m0.2-3.6h0m0 2.9h0m0 10.8h0m0.8-4.7h0m0.1-21.1h0m0.3 18h0m0.6-14.4h0m0.3 8.5h0m0.4 7.3h0m0.6-13.7h0m0.4 8.4h0m0.6 0.8h0m0.7-1h0m0.1-0.2h0m0.4-3.6h0m0.1-7.9h0m0.1 2.6h0m0.4 1.5h0m0 15.6h0m0.7-11.7h0m0.1 4.4h0m0 25.2h0m0.2-44.1h0m0.5 28.6h0m0.2-5.7h0m0.2-4.5h0m0.6-1h0m0.2 18.3h0m0.3-11.8h0m0.2-9.9h0m0.7 4.8h0m0.5 0h0m0.2 4.2h0m0 1.8h0m0.6-6.7h0m0.7-11.4h0m0.8 5.4h0m0 5.5h0m1.1 2.7h0m1 0.9h0m0.2-6.5h0m0.4 4h0m0.2 9h0m0.2-13.1h0m0.2 11.4h0m0.3-27h0m2.4 5.3h0m3.7 16.2h0m1.5 2h0m6.1-8.3h0m0.5-7.6h0m2.3 31h0m2.8-18.4h0m8.9-26.1h0m9.9 14.4h0m0.9 3.3h0m0.8 3.3h0m1.4-2.7h0m7.5-12.8h0m0.7 16.2h0m0.8-1.5h0m3.4 5.1h0m0.4-13.5h0m0.5-35.3h0m1.8 36.9h0m1.6 8.3h0m1.8-2.9h0m2.3 8.7h0m1.1-9.3h0m1.1 3.4h0m4.9 0.1h0m0.2-10.1h0m0.5 11h0m0.3-5.8h0m0.6-5.1h0m0.1 3h0m1.4-1.6h0m0.6 10h0m0.4-6.1h0m0.6 8h0m0.4-3h0m3.3 0.5h0m1.5-0.9h0m0.1-17h0m1.9 18.8h0m0.9-4.3h0m3.4 3.3h0m3.5-7h0m2.9 5.7h0m2.4-3.8h0"/></g>
<g fill="none" stroke="#e41a1c" stroke-opacity="0.09" stroke-width="2.6" stroke-linecap="round"><path d="M54.1 141.6h0m1.7 2.5h0m5.4 7.6h0m3.9 30.7h0m6.2 7.6h0m2.4-4.7h0m6.8-36.4h0m4.9-4.1h0m0.1-12.3h0m0.8 75.4h0m1.7-60.8h0m3.2 64.1h0m1.4-33.5h0m0.7-20h0m0 12.5h0m0.9-17.4h0m0.5 32.9h0m0.1-35.6h0m0.5-29.5h0m0.7 48.2h0m0.6 25.4h0m0.6-51h0m3.7 19.4h0m2.2 4.6h0m0.9-11.6h0m0.2-0.6h0m3.3 28h0m0.4-16.5h0m0.2 39.2h0m1-44.6h0m4.7 49.9h0m1.5-63.1h0m0.9 16.8h0m0 17.9h0m1.6-39.6h0m2.8-12.1h0m0.8 51.3h0m0.1-17h0m1.3 27.2h0m0.7-41h0m0.7 46.5h0m0.1-7.3h0m0.5 9.1h0m1.8 4.9h0m0.2-4.2h0m2.2-9.1h0m0.2-34.4h0m0 32.8h0m1 12.4h0m0.2-6.9h0m1.9 7.7h0m1.4-18.9h0m0.2-3.4h0m0 6.6h0m0.6 13.8h0m0.9-4.7h0m0.2-17.4h0m0.3 0.1h0m0.4 10.6h0m0.8-0.4h0m0.4-13.5h0m0.2 21.9h0m1-14h0m1-25.1h0m0.4 15.6h0m0.5-18.1h0m1.4 36.4h0m0.8 14.6h0m0.1-167.4h0m0.6 139.5h0m0.7-2h0m0.4 21.1h0m0.4-143.7h0m0 139.6h0m1.3-47.3h0m0.6 59h0m0.2-178.9h0m0.6 164.5h0m0.7-140.2h0m0.2 82.7h0m0 54.9h0m0.7-2.5h0m0.4 15.3h0m0.4-146.4h0m0.7-0.8h0m0 119.2h0m0.1 41.4h0m0.5-35.9h0m0.3-0.3h0m1.1-43.6h0m0.4 84.9h0m0.8-23.7h0m0.5-0.2h0m0.6-12.9h0m0 7.9h0m1.1-14.5h0m0.2 22.2h0m0.5-8.4h0m0.3-9.4h0m2.4 0.1h0m0.3 24.7h0m0.1-12.7h0m0.2 11.8h0m0.2-151.2h0m0 148h0m0.5-31.4h0m0.7-108.5h0m0.1 124.4h0m1-37.5h0m0.3 13.1h0m0.2 29.4h0m0.5 26h0m0.1-4.7h0m0.2-146.4h0m0.1 89.2h0m0.7-85.8h0m0.3 123.6h0m0.4-132.2h0m0.2 108.9h0m0.9-35.3h0m0.5 32.2h0m0.3-91.8h0m0.1 120.5h0m0.6 13.7h0m0.5-141.6h0m0.2 140.8h0m0.6-0.8h0m0.7-41.7h0m0.2 36.2h0m0.9-21.5h0m0 10h0m0 17.4h0m0.5-27.8h0m1 27.3h0m1.2-59.5h0m0.6 43.7h0m0.6-116.8h0m0.2 110.1h0m2.1 20.2h0m2.8-22.1h0m1.3 23.9h0m0.5 5.7h0m1.4-0.4h0m2.3-22.6h0m4.1-99h0m0.3 101.1h0m0.4 4.7h0m1.6 2.1h0m1.6-98.8h0m13.1-22.3h0m5.7 7.6h0m10.9-11.3h0m1.1-19.1h0m0.2-6.8h0m0.8 177.6h0m1.3-147.1h0m4.2 1.4h0m3.5-14.1h0m2.6 1.2h0m0.6 14.7h0m2.7-17.8h0m0.1 23.2h0m0.2 6.3h0m1.4 45.5h0m1.5-70.5h0m0.3 2.5h0m0.1 9.1h0m1.2 49.7h0m0.9-63.2h0m0.3 68h0m2.4-62.6h0m1.3 69.4h0m2.1-60h0m1.8-32.6h0m2.9-10.4h0m1.5 108.7h0m0.7-75.9h0m0.8 11.4h0m0.1 51.4h0m0.2 6.6h0m0.1-57.5h0m0.5-35.9h0m2.3-9.1h0m1.2 94h0m0.8-1.6h0m0.1-0.9h0m0 19.3h0m0.2-22.8h0m0.9 23.4h0m1-7.8h0m0.3-95h0m0 98.1h0m0.8-8.3h0m0.1 6.1h0m0.8-96.2h0m0 40.9h0m0 52.1h0m0.7 7.2h0m1 10.2h0m0.4-8.4h0m0.4-16.4h0m1.7-9.1h0m0.7 4.7h0m0.5-11.7h0m1.9 14.7h0m0.9 10.5h0m0.4-30.8h0m0.4-48.9h0m0.3-20.9h0m0.7 105.8h0m0.4-11.6h0m1.7-71.5h0m2.5 62.9h0m0.1 7.6h0m0.3 3.9h0m4.5-64.4h0m2.8-12.2h0m4-0.3h0m0.8 73.7h0m1.7 6.7h0m2.1-12.5h0m2.8-48.8h0m154.6 116.3h0m0.6-51.5h0m2.5 0.1h0m4.8 7.4h0m4.3 5.7h0m1.3-4.7h0m0.3 11.5h0m0.7-13.7h0m2.9-1.8h0m0.2-0.5h0m0.7 2.1h0m4 38h0m0.7-46.1h0m0.3 5.4h0m0 13.4h0m2.3 11.7h0m2.3-16h0m0.8 14.3h0m3.5-28.3h0m0.4 35.9h0m1.3-4.5h0m1.4-36.2h0m0.7 35.8h0m2-1.7h0m2.7-9.8h0m1.3 11.7h0m0.1-0.6h0m3.2 13h0m1 18.4h0m1.2-24.1h0m0.8-1.1h0m0.5-30.1h0m0.4 56.7h0m3.5-30h0m0 28.7h0m0.6-4.1h0m1.5 8h0m0.5-0.5h0m0.1-46.6h0m0.7 21.5h0m0.7-36.8h0m1.5 50.4h0m2.4-27.9h0m1.3-1.7h0m2 18.7h0m0.1-25.6h0m0.1-12.7h0m0.6 19.1h0m0.2-9.7h0m0.4 13.5h0m0.1-12.5h0m0.6-3.1h0m0.3 19.6h0m2 15.5h0m0.1-32.2h0m0.7 11.4h0m0 61.8h0m0.2-83.7h0m0.2 23h0m0.5-5.4h0m0.5 9.4h0m0.4-7.9h0m0.3 0.1h0m0.3 60.5h0m0.4-83.1h0m0 70.3h0m0.8-19.5h0m0.7-43.9h0m0.1 13.6h0m0.4 60.6h0m0.1 10.6h0m0.1-81.3h0m0.4 34.2h0m0.7 19.7h0m0.2-27.5h0m0.7-16.3h0m0.5-3.1h0m0.3 16.3h0m1.1-28.6h0m0.1 59.2h0m0.5-29.7h0m0.7-5.9h0m0 50.1h0m0.2-71.6h0m0.3 62.8h0m0.4-66.1h0m0.1 42h0m0.1-25.2h0m0.3 1.9h0m0.5 7.2h0m0.8-17.3h0m0.3 5.2h0m0 6.2h0m0.9-6.7h0m1.6-6.3h0m0.2 4.5h0m0.2 7.3h0m2.6-17.3h0m0.2-110.7h0m1.3 172.6h0m1.2-44.7h0m0 6.1h0m0.2-15.4h0m0.4 41.1h0m0.3-48.7h0m1.2-4h0m1.7 12.7h0m1.6 38.6h0m1.1-35.7h0m0.8-1.8h0m1.5 74.8h0m7.6-90h0m4.7-66.5h0m1.3 82.3h0m1.1-3.8h0m2-74.1h0m4.1-3.4h0m0.1-25.9h0m0.9 87h0m2.5-44.5h0m1.7-39.6h0m0.3 2.6h0m0.6-5.4h0m1.5-13h0m1.9 15.1h0m0.7-8.6h0m4.1-11.9h0m3.2 21.2h0m0.9 34.9h0m2.9 5.1h0m0.4-25.2h0m1.8-42h0m3.3 51h0m0.1 15.8h0m0.6-4.8h0m0.7 1h0m0.2-40.6h0m1.9 30.3h0m1.8 6.3h0m0.1-3.7h0m0.1-33.6h0m0.4 11.7h0m1.2 51.3h0m1.7-1.8h0m0.6-30.8h0m0.7 0.7h0m3.1 30.7h0m0.8-54.1h0m2.6 67h0m0.4-36h0m1.4 24.8h0m0.3-2.6h0m0.4 0.1h0m2.6-70.1h0m1.3 69.3h0m0.3 16.1h0m0.8-8.1h0m3.8-9.2h0m1.5 18.8h0m2.3-53.6h0m0.8 40.9h0m2.8-38.2h0m0.6 41.4h0m1.5 4.4h0m1.3-32.6h0"/><path d="M56.6 190h0m4.7-44.7h0m0.8 43.8h0m2.8-49h0m7.5 56.4h0m1.1-28.4h0m0.3-18.8h0m1.1 12h0m1.1-15.2h0m2.7 4h0m4.1 14h0m3.4-4.8h0m1.4 51.3h0m2.7-81.5h0m0.6 35.5h0m0.8-9.9h0m0.4 42.6h0m1.1-49.9h0m1.4 6.6h0m3.5 26.3h0m0.1-20.9h0m0.1-14.8h0m1 7.7h0m1.6 1.5h0m4.6 10.4h0m0 27.7h0m0.7-46.3h0m0.8 4h0m0.2-12.5h0m2.3 8.3h0m3.9 2.5h0m1 14.5h0m0.5 31.7h0m1.6 3.7h0m0.1 4.7h0m1.1-67.8h0m1.3 29h0m0.6 36.6h0m3.9-1.9h0m0.5-16.3h0m1.7-32.8h0m0 52.7h0m0.1-43.2h0m0 17.7h0m1.3 40.7h0m0.6-10.3h0m1-10h0m1-10.2h0m0.6-3.4h0m1.9-40.2h0m0.3 32.1h0m0.6 22.6h0m0.9-18.6h0m0.5 3.5h0m0.1 25.7h0m0.9-69.4h0m0 56.4h0m2.1-11.6h0m0.7 32.9h0m0.3-20.7h0m0.2 10.3h0m0.5-10.8h0m1.7-27.6h0m0.7-125.3h0m1.3 153.2h0m0.5-16h0m0.7-139.8h0m0.6 147.2h0m0.6 22.6h0m0.1-1.7h0m0.4-7.6h0m0.8 0.1h0m0.2 7.7h0m1.1 10.4h0m0.2-30.4h0m0.6 6h0m0 13.6h0m3.5-64.5h0m0 43.6h0m0.1 7h0m0.2 13.6h0m0.3-29.2h0m1.5 30h0m1 3.7h0m0.3-19.7h0m0.7-140.9h0m0 10.5h0m0.2-1.3h0m0.1 116.6h0m0.6 8.5h0m1.5 23.8h0m1.3-154.7h0m0.5-2.2h0m0.5 146.2h0m0.3 2.6h0m0.6-63.2h0m0.5 56.3h0m0.2-36.5h0m0.7-16.5h0m0.5-2.6h0m0.2-6.2h0m1 4.6h0m0.4-80.4h0m0.8 135.1h0m0.5-14.5h0m0.3-33.3h0m0.2 50.1h0m1.3-54.8h0m0.5 74.2h0m0.2-81.7h0m0.3 3.9h0m0 6h0m1.3 50.1h0m0.8 4h0m0.4-105.3h0m0.1 50h0m0.9-70.5h0m0.1 135.4h0m1-20.3h0m0 1.7h0m0 21.5h0m1.2-128.1h0m0.6 57.2h0m1.1 50.1h0m0.2 20.1h0m2.2-6.5h0m1.2 5.2h0m0.5-121h0m0.5 52.7h0m0.1 63.4h0m1.8 1.2h0m0.4-2.1h0m1.6 8.8h0m7.4-14.5h0m0.6 2.2h0m7.8-33.9h0m2.4-73.1h0m1.4-36.7h0m0.9 10.7h0m15.3 41.7h0m0.5 111.6h0m2.9-128.4h0m4.5-2.5h0m0.7-34.4h0m1 10h0m1.2 15h0m0 2.6h0m0.6-19.6h0m1.6 7.3h0m2.2 63.3h0m0.7-57.4h0m1.4-40.3h0m0.4 52.4h0m0.8-5.1h0m0.8-14h0m0.3 6.6h0m2.6-0.6h0m1.6-6.5h0m1.3 68.6h0m0.6-57.2h0m0 65.2h0m0.7-54.9h0m1 48h0m1.7-67h0m0.1-59h0m0.3 64.6h0m0.6-2.5h0m0 1.3h0m0.4-11.3h0m0.1 20.2h0m0.4 6.1h0m0.1-24.1h0m0.1 69.3h0m1.2-56.3h0m2.3 49.5h0m0.4 16.5h0m0.2-3.8h0m1.5-74.8h0m1-5h0m1.3 34.2h0m0 43.3h0m0.2-88.2h0m0.6 87.6h0m0.4-71.2h0m0.2-16h0m0.3 83.1h0m0.3-4.5h0m0.4-2.3h0m0.2-0.9h0m0.4 7.9h0m1.3-93.6h0m1.2 22h0m0.6 65.2h0m0.7 9.6h0m0.1-64.5h0m0.4 55.1h0m4.8 15h0m0.1-9h0m1-0.2h0m0.1-0.4h0m0.7 7.4h0m0.3-17.3h0m0.3-13.2h0m0.8 37.1h0m1.2-6.3h0m0.2-17.9h0m5.1 17.4h0m3.9 7.8h0m4 2h0m4.9-99.8h0m1.6 79.4h0m0.2 10.4h0m2.2-78h0m12.7 3.6h0m134.9 92h0m19.3-13.7h0m2.8 7.6h0m8.3 25h0m1.5-35.2h0m0.4 22.3h0m1.1 2.2h0m0.7 16.9h0m3-1.8h0m2.5-3.9h0m4.5-5.3h0m1.3 24.4h0m0.2-20.4h0m0.6 9.6h0m0.2-30h0m0.3 36.5h0m2.7-9.5h0m0.2 19.2h0m2.1-28.2h0m0.1 10.2h0m2.3 5.6h0m2.5 2.6h0m0.3-36.5h0m0.5 31.6h0m0.5-17.7h0m2.2-3.4h0m2.2 0.6h0m1-12.5h0m0.9 39.7h0m0.3 16h0m0.8-19.9h0m1.9 8.8h0m0.7-19.2h0m1.4 21.3h0m0.4-47.6h0m0.5 8.3h0m0.2 23.6h0m1.1-34.7h0m0.6 38.4h0m0.1-27.6h0m0.5 25.4h0m1.1-13h0m1.5-15.5h0m1.9 6.6h0m0.4-11.3h0m0.5 17.7h0m1.1 6.4h0m0.8-22.5h0m0.1 16.4h0m0.1-4.7h0m0.1 21.5h0m0.8 16h0m0.8-61.9h0m0 15.8h0m0 24h0m0.6-37.3h0m0.1 42.5h0m0.5-26.8h0m0.1 23.6h0m0.2 10.8h0m0.7-45.5h0m1 73h0m0.9-88.2h0m0.1 33.1h0m0.3 11.3h0m1.9-22.6h0m1-5.6h0m0 45.1h0m0.6-23.9h0m0.1 82.8h0m0.7-104.3h0m0.4 31.4h0m0.1-35.5h0m0 8.3h0m0.6 71.7h0m0.4-7.8h0m0.3-65.9h0m0.2 0.6h0m1.4 3.1h0m0.8 9.9h0m1.3 57.2h0m0.4-64.5h0m1.3 16.5h0m1.2-3.8h0m0.2-9.9h0m0.9 19.6h0m1.7-10.9h0m0.2-5h0m3.1-11.2h0m0 33.6h0m1.7 10.8h0m1.3-44.2h0m1.3 27h0m1.5-2.8h0m13 34.7h0m3.5-68.7h0m0.3 30.3h0m1.6-140.7h0m3.6 12.5h0m0.9 11.4h0m0.7-4.9h0m0.1 4.9h0m1.7-19.6h0m0.1 29.4h0m0.7 12.1h0m0.6-27.5h0m2.1-21.1h0m1.6 69.5h0m0.2-35.9h0m0.1-7.2h0m1.7 4h0m2.1 32.6h0m1-15.1h0m0.2-0.1h0m0.1-9.8h0m1.8-23.3h0m0.8 42.5h0m0.1-34.2h0m1.1-13.2h0m0.8 95.7h0m0 62.9h0m2.7-115.2h0m0.1-3.3h0m2.2 5.3h0m0.1 13.2h0m0.6-51.5h0m1.4 39.6h0m0.1-37.9h0m0.5 41.6h0m0.1-5.5h0m1.2 9.4h0m0.3-13.9h0m0.1 7.3h0m0.6-3.8h0m0.7 1.3h0m0.4 42.8h0m0.2-5.8h0m1.2-99.1h0m0.1 63h0m1.6 0.8h0m0.2 3.2h0m0.7-5.2h0m0.1-1.1h0m0.1-27h0m0.3 43.8h0m2.4 11.4h0m0.3 5h0m0 1.2h0m1-35.2h0m6.1 45.2h0m0.4-9.9h0m0.3-4.5h0m1.7-58.3h0m0.8-24.6h0m1.4 55.3h0m0.8 25.8h0m0.1 12.4h0m3.3-29.9h0m0.6 24.9h0m0.8 2.1h0m0.3 1.9h0m0.5 0.4h0m1.2 3h0m0.7-1.4h0m0.9-12.9h0m0.1 10.3h0m1.7 4.6h0m1.5-13.2h0m1.4 5.1h0m0.1-7.5h0m6.4 2.5h0m5.9 1.1h0"/><path d="M54 126.7h0m5.6 18h0m3.4 10.6h0m13.2-6.9h0m1.2 29.8h0m0.7-33.7h0m0.3 40.8h0m3.4-42.3h0m0.7 8.7h0m0.4 6.5h0m0.1-13.1h0m1.5 14.9h0m0.9-4.2h0m2.3 3.4h0m3.8-7.5h0m0.7 2.1h0m0.6-8.5h0m3.8 3.9h0m2 7.2h0m2.1 21.7h0m0.4-23.4h0m0.3-16.3h0m0.3 38.7h0m0.8-10.1h0m1.3-24.7h0m1.7 11.8h0m0.1 2.9h0m0.1-5.5h0m1.1-14.1h0m0.6 4.9h0m0 2.6h0m0.5 31.9h0m1.6-21.7h0m1.4-11.2h0m0.2 7.1h0m0.7-24.8h0m3.2 72.4h0m1.5-39h0m1.3 4.2h0m0.3 23.7h0m1.3-27.1h0m0.5 32.9h0m1.9-12.7h0m0.6 19.7h0m0.2-16.5h0m0 5.3h0m0.6-6.6h0m0.2 12.9h0m3.1-4.7h0m3 3.4h0m0.1 1.9h0m1.8 27.3h0m0.1-33.4h0m0.2 7.1h0m2.3 11.2h0m0.4-65.7h0m0.1 49.3h0m0.5-4.9h0m0.2 12.3h0m1.5 0.9h0m0.7 24.6h0m0.1-46.7h0m0.8 19.1h0m0.3-1.2h0m0.1 11.4h0m0.1-14.6h0m1-4.3h0m1 19.6h0m0.2-176.1h0m0.2 112.3h0m0.4 60.9h0m0.2-14.5h0m1.7-11h0m0 13.7h0m0.4 3.3h0m0.6-9.8h0m0 5.4h0m0.6-1.6h0m1.6-35.9h0m0.7 15.7h0m0.1 59.7h0m0.5-189.3h0m0.1 123.1h0m0.3 50h0m0.7-2.3h0m0.1-15h0m0.3-154.3h0m0.4 11.1h0m0.4 129.8h0m0.7 29.2h0m0.4-11.7h0m0.6-0.4h0m0.4 31.3h0m0.1-41.1h0m0.4 19.9h0m0.2-22h0m0.7 16.4h0m0.9-106.4h0m1.4-34.6h0m0.2 70.4h0m0 57.4h0m0.5 8.9h0m0.1-46.3h0m1 18.7h0m0.3-119h0m0.1 9.6h0m1.1-2.6h0m0.6 143.6h0m1.6-62.2h0m0 63.3h0m0.3-25.7h0m0.1 8.4h0m0.3-12.6h0m1 5h0m0.2-118.2h0m0.1 78.5h0m0.1 59.7h0m0.2-14.2h0m0.2-127.1h0m0.3 145.6h0m2.3-11.6h0m0.3-8.7h0m0.5 11.6h0m0.5-7.1h0m0.1-60h0m0.3 67.8h0m0.3-2h0m0.8-120.7h0m1 62.4h0m0.5 2.1h0m0.1 64.6h0m0.9-6.6h0m4.9 7.6h0m0.2-11.4h0m0.3-126.7h0m0.9 134.4h0m1.9-26.6h0m0.8 26.6h0m0.2-9.1h0m1.1 11h0m0.4-16.8h0m0.5 17.9h0m0.2-103.5h0m0.7 98.4h0m0 18.2h0m2.4-21.1h0m0.5 9h0m1.1-7.2h0m0 8.9h0m0.8-25.1h0m0.9 63.6h0m4.1-80.4h0m13.4 25.2h0m5.4-117h0m5.4-18.4h0m3.5 19.5h0m0.8-19.4h0m5.7 18h0m0.5 27.7h0m0.4-42.4h0m2 86h0m1.2-69.2h0m1.3-16.4h0m2.9 18.1h0m1.2-2.1h0m0.5 0h0m2.2 5.5h0m2.4-12.9h0m0 1.9h0m0.7 25.8h0m2.6 33.8h0m0.2 1.1h0m0.3-69h0m1.6-14.5h0m0.6 109.2h0m1.1-64.5h0m0.5-0.3h0m1.5-6.8h0m0.4 57h0m0.2-100.5h0m0.2 38h0m1.5-14.1h0m0.8 77.6h0m0.3 3.8h0m0.1-7.6h0m2.3 3.5h0m1 1.4h0m0.8-11.1h0m1.8-57.2h0m1.6 71.8h0m0.1-95.7h0m0.6 80.5h0m0.1-91.5h0m1.6 91.1h0m0.6 12.8h0m0.1-11.9h0m0.1-1.6h0m0.1-8.3h0m1.6 4h0m0.9 12.2h0m0.6-12.9h0m0 13.2h0m0 2.8h0m0.5-15.7h0m0.1 6.3h0m0.6 6h0m1.5-24.4h0m0.9 27.4h0m0.5-3.9h0m0.3-8.9h0m2.4-70.2h0m1.2 94.2h0m4-86.6h0m0.9 79h0m0.3-112.2h0m7.3 108.2h0m0.1-65h0m1.9-18.5h0m41.1-17.1h0m121.9 86.4h0m6.3 30.4h0m6.6-3.5h0m0.8-8.6h0m2.9 14.8h0m1.4-7.2h0m0.7 7.1h0m2.5-7.1h0m1 33.5h0m3-7.8h0m0.7-22.4h0m0.1-1.3h0m5.4 20.6h0m0.2-16.9h0m0.6 18.7h0m0.5 16.1h0m1.6 5.9h0m1.1-34.5h0m0.2 5.9h0m0.9 1.8h0m4.4 18.3h0m0.1-18.5h0m0.2-12.4h0m1.3 16.4h0m1.2-8.5h0m0.1 15h0m0.2-32.1h0m1.9 38h0m1.7-20.9h0m0.2 6.9h0m2 17.6h0m0.2-11.5h0m0.4-19.1h0m0.2 6.5h0m2.3 21.4h0m0.2-29.7h0m0.4 3.9h0m0.3-0.2h0m0.6-6.1h0m1 50.3h0m2-35.4h0m0.1 10.1h0m0.9-3.2h0m1.5 18.4h0m0.9-32.6h0m1.8 28.1h0m0.2 17.7h0m0.3-7.5h0m0.9-21.6h0m0.5 12.9h0m0.6-45.2h0m0.5 17.9h0m0.2-25.6h0m0.3-3.8h0m0.5 47.8h0m0 15h0m1-4.1h0m0.1-49.5h0m0.8 44.5h0m0.4-18.1h0m0.1-14h0m1-3.8h0m0 20h0m0.3-7.5h0m0.2 31h0m0.2-37.9h0m0.4 7.8h0m0 5.4h0m0 8.6h0m1.1-32h0m0.7 9.9h0m0.5 26.2h0m1-49.8h0m0.5 107.1h0m0.9-94.7h0m0.5 4h0m0.3 29h0m0 3.1h0m0.5-43.4h0m0 79.4h0m0 26.1h0m1.8-43.8h0m2.2-41.3h0m0 28.5h0m0.9-13.6h0m0.3-21.7h0m0.3 3.6h0m0.9 21.3h0m0.6-20.7h0m1.1-7.6h0m0.3 50.6h0m0.4 16.5h0m0.6-66.3h0m0 10.1h0m0.6 3.6h0m0.2 65.9h0m0.1-57.8h0m0.8-30.6h0m1.8 39.4h0m0.2 12h0m0.7-47.9h0m0.3 88.9h0m0.5-61.9h0m0.6 52h0m3.2-59.7h0m0.1-13.6h0m0.2 11.1h0m0.3-15.7h0m0.2-7.2h0m0.1 63.9h0m0.3-10.9h0m5-157.6h0m0.5 113.4h0m1.3 14.7h0m0.6 48.7h0m9.1-47.9h0m5.6 19.1h0m2.9-125.4h0m0.1-16.2h0m2.2 57.2h0m1.7 51.5h0m2.5-98.4h0m2.7 6.1h0m0.5-11.4h0m1 4.1h0m0.1 1h0m1.9 17h0m3.5-15.5h0m0.3-11.9h0m0.1 52.3h0m0.4 23.7h0m1.7-7.8h0m0.2 56.8h0m0.7-130.2h0m1.4 1.1h0m0.2 51.3h0m6.8 22.1h0m0.9-65.9h0m0.3 36.2h0m3-11.2h0m2.1 50.5h0m0.9-20.7h0m0.5-33.4h0m0.8 24h0m1.3 4.7h0m0.4-0.5h0m0.9 19.1h0m0.5-33.4h0m0.1-19.1h0m1.1 20.4h0m1.3-62.1h0m0 103.7h0m0.2-64.5h0m2.2 20.2h0m2.8 23.4h0m0.3 30.4h0m0.5-9.2h0m0.2-5h0m2.6-6h0m0.2 11h0m1.6-11.8h0m4.7-1.1h0m1.4 6.5h0m0.4 36.4h0m0.1-34.6h0m4.9-2.1h0m3.3 2h0"/><path d="M56.2 181.7h0m3.1 24.9h0m17.6-56.1h0m8.2-7.9h0m1-9.4h0m2.2 66.2h0m4.3-61.9h0m0.1 2.5h0m0.2-5.2h0m0.7 22.9h0m3.1-5.9h0m0.7-37.4h0m0 14h0m2.2 31.5h0m0.6 15.6h0m0.9-21.5h0m0 0.7h0m1 31.7h0m0.3-25h0m2.5 22.2h0m0.8-40.9h0m2.5-1.2h0m0.7 1.4h0m3.4 1.3h0m1.1 1.5h0m0.5 47.6h0m1.5-37.6h0m2.4 31.3h0m1.1 7.9h0m0.4-29.3h0m1.8-4.3h0m0.4 18.1h0m1.4 12h0m0.5 6.6h0m0.9-9.1h0m0.3-41.9h0m2.4 59.3h0m2.7-26.9h0m0.1 21.6h0m2.3-67.9h0m1.1 63.7h0m0.9-8.8h0m0.2 25.4h0m0.4-26.1h0m0.3 13h0m0.1-53.8h0m0.2 67.9h0m1.4-32.9h0m1 32.7h0m0.6-14.3h0m0.1-14.5h0m1 6.8h0m0.4-11.6h0m0.7-138.5h0m0.4 148.8h0m0.1-12.2h0m0.7 5.1h0m0 13.2h0m0.4-9h0m0.7 11.6h0m0.6-11.6h0m0.1-17.6h0m1.9-119.9h0m0.7 123.9h0m2.4 9.2h0m0.2 4.8h0m0.6 13.2h0m0.9-5.8h0m0.5-9h0m1.9-57h0m0 68h0m0.5-141.8h0m1 5.1h0m0.3 129h0m0.2-12.3h0m0.2 18.9h0m1.4 4.1h0m0.1-82.9h0m1.9-72.5h0m1.1 149.4h0m0.4 2.8h0m0.5 4.2h0m1-28.6h0m0.2-31h0m0.3 62.7h0m0.4-26.7h0m0.5 17.7h0m0.4-14.1h0m0.5 13.2h0m0.4-122.1h0m0 112.6h0m0.3-46.6h0m0.1 55.9h0m0.1-13.8h0m0.7-42.9h0m0.2 1.1h0m0.9 62.1h0m0.2-0.7h0m0.1 9.2h0m0.7-11.4h0m0.4 5h0m0.2-55.1h0m0.7 31h0m1.4 24.7h0m2.4-14.8h0m1.4 23.4h0m0.4-15.3h0m0.3-62.3h0m0.1 74.6h0m0.7-22.5h0m0 3.7h0m1-0.9h0m0.2 15h0m0.3-12.6h0m0.4-50.4h0m0.4 55.2h0m2.7-4h0m0.6 2.9h0m1.2-8.4h0m0.6 3.4h0m1.2-2.9h0m3.1 4.4h0m1.8 25.5h0m2.1-39.5h0m1.7 19h0m20.6-12.3h0m6.1-8h0m1-87.1h0m3.3-17.8h0m0.1 9.8h0m1.3 0.6h0m1.6 57.1h0m0.7-73.8h0m1.5 23.2h0m4.6 8.9h0m1.6 45.1h0m0.7-67.7h0m0 3.5h0m0.6-2.2h0m0.6-9.4h0m0.1 6.7h0m0.8 71.5h0m0.6-69.4h0m1.5-10.1h0m0 49.5h0m0.8-35.2h0m0.4-7.3h0m0 4.8h0m1.3 1.1h0m0.6-6.1h0m0.1-9.8h0m1.5 1.8h0m4.1 6.8h0m0.1 22.2h0m0.4-21.8h0m0 64.3h0m0.7-70.9h0m0.4 6.7h0m0.1 69.5h0m1.3-76.7h0m0.8 69h0m1.3-42.1h0m0.2-2.7h0m0.1-9.9h0m0.1 67.6h0m1.5-61.2h0m0.7 53.7h0m0.9 7.9h0m0.1-10.8h0m0.2-75.1h0m0.8 71.2h0m0.3 3.7h0m1-5.8h0m0.9-87.8h0m1.4 83.1h0m0.3 32.3h0m0.6-35h0m0.6-46.9h0m0.5 18.9h0m0.3 29.4h0m0.1 22.1h0m0.7 1.1h0m1.9-80.4h0m0.3 73.6h0m0.9 9.1h0m0.2-14h0m0.1-95.7h0m0 94.1h0m0.4-110.4h0m0.8 118.4h0m0.5-19.6h0m0.6 2.2h0m0.2 3.4h0m2.3-9.2h0m0.6 25.1h0m3.1-16.3h0m1.8-4.9h0m0.4-74.6h0m0.6 90.3h0m1-0.6h0m1.6-0.5h0m0.1-0.9h0m1.3-11.8h0m0.3-2.4h0m2 4.5h0m0 20.6h0m1-66.5h0m1.6 46.6h0m1.1-50.8h0m0.1 52.3h0m14.7-67.3h0m154.4 89.4h0m4.5 7.9h0m3.1-6.6h0m2.6 1.6h0m0.8 9.2h0m1 0.4h0m0.4-9.8h0m2.6-3h0m0.6 1.8h0m1.7-3.5h0m9.8 38.3h0m1.3 17.8h0m0.8-56h0m5.1 17.9h0m2.9 7h0m1.1 9.8h0m1.6-20.4h0m0.8-4.5h0m1.1 27.2h0m0.7-13.9h0m0 9.7h0m0.3-15.3h0m0.1 11.9h0m3.1 7.5h0m0.9-3.6h0m0.1-22.8h0m0.7 14.2h0m1 3.2h0m0.8-23.7h0m0 10h0m1.5 17.1h0m0.1 5.5h0m0.8-20.4h0m0.1-6.3h0m0.4 26.5h0m0.7-26.2h0m0.1 10.2h0m0.5-7.2h0m0.5 20h0m0.2-14h0m1 32.9h0m0.2-21.7h0m0.4-1.9h0m0.4-3.9h0m1.8-13.7h0m1.7 30.7h0m0.3-30.5h0m0 6.7h0m0.6-9.7h0m0.5 65.9h0m0.4-53.4h0m0.2 5.9h0m0.3-27.5h0m0.5 51.6h0m0.3-24.4h0m0.4 32.2h0m0.9-26.3h0m0.2-30.8h0m0.1 47h0m0.8-48.6h0m0.2 5.9h0m0.3 19.7h0m0.7-9.7h0m0.5 26.7h0m0.3 7.3h0m0.4-27h0m0.9-32.2h0m0 76.9h0m0.5-20.9h0m1.7 37.7h0m0.4-17.4h0m0.2-65.3h0m1 27.3h0m0.4-2.2h0m0.2-8.7h0m1-12h0m0.1 21.3h0m0.2 1.8h0m0.7 17.3h0m0.2-8.1h0m0.3-6.9h0m0.3 16.8h0m0.1 15.4h0m0.6-64.8h0m1 25.2h0m0.9-16.7h0m0.4-16.3h0m0.4 22.1h0m0.3-55.1h0m0.5 38.2h0m0.5 44.3h0m0.2 23.4h0m0.6-52.5h0m0 36.2h0m0.3-1.1h0m0.3-37.8h0m0.8-23.1h0m1.2 46.2h0m0.4-21.7h0m0.2-10.9h0m0.2 50.2h0m0.4-17.3h0m2.2-10.8h0m0.2 51.1h0m0.2-86.4h0m0.2 17.5h0m1.2 63.9h0m0.3-59.7h0m2.1 92.6h0m2.2-31h0m2.8-71.3h0m6.7 19.3h0m4.3-116.7h0m11.1 8h0m0.6-31.7h0m0.7 141.2h0m0.1-115.8h0m0.7 0.2h0m0.3 133.7h0m0.4-123.1h0m2.9-14.1h0m0.5 12.5h0m0.5-6.1h0m1.7-0.4h0m1.8 26.3h0m0.1 48.6h0m0.7-67.6h0m1.9 5.8h0m0.1-26.8h0m2.3 3.4h0m0.3 34.5h0m1.8-32.9h0m0.8 31.2h0m2 5.8h0m2-20.7h0m0.8 64.1h0m2.4-42.1h0m1.6-31.8h0m0.6 31h0m0.8-6.8h0m0.5 12.1h0m0.3-16.6h0m0.5 14.7h0m0.8-7.1h0m1.4 8.7h0m0 21.9h0m0.1-23h0m1.7 22.2h0m1.5-77.5h0m2.1 60.5h0m2.3 24.9h0m0.1 4.3h0m1.7 2.2h0m3-13.2h0m0.6 3.1h0m0.3 1.4h0m2.3 16.1h0m0.2-8.7h0m0.4-8.6h0m0.6 1.8h0m0.6-40.4h0m1.3-9.4h0m0.9 55.5h0m0.1-7.3h0m0.6 10.8h0m0.5-9.2h0m0.5 2.1h0m0.6 7.3h0m0.1-0.6h0m4.5-6.4h0m1.8 0.3h0m2.3-40.3h0m1.2 36h0m0.7 1.6h0m0.6 7h0"/><path d="M56.9 133.8h0m2.2 11.3h0m0 27.8h0m1.3-31.8h0m1.7 91.4h0m11.3-51.3h0m0.8-4.3h0m1.8-23.6h0m1.2-2.6h0m0.9-2.6h0m1.3 2.7h0m0.5-5.3h0m1.9 24.5h0m1.1 9h0m1.1-39.9h0m0.1 11h0m5 27.2h0m0.8-25.3h0m0.2 11.3h0m0.9 68.1h0m0.4-51.5h0m1.2-15.2h0m0.2 33.7h0m6-43.9h0m0.3-14h0m0.1 17.3h0m2.2 82.4h0m1.1-77.2h0m1.5-3.1h0m0.7-9.6h0m0.2-65.3h0m0 76.1h0m1.8 9.8h0m1.5-19.6h0m5-17.2h0m0.7 22.7h0m0.3 43h0m0.3-54.8h0m1 63.8h0m0.3-16.3h0m2.4-38.4h0m1.9-4.5h0m6.2 4.7h0m0.2 56.1h0m0.1-22.8h0m3.2 38.9h0m0.1-40.8h0m0.8-3.2h0m1.2-9.7h0m0.7 27.4h0m3.5 2.3h0m0.2 17.4h0m0.4-15h0m0.3-51.3h0m0.6 47.3h0m0.1-11.7h0m0.2 1.5h0m0.1 26.2h0m0.1-24.2h0m0.5 0.4h0m0.1-26.3h0m0.8 15h0m0.8-145.3h0m1.5 151.1h0m0.3 6.3h0m0.3-15.9h0m1.3 29.7h0m0.4-10.2h0m0.2 5.3h0m0.7-24.4h0m0.3 18.3h0m1.2-150h0m0.1 69.7h0m0.9 78.6h0m0.5-7.1h0m0.1-14.3h0m0.1 16.5h0m0.6-142.8h0m0.2 150.7h0m0.4-16.9h0m0.1 9.7h0m0.2-11.5h0m0 17.7h0m0.4 8.5h0m0.3-20.1h0m1.6-26.9h0m1.2 40.7h0m0.2-7.8h0m0.4-8.7h0m0.1 16.3h0m0.9-141.9h0m0.6 143h0m0.4 20.9h0m0.1-161.3h0m0.7 113.9h0m0.2-37.7h0m0 10.8h0m0.3-89.8h0m1 142.1h0m0.1-14.2h0m0.6-39.6h0m0.6 55.4h0m0.4 27.5h0m0.2-35.8h0m0.3-18.8h0m2.9 27.1h0m0.8-135.5h0m0 82.7h0m0.6-74.8h0m0.6 122.8h0m0.1-26.6h0m0.6-19.6h0m0.5-6.3h0m0.1-3h0m0.9 46.8h0m0.1-42.2h0m0.1 48.6h0m2.2-119.7h0m0.7-13.1h0m0.4 137.6h0m0 13.3h0m1.1-77.9h0m0 39h0m1 22.2h0m0.6-59.7h0m0.1 59.8h0m0.7-9.5h0m0.7-113.2h0m0 103.6h0m0 14.2h0m0.7-119h0m0 68h0m1.5 60h0m0.1-3.3h0m1.4-117.1h0m0 114.6h0m0.9 0.4h0m2.4-2.3h0m1 9.8h0m0.1-4.6h0m1 6.9h0m1.8-13.1h0m2.6 8.4h0m8.5-14.6h0m1.4 1.9h0m7.8-17.9h0m0.4-84.1h0m1.9-14.7h0m5.3 25.1h0m0.1-15.4h0m8.3-5.7h0m2.6 18.6h0m1.1-6.8h0m0.4-17.7h0m3-25.1h0m0.4 44.9h0m0.2 1.2h0m0.4-41.5h0m1.5 41.7h0m4-2.3h0m4.5-18.3h0m1.3 11h0m0.3-0.6h0m0.2-28.6h0m1.4 25.5h0m0.8 46h0m1.2-52.8h0m0.1 14.1h0m0.4-6.6h0m0.2 12.3h0m2.5-27.3h0m2.1 6.8h0m0.9 13.2h0m0.5 72.1h0m1.3-8.4h0m0.5-8.8h0m0.2-58.3h0m0.8 9.7h0m0.5 52.3h0m0.4-56.5h0m0.2 49.6h0m0 9.2h0m0.8-5.1h0m0.2 7.4h0m0.1-70.1h0m0.1 7.6h0m0.1-33.9h0m0 37.4h0m0.3 46h0m0 15.9h0m0.3-5.5h0m0.5-18.1h0m1-42h0m0.8-36.3h0m0.7 44.6h0m0.6-24.7h0m0 1.1h0m0.3 56.6h0m0.3-57.6h0m0.2 69.6h0m0.1-9.9h0m0.2-3.9h0m0 24h0m0.6-17.5h0m0.3-1.5h0m1.2 29.7h0m0.1-32.3h0m0.5-43.7h0m1 41.7h0m0.6-3.4h0m0.3 28.3h0m0.2-11.8h0m0.7-102.3h0m1.6 107.9h0m2.4-5.8h0m0.7-4.5h0m2.3-32.5h0m0.8-46.7h0m1.2 31.7h0m1.3 43.7h0m1.2-86h0m0.1 95h0m0.1-5.4h0m1 11.5h0m0.4 1.5h0m1-3.5h0m0.7-12h0m0.8 23h0m2.9 0.6h0m1.4-25.8h0m11.4-1.1h0m156.3 26.1h0m0.4 1.2h0m1.6-2.9h0m0.9 3.9h0m0.1-3.1h0m1.9-4.4h0m0.9 6.7h0m5.5-0.9h0m1 1.3h0m2.9-22.9h0m6.7 59h0m1-45.7h0m8.2 48.4h0m0.1-49.6h0m0.3 21.7h0m4.4 25.7h0m0.7-20.1h0m0.5 11.6h0m1.6-14.6h0m1.7 28.2h0m1.8-15.3h0m0.5 12h0m0.7 1.4h0m5.9-19.8h0m0.8 39.1h0m2.1-20.6h0m3.7-30.8h0m0 0.5h0m0.5 28.5h0m1.1-23.6h0m0.8 46h0m0.7-51.1h0m1.3-8.2h0m0.1 41.6h0m0.5-56.6h0m0.1 50.6h0m1 9.8h0m1.5 13.5h0m1.6-32.2h0m0.6-11.2h0m0.4 11.7h0m0.1-8.7h0m0 11.6h0m0.4-27.4h0m0 15.2h0m0.2 16h0m1.4 36.3h0m0.5-62.7h0m0 4.9h0m0.6-9.9h0m0.8 62.1h0m0.4-17.7h0m0.6-23.7h0m0 35.9h0m1.6 5.6h0m0 22h0m0.7-72.2h0m0.5-8.2h0m0.3-8.2h0m0.9 49.9h0m0.3-50.8h0m0.1 6.5h0m0.3 3.7h0m1.3-8.9h0m0.4 7.1h0m0.1-17.9h0m0.7 19h0m0.1-19.8h0m0 18.3h0m0.7-1.3h0m0.2 21.7h0m1.1 46.7h0m1.4-67.5h0m1.3 35.9h0m0.8-50.2h0m0.5 18.7h0m0.1 5.1h0m2-17h0m1.5 9.7h0m0.2 10.9h0m1.4 52.1h0m0.5-52.3h0m0.7-23h0m1.3 7.4h0m0.5-3.6h0m1.3 70.3h0m0.9-54.6h0m0.6-10.1h0m0.4 3.1h0m2.2 40.1h0m0.5-24.1h0m0.7 1.3h0m2.3-13.8h0m0.5 25.5h0m7.1-49.1h0m1.2-96.9h0m12.5 1.5h0m1.1 197.6h0m0.4-183.6h0m0.1-8.6h0m0.4 2.2h0m1.6 14h0m0.4-7.7h0m1 14.9h0m0.2-20.6h0m0.6 11.1h0m1.6-9.2h0m2.9 8.8h0m0.3-31.3h0m0.5 55.9h0m3.3-35.8h0m2.7-10.7h0m1 41.6h0m0.2 7.9h0m2.2 1.8h0m2.1-46.9h0m0.2 77.7h0m0.5-89.9h0m1.8 54.2h0m1.6-25.7h0m0.1 46.1h0m0.6-13.3h0m0.3-5.3h0m1.2-0.9h0m0.3-58.5h0m0.3 10.4h0m0.8 43.7h0m0.4 2h0m0.1 47.3h0m0.3-38h0m0.3-7.4h0m0.1 17.2h0m0.8-55.3h0m0 80h0m0.1-23.8h0m0.5-6.1h0m0.2-13.8h0m1-21.2h0m0.1 13.4h0m0.4 43.9h0m7.6-10.2h0m2.3 17.5h0m1.1-19.6h0m0.2 4.5h0m0.5 8.7h0m0.4 17h0m0.7-35.5h0m0.4-32.7h0m1.5 66.5h0m2.2-10.6h0m0.2-42.9h0m0.8 40.1h0m0.4-3.7h0m0.6 3.9h0m6.6 6.1h0"/><path d="M54.9 157.4h0m6.9-5.4h0m0.1-2h0m1.5 3.4h0m1.6 4.9h0m4.5-9.9h0m3.9 0.2h0m0.6 7.1h0m3.6 50.6h0m0.1-61.5h0m2.2 8.1h0m11 8.1h0m2.5-0.2h0m0.3-6.3h0m1.7-20.6h0m0 16.6h0m1.9 1.4h0m2.4 7.6h0m0.8-4h0m0.4-2.5h0m0.6-8.2h0m1.2 33h0m2.2-24.2h0m1.2 16.2h0m0 33h0m1.9-47h0m0.5-4.4h0m0.5 37.1h0m0.1-58.1h0m0.8 58.4h0m2.4-41.3h0m1.2 1.7h0m1.4 33.6h0m0.1-31.9h0m0.9 62h0m0.3-78h0m1.3 52h0m0.9-30.6h0m0.3-11.1h0m1.1 33.2h0m1 10.5h0m0.6-10.5h0m1.8 63.4h0m0.4-74.6h0m0.7-19.1h0m0.1-4h0m0.8 39.7h0m0.2 15.5h0m2.2-42.4h0m0.2 29.9h0m0.3 2h0m0.1-0.8h0m0.7-5h0m0 11.6h0m5.5 0.8h0m0.1-67.3h0m0 64.1h0m2.3 4.4h0m1-2.9h0m1.1-6.9h0m0.2 2.2h0m1.1-33.4h0m0.5 34.1h0m0.2 12.4h0m0 6.1h0m0.1-25.1h0m0.4-2h0m0.3 17.3h0m0.3-0.4h0m0.1 6.7h0m0.1-3.2h0m0.1-20.5h0m0.1 23.2h0m0.4-9.2h0m0.1-73.5h0m0.3 31.1h0m0.1 49.6h0m0.5 10.4h0m1.2-34.1h0m0.5 28.4h0m0.1-20.2h0m0.6 0.2h0m0.3-135.9h0m0.3 153.9h0m0.3-14.9h0m1-11.1h0m0.2 28.6h0m0.7-10.2h0m0.4-20.9h0m0.3-126h0m0 132.2h0m1 35.9h0m1.2-169.8h0m0.1 6.6h0m0.6-2.5h0m0.1-6.6h0m1.3-3.1h0m0 141.4h0m0.3 46.9h0m0.6-91.6h0m1.2-8.1h0m0.7 18.5h0m0.4 33.8h0m1.3-134.1h0m0.3 90.9h0m0.6-6.6h0m0.1 54.6h0m0 28.1h0m0.4-30h0m0.7-47.5h0m0.4 55.5h0m0.1 4.3h0m0.4-136.2h0m0.6 0.7h0m1.3 82.3h0m0.2 36.8h0m0.5-122.7h0m0.5 87.9h0m0.7 56.7h0m0.6-62.9h0m0.9-72h0m1.2 0.5h0m0.9 131.6h0m0.2-123.3h0m0.2 73.4h0m0.5 49.9h0m0.1-54.1h0m0.3 55.1h0m0.3-26.8h0m0.2-35h0m0.4 67.1h0m0.1-4.4h0m0.4-128.7h0m0.4 9.9h0m1.5-4.4h0m0.7 122h0m1.4-4.1h0m0.1-55.5h0m0.9-7h0m1.3 59h0m1 14.6h0m0.2-62h0m0.2 44.1h0m0.5-106h0m0 105.1h0m0.5 14.8h0m4.5-6.6h0m0.7-2.7h0m1.2 4.7h0m0.2 8.9h0m0.6-9.1h0m0.5-1.5h0m0.2 6.8h0m4.9-4h0m0.1-2.9h0m4.2 9.1h0m2.4-152.4h0m5.4 127.8h0m6.6-114.9h0m3.1 7.6h0m2-7h0m5.1 12.1h0m5.2 94.8h0m2.7-62.5h0m0.3-15.9h0m3.5-19.2h0m0.4 4.1h0m0.3 13.7h0m1.9-24.1h0m2.2-4.9h0m0.9 19.9h0m0.9-41.6h0m3.3 28.4h0m0.7-11.3h0m2.3 25.2h0m0.9-13.2h0m2.5-8.8h0m0 6.9h0m1.1-14.4h0m0.2 69.5h0m0.4-60.8h0m4.4 79.2h0m0.3-8h0m0.1-6.3h0m0.8-45.3h0m0.7-17.8h0m0 64.4h0m0.1 13.8h0m1-2.7h0m1.4-19.5h0m0.4 0.5h0m1.1-91.9h0m0.7 109.7h0m3-4.6h0m0.3 17.4h0m0.8-16.2h0m1.2-94.1h0m0.2 38h0m0.4 60.3h0m0.2-95.3h0m0.2 34.7h0m1.2 58.1h0m2-9.8h0m1.3 1.9h0m2.8-3.2h0m0.1-0.4h0m1.7-76.5h0m1 82.3h0m0.5-110.6h0m0.8 111.5h0m1.4-84h0m0.8 34.3h0m2.6-15.3h0m0.8-32.1h0m0.2 16.5h0m0.7 72.2h0m1.1-102.8h0m0 31.7h0m1.4 81.9h0m0.8-14.5h0m0.9 15.4h0m0.7 3h0m0.9-63.9h0m4.6 60.9h0m0.1-5.2h0m8.5-81.4h0m30.9-7.2h0m120.1 106.2h0m0.4 9.8h0m1.2-6.1h0m12.9-3.4h0m2.2-1.7h0m2-10.8h0m5.7 7.3h0m0.8 18.2h0m0.3-14h0m4.3 34.4h0m2.7-37.8h0m2.4 3.1h0m1.9 39.4h0m0.1-18.2h0m1.7-6.4h0m2 49.3h0m0.4-46.1h0m1.8 6.5h0m0.1 5.2h0m0.9-4.6h0m2.5 15.7h0m0.4-6.7h0m1.1-8.4h0m1.1 7.8h0m0.8-13.7h0m0.9 8.9h0m0.5-1.2h0m0.1-8.2h0m1.3 15.6h0m0.9-2.3h0m0.1-6.4h0m0.1-4.2h0m0.6 32.1h0m1.1-11.4h0m1.9-50.9h0m0.2 36.5h0m1.2-18.4h0m0.3 31h0m0.3 17h0m0.2-17.3h0m1.1 9.8h0m1.5-41.5h0m0.5 30.4h0m0.4-19.2h0m0 10.3h0m2.8 7.3h0m0.6 0.2h0m1-4.9h0m0.6-9.6h0m0.2-22.7h0m0.5 18.4h0m0.3 41.9h0m0.4-26.6h0m0.4-18.5h0m0.9-2.3h0m0.1 46.2h0m0.8-59.9h0m0.2-37h0m0.5 67.5h0m0.2-27.6h0m0.2 27.1h0m0.1-30.9h0m0.4-5.9h0m0.3 35.7h0m0.8-7.3h0m0.5-9.3h0m0.6-6.7h0m0.4 45.6h0m0.9-48.2h0m0.4 11.3h0m0.5-0.7h0m0.9 23.9h0m0.3-6.2h0m0.9 6.8h0m0 15.6h0m0.5-19.2h0m0.2-33.4h0m1.5-1.7h0m0 7.1h0m0.6-16.1h0m0.8 18.3h0m0.2 27.2h0m1.6 16.8h0m0.6 20.7h0m0.2-28.8h0m0.4-17.4h0m1.8 26.7h0m1-17.2h0m0.1-43.1h0m0.4 2.7h0m0.7 17.9h0m2.5-6.3h0m1.1 57h0m0.7-65.7h0m0.6 1.5h0m0.5 12.9h0m0.1 65.6h0m4.8-70h0m7.2 3.5h0m14.2-132.3h0m1 11.4h0m0.9 12.3h0m0.6-22.2h0m0.8 23.4h0m1.1-1.9h0m0.3-7.6h0m0.7 2.3h0m3.9 2.4h0m0.1-6.6h0m0.9 52.3h0m3.9 0.6h0m2.1-29.5h0m1.9 17.7h0m1.8-27.1h0m0.2 76.7h0m0.5-69.4h0m1 14.2h0m3.8 44h0m0.2-109.9h0m0.7 77.4h0m0 20.2h0m0.3-33.5h0m0.2 9h0m1 1.2h0m0.5 1.8h0m0 2.9h0m0.1-5.8h0m1.4 13.7h0m0.8-1.6h0m0.5-54.9h0m0.8 8.7h0m0.5 72h0m0.5-34.7h0m0.8 32.9h0m0.5-38.5h0m0.4 38.5h0m0.4-41.5h0m1.9-29.4h0m0.7 43.2h0m0.2-64.2h0m1.3 55h0m0.2 5.9h0m0.3-31.1h0m0.2-21.1h0m0.8 83.6h0m0.2-33.1h0m1.4 34.9h0m2.2-20.2h0m1.3-65.4h0m0.4 30h0m0.5 53.8h0m3.5-19.1h0m3.1 11.9h0m0.8 7h0m1.7-19.7h0m0.6 24.5h0m2.8-6.5h0m1.4 9.8h0m2.3-18.9h0"/><path d="M54.9 152.4h0m1.5-4.9h0m7-3.9h0m1.2 8.6h0m8.2 9.9h0m3.8 9.3h0m0.4-11.2h0m1 8.9h0m4.6-17.8h0m1.1-2.3h0m1.5 37.8h0m0.4-3.3h0m0.4-22h0m1.6 61.1h0m1-78h0m2.3 5.5h0m1.1-8h0m1.5 48.1h0m1 6.5h0m0.4-15.2h0m0.1-56.6h0m1 26h0m1.9-2.6h0m0.7-1.3h0m0.4-5h0m0.4 17.6h0m0 4.6h0m0.2-2h0m0.7-17h0m0.2 12.3h0m0.3-4.6h0m0.7 30.6h0m3.9 26.5h0m0.7-49.8h0m0.9 42.9h0m0.4-48.1h0m2.2-0.9h0m0.8-18.8h0m0.2 24.2h0m1.5-6.1h0m0.7 3.1h0m1 52.8h0m2.8-11.9h0m0.7-52.9h0m0.1 2.6h0m1-1.3h0m0.2 25.3h0m1 20.1h0m0.7 1.3h0m0.9-37.4h0m0.4-3.1h0m0.4 53.5h0m1.4-65h0m1 67.1h0m2-36.9h0m3-17.1h0m0 43.6h0m0.1-7h0m0.2-163.8h0m0.1 176.1h0m0.9-13h0m0.4 20.5h0m0.7-11.7h0m0.2-16.1h0m0.4 20.3h0m0.8-9.7h0m0.5-5h0m0.2-47.7h0m2.8 48.8h0m0 0.5h0m0.2 4.5h0m2.1 14h0m1.7-18.8h0m1.1 0.1h0m0.6 10h0m0.8-23h0m0.3 23.1h0m0.9 7.8h0m0.2-9.5h0m0 0.3h0m0.7 3h0m0.7-163.9h0m0.4 144.5h0m0.5-131h0m1.5 148.3h0m0.4-17.7h0m0.7 22.9h0m0.2-148.7h0m0.5 153.6h0m0.5-150.7h0m0.2 149.2h0m1-43.4h0m0.2 40.9h0m0.3-7.2h0m0 13.9h0m0.6 24.7h0m0.1-92.7h0m2.6-93.1h0m0.9 13.6h0m0.4 120.1h0m0.5-15.5h0m0.4 34.3h0m1.8-4.2h0m0.7-23h0m0.5 40.1h0m0.1-154.7h0m0.3 5.7h0m0.1-4.2h0m0.4 0.1h0m0 84.2h0m0 28.2h0m0.8-38.7h0m0.9 8.6h0m0.8 56.8h0m0.4-32.9h0m0.1 31.9h0m2-25.9h0m0 6.3h0m0.2-26.6h0m1.2 46h0m0.8-130.2h0m0.1 128.6h0m0.5 15.9h0m0.2-149.2h0m0 74.8h0m0 56h0m0.4-20.6h0m0.3-108.4h0m0.3 99.8h0m0.1-17.8h0m1.2 61.2h0m0.3-138.5h0m0.2 117.2h0m0.9-38.4h0m0.9 44.3h0m0.5 8.2h0m0.2-24.6h0m0.6-46.8h0m0.6 72.3h0m0.5-15.3h0m0.1 10h0m5-114.9h0m0.4 118.4h0m1-3.5h0m0.6-1.8h0m2.1 9.9h0m0.2-24h0m0.8-17.9h0m1.8 56.1h0m0.7-116.1h0m1.1-4.8h0m0.5 58.6h0m0.1 42.5h0m8.3-3.7h0m4.1-8.5h0m1.8-55h0m1.6-43.7h0m18-2.4h0m3.4 0.4h0m2-0.2h0m0.2 49.5h0m0.2-63.2h0m1.2-4.1h0m0.2 11.2h0m2.5 67.1h0m0.9-69.2h0m0.4-0.1h0m0.1 11h0m0.9-18.3h0m0.1 16.8h0m1.5-18.1h0m0.5-17.6h0m0.4 27.5h0m0.2 8.8h0m0.3-19.6h0m0.3-11.3h0m2.6 60.6h0m0.4-79.7h0m1.5 99.3h0m0.2-71.9h0m1.8 18.5h0m1.2-15.8h0m0.6-15.4h0m0 80.5h0m1.2-6.5h0m2.7 15.3h0m0.5-16.1h0m0 78.4h0m2-71.5h0m0.5-47.6h0m1.5-40.5h0m0.6 85.6h0m1.9 14.2h0m2.9-94.1h0m0.2 74.8h0m0.3-71h0m0.3 76.7h0m0.1-9.5h0m1.2 22.3h0m0.9-1.4h0m1.5-103.3h0m0.7 99.4h0m0.6-56.4h0m0.9 52.2h0m0.5 7.3h0m0.6-81.7h0m2.5 27.6h0m0.5 47.1h0m0.5 18.6h0m1.2-112.4h0m0.6 29.7h0m0.7 67h0m0 7.7h0m0.5-11h0m0.7 2.9h0m3.9-65.5h0m0.1 65.3h0m3 7.4h0m0.2-8.5h0m1.3-14.5h0m1.4 8.6h0m4.1-107.8h0m6.4 22.9h0m0 14.5h0m153.5 72.3h0m10.2 23.1h0m2.9 25.1h0m4.3-21.6h0m0.1-16.6h0m0.4 12.2h0m1.7-7.6h0m1.4 10.2h0m2.1 5.8h0m4.2 9.5h0m5.6 29.6h0m0.5-7.1h0m0.7-33.2h0m0.9 10.9h0m3.4 6.1h0m0.7-2.1h0m0.3-29.7h0m1.2 30.5h0m0.9 14.3h0m4-26.7h0m1.6-7.4h0m0.8 15.4h0m1.1-12.4h0m1 17.4h0m0.1 18.5h0m0.6-24.1h0m0.1 15.5h0m0.9-15h0m1.4-0.9h0m3 4.8h0m0.1-16.1h0m2.6-1h0m3.5-4.5h0m1.9 17.7h0m0.5-5.1h0m0.1 15.1h0m2.7-9.4h0m0.2-4.8h0m0.5-16.8h0m0 2.4h0m0 9.6h0m0.6 17.1h0m1.2-14.4h0m0.5-8.2h0m0.4-24.6h0m0.2 19.3h0m0.6 8.3h0m0.5 11.3h0m0.1-22.1h0m0.2 14.4h0m0.7 39h0m0.1-37h0m0.4 19.5h0m0.2-33.1h0m0.5 2.4h0m0 26.6h0m0.6-43.9h0m0 5.5h0m0.1-33.3h0m1.1 48.5h0m1.8-1.6h0m0.5-13.9h0m0.1-3.3h0m0 19.5h0m0.4 9.1h0m0.1-9.1h0m0.3-14.8h0m0.5 65.9h0m1.4-29.9h0m0.1-46h0m1.1 10.1h0m0 3.7h0m0 27.9h0m0.5-9.4h0m0.3-25.3h0m0 12h0m0.1 50.9h0m0.2-36.2h0m0.3 1.6h0m0 23.6h0m0.4 2.8h0m1-36.3h0m1-6.7h0m0.2-19.4h0m0.3 18.4h0m0.1-8.2h0m0.8 17.7h0m0.1 56h0m0.7-66.6h0m0.7 23.5h0m1.7-17.3h0m1.3 72.4h0m1-51.2h0m1.7-11.1h0m1.1 48.3h0m0.1-19h0m1.6-46.9h0m0 20.6h0m0.2 40.4h0m5.7-50.6h0m0.6-31.9h0m0.4 5.9h0m1 80.5h0m1.7-75.1h0m2.2 50.6h0m6.4-25.6h0m6.4-98.3h0m1.3-19.3h0m0.7 105.9h0m2.3-114.4h0m3.9 6.8h0m1.4 9.8h0m0.2-6.3h0m0.4 29h0m1.1-43.2h0m0.7 17.6h0m0.1-4h0m1.3 2.9h0m1.1 3.3h0m0.5 43.5h0m2.1-47.8h0m1.5 15.7h0m2.6 15.7h0m0.1-16h0m1.1 20.7h0m0 12.4h0m3.1-40.7h0m3.2 33.1h0m1.5-8.4h0m0.2-3.5h0m0.3 7.5h0m1.1 23h0m0.4-11.5h0m0.9-5.1h0m3.3-24h0m1.3 18.8h0m1.2 39h0m0.3-51.3h0m0.9 13h0m0.7 30h0m0.4-49.2h0m0.6-25.7h0m1.3 16.6h0m1.3 55.2h0m0.9-15.9h0m4.5 16.5h0m0.2-2.3h0m0.6-70.8h0m0 83.5h0m0.4-15.7h0m0.5 5h0m3-59.5h0m0.5 61.2h0m1.1 5.3h0m0.9 5.2h0m0.4-3.4h0m1.3-52.4h0m2.7 42.4h0m1.3-2.7h0m6.5 7.7h0m7.4-0.1h0m9 35.1h0"/><path d="M54.1 214.8h0m3-62.1h0m5.5-21.5h0m0.7-23.7h0m3.3 52.5h0m0.6-15.4h0m6.1 12.6h0m0.4 34.8h0m4.5-35.5h0m0 0.1h0m0.2 7.1h0m0.8-13.5h0m0.9 44.1h0m2.8-9.7h0m6.2-9.9h0m1.3-34.6h0m1.6 64.2h0m1.8-53.4h0m0.3 36h0m3.4-39.9h0m0.3 0.5h0m0.1 8.5h0m1.6 13.9h0m0.2-19.1h0m2 38.5h0m1.5-46.3h0m0.5-11.2h0m0.5 17.6h0m0.5 8.7h0m0.2-18.3h0m0.2 5.2h0m1.5 16.8h0m1.1-22.6h0m0.1 31.9h0m0.3-1.5h0m0.3-20h0m1.8 12.6h0m0.1-19.6h0m0.9 10.1h0m0.2 6.8h0m2.2 2.5h0m0 42.6h0m0.1-76.3h0m0 12.2h0m0 2.4h0m0.2 57.8h0m1.8-32.5h0m0.8-22.4h0m0.3 63.2h0m1-63.7h0m1.4 3.9h0m1.3-1h0m2.4 36.5h0m0.3-29.3h0m1 38.5h0m0.8 5.5h0m2.9 2.2h0m0.8-4.2h0m1 9.8h0m0.8-28h0m1.2 11.8h0m4.6-4.4h0m1.1 10.6h0m0.5-6.6h0m1.5 9.8h0m0.4-12.4h0m0.7 5.6h0m0.7-4.4h0m0 1.1h0m0.1-4.7h0m1.3 15.1h0m0.1-8.5h0m1.8 21.3h0m0.2-20.5h0m0.2-15.2h0m0.6-132.8h0m0.3 190.2h0m1.8-56.9h0m0.3 27.9h0m0.2-6.1h0m0.8-1.9h0m0.8-144.3h0m0.6 142.7h0m1.1 8.3h0m0.2-6.6h0m0.4-20.9h0m0.5-33.9h0m0.4 47.2h0m0.2 10.2h0m0.9-6.3h0m0.4-1.2h0m1 8.7h0m0.6-14.7h0m1.9-7.2h0m1.7 11.6h0m0.9-133.9h0m0.2 73h0m0.5 52.8h0m0.1 8.8h0m0.2-1.8h0m0.7-60.2h0m0.6 0.2h0m0.2 2.7h0m0.6-79.1h0m2.9 8.2h0m0.6 139.9h0m0.6-60h0m0.3 41.1h0m0.9-113.9h0m0.3 106.6h0m0.1-36.7h0m1.4 53.7h0m0.7-123.4h0m0 137.7h0m1.5-20.7h0m0.6 8.8h0m0.2-1.3h0m0.2 4h0m0.3-60.9h0m0.3 45.4h0m1.6-49.5h0m0.2 71.5h0m2.1-6.3h0m0.6 5.2h0m0.3 0.2h0m0.7-9.5h0m0.7-1.5h0m0.2 7.9h0m0.9 2.5h0m0.9 5.6h0m1.6-15.1h0m0.1 1.7h0m1.3-34.3h0m0 34.7h0m0.4 29h0m0.7-31.4h0m1.8 1h0m0.9 1.6h0m0 4.3h0m0 4.3h0m2.2 3.4h0m2.2-19.4h0m12.6-1.7h0m6.6 1.7h0m5.1-123.1h0m0.5 23.8h0m4.7-9.8h0m2.4-18.5h0m2.9 18.7h0m1 11.7h0m0.3-7.7h0m0.4 9.5h0m1.7-21.5h0m1.8-27.2h0m0.4 29.7h0m0.1-17.7h0m0.5 32.4h0m3-10.7h0m0.3 9.4h0m0.8-22.9h0m1.1 54.3h0m1.3-53h0m0.4 19h0m0.4-2.9h0m0 1.1h0m1.9-35.5h0m0.2 9.6h0m0.9 17.6h0m0.9-0.6h0m0 14.1h0m1.8-14.6h0m0.5-13.2h0m0.8-0.9h0m0.5 12.6h0m0.2 18.7h0m0.6-7.2h0m0.2 55.3h0m0.9-14.6h0m0.1 14.5h0m2.9-44.7h0m0.9 37.5h0m0.4 2.2h0m0.1 16.9h0m3.5-79.5h0m1.2 66.1h0m0.6-3.3h0m0.9-8.1h0m0.4 6.7h0m0.5 7.3h0m1-2.5h0m0.4-12.2h0m0 21.2h0m1.3 2.1h0m0.5-26.1h0m0.1 11.5h0m1.2 9.3h0m1.4 1.3h0m0.1-1.9h0m1-67.3h0m1.1-20.6h0m0.6 20.9h0m0.4 60h0m0.4-19.9h0m1.6 29.6h0m1.1-28.2h0m1.7 5.1h0m0.1-62.3h0m0.1 88.8h0m1-8h0m0.6-13.4h0m2 14.6h0m0.1 1.9h0m0.4-73.4h0m0.5-12.1h0m1.6 86h0m0.3-11.5h0m0.5 16.5h0m1.7-74.2h0m5.4 59.9h0m0.2-3.5h0m5-0.1h0m4.6-64.3h0m17.8 134.3h0m135.4-49.9h0m1.6 7h0m7.3-6.6h0m3.2 9.9h0m0.1-4h0m0.9 3.3h0m4.6-20.4h0m5 12h0m2.8 7h0m1.4-11.5h0m1 3.2h0m4.8 2.1h0m5.9-43h0m1.8 91h0m0.4-25h0m0.2-6.4h0m2.1 26.7h0m0.2-24.6h0m1-7h0m1 0.1h0m0.8 45.2h0m0.5-36.5h0m0 7.7h0m1.2-32.8h0m1.9-2.1h0m0.3 73.8h0m0.1-48.5h0m0.3 9.8h0m1.6 12.9h0m1-14.9h0m0.7 12.1h0m0.2-26.1h0m0 10.8h0m0.7-5.1h0m0.2 19.7h0m0.2-25.5h0m0.5 36.8h0m0.4-8.3h0m1.1-44.4h0m0.7 11.5h0m0.1 1h0m2.1 27.7h0m0.2-20h0m0.4-18.5h0m0.3-4.1h0m0.4 21.6h0m1.4-2.3h0m0.2-12.7h0m1 23.6h0m0.2 4.7h0m0 22.1h0m1.8-43.4h0m1.5 20.3h0m0.3-7.9h0m2.1 23.1h0m0.2-39.7h0m0.9 11.4h0m0.4 3.9h0m0.4-7.8h0m0 26.1h0m0.1-36.3h0m0.5 37.8h0m1.5-16.6h0m0.2-16.1h0m0.6 21.2h0m0.6-7.6h0m0.9-31.6h0m0 14h0m0.8 5.6h0m0 47h0m0.3-74.2h0m0.6 81.3h0m0.6-5h0m0.3-65.1h0m0.2 27.8h0m0.4-17.4h0m0.2-6.9h0m0 26.7h0m0 8.6h0m0.5 26.1h0m0.4-62h0m0.1-3.7h0m0 28.7h0m2.1 4.6h0m0.8 11.5h0m0.3-31.8h0m0.5 66.5h0m0.5-44.7h0m0.1-23.9h0m0.1-9.8h0m0.3 13.6h0m0.1-5.8h0m1.6 15.5h0m2.4 1.1h0m0.6-3.4h0m0.3-17.9h0m1.3 4.3h0m0.4 4.1h0m1.1-23.2h0m0.2 46.7h0m0 25h0m0.2 0.7h0m0.8-23.6h0m1.3 5.9h0m2.3-30h0m0.9-21.9h0m0.4 18.2h0m0.7 6.4h0m1.6 50.7h0m2.6-67h0m0.8 0.1h0m1.8-10.6h0m18.2-86.2h0m0.3 5h0m1.2-3.5h0m0.8 5.4h0m1.9-2.1h0m2.3 1.2h0m0.8 2.3h0m1.5-4.6h0m0.8 41.5h0m0.9-28.6h0m4.8 20.3h0m3-26.9h0m0.2 49.2h0m1.9-8.8h0m4.2-17.6h0m0.1-39.2h0m0.1 47.7h0m0.1 0h0m0.3 39.7h0m0.3-98.5h0m0.3 34.2h0m1.5 13.9h0m2.2 46.5h0m0.3-34.7h0m0.7-37.2h0m0.7 72.4h0m1-42.3h0m0.1 0.5h0m2.3 1.3h0m1.1 33.1h0m2.7-5.9h0m0.4-36.7h0m1.2 58.9h0m0.3-62.6h0m0 32.7h0m1.6-35.6h0m0.8 20.1h0m0.7 34.1h0m1.4 43.2h0m0.3-98.7h0m0.2 46.2h0m1.5-21.4h0m2.3 35.4h0m1.1 5h0m0.8-16.6h0m0.2 5h0m0.5-9.3h0m1.3 12.6h0m7.9 11.3h0m2.2-27.8h0m0.9 16.5h0"/><path d="M53.6 112.7h0m0.8 31.1h0m0 41.9h0m3.2-11.5h0m2.3 10.4h0m1.3-22.7h0m3.5-38.6h0m0.8 32.3h0m2.6-5.4h0m4 5.6h0m3.1-12h0m0.7-0.1h0m1 63.9h0m9.8-60.3h0m0.5 58.1h0m3.2-53.3h0m1.2-16.9h0m4 51.3h0m0.6-40.9h0m0.7-14.6h0m0.2 16.3h0m2.4 3.9h0m0.1-8.3h0m0 48.2h0m0.3-45.6h0m0.5 49.3h0m0.2-39.6h0m0.3 7.7h0m0.4-14h0m1.4 2.1h0m0 19.1h0m0.1-13.5h0m0.3-0.8h0m1.9-0.1h0m1.7 19.1h0m0.1-17.4h0m0.5-9.1h0m0.1 5.9h0m1 6.6h0m0.6 46.5h0m0.4-47.6h0m0.1-3.9h0m0.4-3.5h0m2.6-8h0m1.4 7.5h0m0.9 15.2h0m0.8-14.2h0m3.8 24.7h0m0.7-26.7h0m1 47.1h0m0.5 3.6h0m2.5-32.8h0m3.3 19.1h0m0.1 21.5h0m3.3-33.8h0m1.3 23.2h0m1-23.6h0m0.5-27.8h0m0.9 76.6h0m0.9-61.9h0m1.1 29h0m1.1 19.4h0m0.7 2.6h0m0.6-67.3h0m0.8 42.2h0m0 5.3h0m0.6-148.3h0m1.1 138.3h0m0.1 28.3h0m0.1-26.8h0m0.2 4.1h0m0.5 14.9h0m1.8-25.5h0m0.1 22.3h0m0.1-3.7h0m0.9 6h0m0.4-9.3h0m0.3-146.7h0m0.4 150.1h0m0.7-165.8h0m0.4 123.3h0m0 41.3h0m0.1-3.4h0m0.2-3.3h0m0 9.6h0m0 4.5h0m0.6 1.4h0m1.8-12.2h0m0.6-5h0m0.4-35.8h0m0.3 38.5h0m0.5 8.3h0m0.4 4.4h0m0.1-147.8h0m0 145.7h0m0.5 9.7h0m0.2-12.6h0m1.2 11.6h0m0.9-15.9h0m0.9-142.6h0m0.3 6.5h0m0.6 133.5h0m0.7-138h0m3 7.6h0m0.2 128.5h0m1 19.3h0m0.3-9.8h0m0.3-4h0m0.1-12.9h0m0.2-122h0m0.7 79.1h0m1.3-2.4h0m0.3 58.5h0m0.5 11.1h0m0.3-6h0m0.1-143.3h0m0.3 1.3h0m0.6 125.6h0m0.3 0.3h0m0.2-14.4h0m0.2 27.1h0m1.5-33h0m0.8-17h0m1.6 48.8h0m3.4-113.3h0m0.9-6.6h0m0.6 117.7h0m0.2 13.3h0m0.1 1.7h0m1.1-14.9h0m3.4 2.5h0m0 4.8h0m0.9 2h0m0.5-8.2h0m0.2 7.4h0m1.9-3.7h0m0.2-18.5h0m2.3 5.6h0m0.5 10.4h0m1.5 4.8h0m2.1 0.2h0m0.4-4.6h0m3.2-3.6h0m1.4 4.6h0m4-102.1h0m11.7-11.5h0m3.4 93.3h0m6.3-111.7h0m0.3 82h0m0.2-72.4h0m8.8 4.1h0m0.9-15.6h0m0.8-6.4h0m0.2-4.7h0m3-2.3h0m0.8 5.7h0m0.8 1.5h0m1.2 33.6h0m0.3 50.5h0m0.9-49.1h0m2.1-38h0m3.5 31.6h0m0.6-17h0m0.2-16.9h0m0.2 4.8h0m0 83.9h0m0.6-101.6h0m1 28h0m0.5-3.7h0m0.4 8.1h0m0.7 66.6h0m0.5-104.8h0m0.2 91.9h0m0.1 8.8h0m0.4-44.8h0m2.5 53h0m0.4-13.6h0m0.8-6.5h0m0.3-64.6h0m0.3 30.9h0m1.6 41.9h0m0.1-7.9h0m0.1 22.4h0m0.6-92.3h0m0.8-13.6h0m1.7 100.2h0m0.4-5.5h0m0.1-61.2h0m0.7 18.2h0m0.3 57.2h0m0 3.5h0m0.3 1.6h0m0.1-26.9h0m0.9-12.2h0m0.8 24.4h0m0.3 17.5h0m0.9-10.1h0m1.5-17.1h0m0.2-52.7h0m0.7 54.2h0m0.4 12.2h0m1.2 9.8h0m1.6-21.5h0m1.2 3.2h0m0.6 15.4h0m1-3.5h0m0.3-22.8h0m0.9 12.4h0m0.6 14.9h0m1.6-20.6h0m1.1-17h0m1.8 30.1h0m1.3-6.8h0m0.3-89.9h0m0.9 87.9h0m4.7-22.2h0m1.8 14.5h0m18.5-79.7h0m2.4 17.7h0m144.6 82.3h0m1.6 0.5h0m2.5-0.3h0m5.3 11.2h0m1.7 0.3h0m0 4.3h0m3.2-12.9h0m1 40.1h0m2.4-43.7h0m2.4 8.9h0m3.4 4.2h0m0.6-5.6h0m0.5 23.4h0m0.4-13.5h0m5.2 3.5h0m1.1 13.8h0m3.9-6.1h0m0.5-9.9h0m4.5 11.6h0m0.3 13.7h0m0.5-33.1h0m0.2 15.6h0m0.4 3.8h0m0.2-0.8h0m0.1-21.9h0m4.8 23.3h0m2.4-5.8h0m0.1 5.6h0m0.3 49.7h0m0.1-57.2h0m0.1-29.3h0m0.6 33.2h0m1.7-25.2h0m0 39.5h0m0.3-12.9h0m0.9 7.3h0m0.2-19h0m1.2-30.8h0m0.9 49h0m0.3 29.5h0m0.2-41.6h0m0.7 17.5h0m1.2-13.3h0m0.4-24.8h0m0.8 29.5h0m0.4-12.8h0m0.8-27.3h0m0.3 43.9h0m0.1-12.3h0m0.2-14.2h0m0.8-6h0m4.4 57.7h0m0.1-20.8h0m0.5-1.9h0m0.9-22.2h0m0 11.4h0m0.1-2.1h0m0.1-7h0m0.3-15.6h0m0.1-4.8h0m0.5 67.3h0m0 1.8h0m1.3-29.5h0m0.7-2.7h0m1.7-10.9h0m0.5 55.9h0m0.9-46.8h0m0.3-41.3h0m0.1 60.2h0m0.6 12.7h0m1.1-48.6h0m0.1 6h0m1.5-19.4h0m0.3 10.5h0m0.7-1.6h0m0 13.9h0m0.5-9h0m0.6-5.1h0m0.4 10.6h0m1.1-5.6h0m0.6-2.9h0m0.3-8.7h0m0.2 16.4h0m2.6 50.2h0m0.4-54.7h0m0.2-0.4h0m0 8.6h0m0.1-24.4h0m2.2 59.8h0m0.1-36.8h0m0.2-17h0m0.7 35.3h0m1-24.8h0m1.5-3.5h0m0.4-18.8h0m0.2 78.3h0m0.2-3.3h0m0.6-20.8h0m1.3 25.1h0m0.4-50.9h0m0.5 29h0m1.1 8.8h0m1.8-55.1h0m0.7 12.3h0m0.3-0.2h0m3-9.5h0m2 8.2h0m4.6 22.2h0m6.5-42.9h0m6.9-16.6h0m1.3-72.3h0m0.3-2h0m4.6 22.1h0m1.9-15.2h0m2.1-31.1h0m5.9 32h0m2.5 80h0m0.2-48.4h0m0.7-3.7h0m1.2-3.9h0m0.5 106.3h0m0.6-112.1h0m1.3-6.7h0m0.7 24.4h0m2.5-34.6h0m1.1 15.3h0m0.2-3.3h0m0.4 53.4h0m0.2-61h0m0.9 11.9h0m1.6-14.6h0m0.3 18.6h0m0.1 23.5h0m0.1 20.8h0m1.3-45.6h0m2.2 5h0m0.3 33h0m0.5 0.6h0m0.5-12.7h0m0.8-11.9h0m0.1-38.5h0m1.3 38.6h0m1.2-9h0m2-34.9h0m0.8 66.2h0m0.1-58.1h0m0.7 34.7h0m0.4 41.8h0m2.1-10.3h0m2.1-10.2h0m0.1 5.5h0m1.1 7.9h0m1.2-5h0m0.1 6h0m0.3-13h0m0.3 14.3h0m1.3-14.4h0m0.6 19.7h0m1.7-12.5h0m7.8-0.4h0m0.8 9.7h0m1.3-5.3h0m0.1-15.3h0m0.8 10.3h0m5.1-8.4h0m1.7-53.7h0m1.3 45.2h0"/><path d="M56.4 150h0m9.1 1.6h0m0.9-19.3h0m3.2-51.6h0m6.3 90.1h0m1 16.5h0m2.3-33.3h0m0.2-9.1h0m0.6 11.9h0m0.6-8.7h0m7.2 4h0m1.6 8.1h0m0.1 4.2h0m2.3 12.3h0m0.8-36.5h0m3 16.7h0m0.4 7.2h0m0.1 55.6h0m0.3-69.7h0m0.5-10.9h0m1.3-7.7h0m2.1 8.5h0m2.3 14.7h0m1.1 0.5h0m1.8 8h0m0 4h0m1.1-15.5h0m0.1-5.2h0m0 34.2h0m2.1-21.3h0m0.1-14.6h0m0 2.3h0m0.3 64.9h0m0.2-59.7h0m0.1 3.6h0m1-7.4h0m0.8 14.8h0m1.8 36.4h0m0.1-66.7h0m0.8 24.4h0m5.4 11h0m1-19h0m3.3 41.4h0m0.7-46.5h0m2.4 43.3h0m0.4 3.9h0m0.7 17.3h0m0.9-1.9h0m1.5-3.2h0m2.1 2.3h0m1.2-10.7h0m0.6-6.4h0m1 2.9h0m0.7-28.7h0m1.2 28.9h0m0.8 8.8h0m1.3-21.5h0m1.2 22.5h0m0.4-17.4h0m0.5 10.4h0m0.1 22.9h0m0.3-39.3h0m0.3 22.3h0m0.3-32.6h0m0.2 36h0m0.6-23.3h0m0.1-18h0m0.6 27.1h0m0.3 8.6h0m1.5-2.1h0m0.1-10.5h0m1-13.4h0m0.6-127h0m0.1 144.6h0m0.7-15.4h0m0 32.2h0m0.6 3.9h0m0.2-23.3h0m1-134.7h0m0 141.2h0m0.8-22.2h0m0.1 15.6h0m1.1 11.1h0m0 19.7h0m0.7-14.4h0m0 5h0m0.8-2.9h0m0.5 7.5h0m0.1-59.5h0m0.2 37.2h0m0.9 3.8h0m1.2-64.2h0m0.8 61.3h0m0.3 0.7h0m0.3-15.7h0m0.7-13.4h0m0.5 43.9h0m0.2-72.1h0m0.8 10.7h0m0.3 34.1h0m1.6-129h0m0.4 116h0m0.5-106.6h0m0.1 94h0m0.9 63h0m2.1-15.2h0m0.2-8.8h0m0.4-133.9h0m0 77.8h0m0.5 65.5h0m0.8-21.9h0m0.5-117.5h0m0 142h0m1.9 16.7h0m1.2-78.4h0m1.7-7.6h0m0.2 55.3h0m0.2 12.6h0m1.5-68.3h0m0.4 58.1h0m0.2 19.6h0m0.9-14.3h0m0.1 8.4h0m1.4 6.8h0m0.2-24.1h0m0.1 11h0m2.8-124.5h0m1 123h0m1.4-75.3h0m0.2 67.3h0m0.1 4.4h0m1.7-110.9h0m0.5 97.1h0m0 13.9h0m1.3-6.2h0m0.4 9h0m1.5-62h0m0.1 58.4h0m0.5-43.2h0m2.6 48.5h0m0.1-8.8h0m8.8 11.8h0m7.8-44.7h0m6.3-77.3h0m0.6-0.1h0m0.2 6.1h0m1.1 11.9h0m5.3-28h0m2.1 11h0m0.9-10.7h0m1.2 63h0m2.8-50.1h0m0.3-13.8h0m1.1-2.8h0m0.7-27.6h0m1 38.8h0m3.4-4.4h0m0.7 3.8h0m0.4-8.8h0m1.4 63.9h0m2-87.6h0m0.1 25h0m0.6 17.2h0m0.2-22.8h0m1.8 12.1h0m1.3-2.2h0m0.4-7.5h0m0 80.7h0m3.4-62.7h0m4.4-11.9h0m0.4-39.9h0m0.5 95.3h0m0.1-61.1h0m2 15.3h0m0.2-61.1h0m0.3 45.8h0m1.6 5.8h0m0.4-24h0m0.1 91.4h0m1.5-6h0m0.7-55.6h0m0.1 60.4h0m0.5 0h0m0.9-7.5h0m0.1-70.4h0m0.7-2.1h0m1.1 66.3h0m0.2-78.9h0m0.6 81.7h0m0.2 8.8h0m0.8-80.2h0m0 76.8h0m1-50.4h0m0.1 41.5h0m0.1-8.4h0m0.3 20h0m0.3-7.3h0m1.2 9.1h0m1.3-11.6h0m0.9 16.7h0m0.4-2.6h0m0.7-5.6h0m1.9-1.4h0m0.1-51.8h0m1.9 46.2h0m3.7-0.3h0m0.5-18.5h0m0.6-64.2h0m1.3 9.5h0m0.2 72.5h0m0.8-44.2h0m0.1-38.3h0m1.3 89.7h0m3.8-6.5h0m2.5-58.7h0m5.3-16h0m0.5 79.2h0m159.6 20.9h0m2.3-3.7h0m1.9 2.5h0m4.8 0.2h0m3.1 0.4h0m2.6 2.2h0m0.4 57.6h0m2.2-65.3h0m2.7 4.7h0m1.3-2.8h0m0.1 3.1h0m1.2 4.7h0m2.6 5.3h0m2-14.7h0m7 19.4h0m2.9 5h0m0.1-27.3h0m2.3 15.8h0m0.8-57h0m0 67.8h0m2.4 0.4h0m2 6.5h0m0.5 2.4h0m0.3 5.2h0m1.9 0.1h0m0.3-13.3h0m0.9 28.5h0m3-13.6h0m1.1 3.6h0m2.5-26.9h0m1-12.4h0m0.5 20.1h0m0.2 11.9h0m0.5 12.8h0m0.4-42.7h0m0.8 1.7h0m0 38.2h0m0.3-34.1h0m0.2 9.9h0m0.9 15.3h0m1.9-11.2h0m0.2-31.7h0m0.6 21.9h0m0.1 21.9h0m0.4-17.8h0m1.2-3.8h0m1.4 5.8h0m0.2 37.3h0m1.4-36.5h0m0.1-8.2h0m0.2-0.6h0m1 6.6h0m0 53h0m0.5-70.7h0m0.6 35.4h0m0.4-24.2h0m0.2 2.1h0m0.2-5.1h0m0.1 9.7h0m0.1-11.8h0m0.5-15.6h0m0.2 84.7h0m0.1-83.8h0m0.5 22h0m0 29.5h0m0.9-33.7h0m0 17.7h0m0.2 7.8h0m0.5-31.1h0m0.1 81.3h0m0.3-52.1h0m0.2-10.3h0m0.1-8.8h0m0.7-23.6h0m0.8 13.7h0m0.2-11h0m0.7 12.2h0m0.2 40.6h0m0.2 15.4h0m0.6-57.9h0m0 36.6h0m0.3-22h0m0.3-19.9h0m0.5 79.5h0m0.5-50.4h0m0.2 30.5h0m0.3-63.1h0m0.2 8.8h0m0.5 28.2h0m1.5-14.5h0m0 34.8h0m1 2.2h0m1.3-27.2h0m0.2 39h0m0.7-50h0m0.2 26.8h0m0.8-39.5h0m0 20.7h0m0.6-7.9h0m0.1-13.4h0m0.8-0.4h0m0.3 4.8h0m0.3-4h0m3.5 39.4h0m3.1-37.9h0m0 77.3h0m0.8-25.4h0m1.6-57.4h0m1.6-0.5h0m3.5 63.5h0m2-73.3h0m4.7-1.3h0m0.3 5.1h0m14.6-84.6h0m2-2.4h0m1.1-0.9h0m0.2 23.4h0m0.7-25h0m1.5 23.9h0m1.1 54.5h0m1-56.9h0m5.3 11.2h0m0.6-5.4h0m3.1 4.5h0m2 9.6h0m0.5-18.5h0m1-7.2h0m0.5 5.8h0m1.3-41.9h0m0.4 81.5h0m0.5-38.8h0m0.4 13.5h0m0.7 11h0m0.2-31h0m0 21h0m0 20.7h0m0.4-28h0m3.7-6.2h0m0.2 110h0m0.2-102.9h0m0.1 18.4h0m0.4-50.1h0m0.1-4.3h0m0 20.8h0m0.4 26.8h0m1.1-82.3h0m1.6 113.3h0m1-6.4h0m0.9-36.2h0m0.8-6.4h0m0.8 7.3h0m1.3 6h0m0.2-37.2h0m2.4 82.6h0m2.9-17.8h0m0.5-0.8h0m5.1-2.4h0m1.9 2.7h0m0.3-1.8h0m0.1-2.1h0m0.3-9.7h0m0.5 10.8h0m1.7-5.6h0m2.1 28.2h0m1.7-12.1h0m0.2-19.1h0m5.5 10.2h0m2.7 3.9h0m6.4-78.3h0"/><path d="M60.4 132.2h0m8.3 20.9h0m1.6 97.7h0m0.2-112.3h0m2.7 11.8h0m6.1-12.9h0m1.5 38.9h0m0.2-29.2h0m0.8-1.1h0m0.6 0.2h0m6.7 1.4h0m1-10.3h0m4 57.4h0m1.7-50.9h0m1.3-11.6h0m0 21.5h0m2.9 23.1h0m1.8-23.4h0m2.7 1.4h0m0.7-7.1h0m0.2 10.5h0m0 10.6h0m0.5 17.2h0m0.8-44.6h0m0.3 9.7h0m0.3 9.4h0m0.5-14h0m0.2 16.1h0m3.7 17.3h0m0.9-36.5h0m0.3 4.7h0m3.9 9.9h0m3.3 7.3h0m1.9 14.1h0m1.4-44h0m3 92.9h0m2.2-41.8h0m0.8-14h0m0.7-6.6h0m0.4 11.7h0m1.3 19.1h0m1.5 16.1h0m0.3-7.8h0m0 4.8h0m1-15.7h0m1.7 9.5h0m1.5 4.6h0m0 7.8h0m1.4-36.8h0m1.6 19.1h0m0.6-4h0m0.3 0h0m0.3 6.7h0m0.3 21.4h0m0.4-36.1h0m0.7 13.8h0m0.1-0.7h0m0.2-161.5h0m0.9 159.8h0m0.7-5.7h0m0.7-12.2h0m0.5 4.2h0m0.1-134.9h0m0.2 151.9h0m0.3-12.2h0m0.2-134.2h0m0.5 148.6h0m0.3-25.2h0m0.4-130.2h0m1.5 141.6h0m0.7-72.4h0m0.1 71.3h0m0.1 1h0m0.3 15.6h0m0.6-2.8h0m0.3 12.3h0m0.4-102.3h0m0 53.6h0m0.3 36.3h0m0.2-12.5h0m0 0.2h0m0.4 5.8h0m0.6-64.8h0m0.2 69.6h0m0.6-13.5h0m0.9-12h0m0 27.4h0m0.5-16.6h0m0.2-1h0m0.3-5.9h0m0.6-133.8h0m0.1 92.7h0m0.9-57.8h0m1.6 53.1h0m0.6 27.2h0m0.5 23.4h0m0.2-117.6h0m0.5 72.7h0m2.7 47.6h0m0.4-131.7h0m0 78.4h0m0.3 8.7h0m0.8-6h0m0.2-68.3h0m0 68.5h0m0.4 29.3h0m0.3 43.6h0m0.2-10.1h0m1.6-7.5h0m0 21.6h0m0.2-26.8h0m0.7-121.4h0m0 74.9h0m0.6 67.3h0m1-41.6h0m0.6 41.4h0m0.8-76.5h0m0.4-54.2h0m1.7 118.9h0m0 4.1h0m0.2-120.2h0m0.4 116.2h0m0.7-2.2h0m0.3-8.2h0m1.3-2.6h0m4 24.8h0m3.2-6.6h0m0.5 4.6h0m0.4-18.3h0m2.5 21.4h0m2.4-7.3h0m0.8-6.7h0m3.4-2.3h0m11.5-98.4h0m7.4-18.5h0m1.8 9.2h0m7.5 0.2h0m0.2-11.8h0m0.4 13.5h0m0.9 4.4h0m0.1-3h0m0.6-11.8h0m1.3 11.1h0m1.7-2.4h0m0.7-3.6h0m1.6 11.4h0m5.2 56.7h0m0.3-86.6h0m0.9 4.8h0m0 1.3h0m0.5 26h0m0.1-9.8h0m1.2-22.5h0m0.1 60.2h0m1.6-55.7h0m0.6 3.9h0m1 16h0m0.6-12.2h0m0.6 61h0m0.4-58.6h0m0.2 50.8h0m1.5-51.5h0m0.1-0.1h0m0.8 12.2h0m2.3 56.5h0m0.2-68.5h0m0.5-9.3h0m0 29.9h0m0.4-16.3h0m1.6-50.7h0m0 53.7h0m0.4-21.1h0m0.3 30.2h0m0.5-18.1h0m0.3-19.4h0m0.3 8.1h0m0.1 59.1h0m3.1-67h0m1 20h0m0.1 44.2h0m2.2 26.9h0m1.3-77.1h0m1.2 87.8h0m0.8 5.9h0m0.6-26h0m1.3 14h0m0.9-7.1h0m0.5-80.1h0m1.7 94.9h0m2-23.2h0m0.5-12.8h0m1.6-52.9h0m0.4 78.1h0m0.9-1.4h0m0.1 7.8h0m1.9-102.3h0m1.9 108.3h0m0.8-31.2h0m2.1-9.2h0m2.9-70.1h0m1.9 70h0m0.6 11.7h0m0.2-48h0m1.7-9.7h0m1.3 59h0m4.5-56.2h0m27.8-11h0m123.4 84.7h0m2.6 63.6h0m6-63.2h0m2.1 1.1h0m4.5 3.2h0m4.4 5.4h0m0.1-0.7h0m4.1-3.8h0m0.9-2.2h0m0.6-10.4h0m0 15.7h0m1.4-5.1h0m12 9.7h0m0.8-17.2h0m5.5 6.5h0m2.9 42h0m0.5-16.9h0m2.7-27.1h0m2.2-25.5h0m0.1 54.2h0m0.9 22.3h0m4-24.6h0m1.7 0.1h0m0.3-15.7h0m2-14.2h0m0 23.8h0m0.3-1h0m0.3-6h0m0.6 6.2h0m1.4 27.1h0m1.2-31.9h0m0 35.9h0m0.5-44h0m0.3-19.2h0m0 48.8h0m0.3-21.9h0m0.2 7.7h0m2 65.8h0m0.1-59.9h0m1.6 7.5h0m0.1-2.6h0m0.1 25.6h0m0.1-59.1h0m0.2 7.6h0m0.1 4.3h0m0.6-2.8h0m0.3 31h0m0.1-33.8h0m0.5 52.1h0m1-35.8h0m0 4.4h0m0.4 1.9h0m0.2-34.7h0m0.1 12.6h0m2.1-11.5h0m0 18.6h0m0.2-2.8h0m0 2h0m0 2.9h0m0.3-10.8h0m0.5-1.6h0m3 62h0m2-31.7h0m0.5-5h0m0.3-46.5h0m0.3 28.6h0m0.2 56.7h0m1.6-6.8h0m0.9-45.1h0m0.2 40.5h0m0.1-54.5h0m0.2 11.2h0m0.3 6.2h0m0.2-10.1h0m0 27.7h0m0.4-10.8h0m0.1 24h0m0.7 29.3h0m0.1-59.6h0m0.5 23.2h0m0 22.5h0m0.1-62.2h0m0.4 53.7h0m1-33.2h0m0.4-24.7h0m0.3 20.2h0m0.1-21.9h0m0.4 10.1h0m1.3-15.1h0m0 19.4h0m1 44.3h0m0.2 12.5h0m0.3-49.4h0m0.6-16.1h0m2.3 69.3h0m0.3-28.2h0m1.1-34.5h0m0.1 32.7h0m1.2-29.4h0m0.1-4.6h0m0 77.6h0m1-30.4h0m1.1 14.4h0m0.6 17h0m0.1-74.2h0m0.8 54.4h0m1-75.8h0m1.9 19.8h0m1.4-14.4h0m0.8 13.6h0m0.6 40.2h0m0.9 2.6h0m2.3-16.9h0m1.4-39h0m3.5 33.9h0m11.4-13.8h0m1.7-106.9h0m1-4.5h0m6.4-7.6h0m2-9h0m2.4 9.3h0m0.1 14.9h0m2.5 1.4h0m1.5-15.6h0m0.2 42.3h0m2.4-38h0m0.1-5.6h0m0.5 23.7h0m0 27.6h0m0.5-50.5h0m4.9 55.3h0m0.7-20.3h0m0 5.7h0m1.2-3.6h0m0.2-6.4h0m0 7.6h0m1.9-1.1h0m0.7-20.1h0m0.9-23.8h0m0.3 65.8h0m0.6-11.5h0m1.4-21.4h0m0.3 21.2h0m0.6-10.7h0m0.9 5.6h0m0 18h0m0.2 21.6h0m0.4-32.9h0m1 4.4h0m1-8.4h0m0.8 30h0m1-36.3h0m0.6 53.2h0m0.4-48.8h0m0.3-18.5h0m0.2-36.4h0m0.6 79.7h0m1.7-10.1h0m0.6 3.5h0m0.5-18.9h0m1.7 46.8h0m0.2-33h0m1.1 31.2h0m0.4-42.3h0m1.3 21.6h0m0 9.2h0m2-12.8h0m0.3-11.9h0m1.7 11.4h0m2.5 5.2h0m0.1 14h0m8.7 1.3h0m1.3-9.4h0m3.7-2.1h0m0.9 8.1h0m2.5-12.4h0m0.5 10.3h0m3.7-0.2h0m5.5-10h0"/><path d="M56.8 174.1h0m13.7-0.1h0m1.4 10.9h0m2.8-31.3h0m3.1 15.1h0m0.6-23.9h0m6.1-4.3h0m2.6 79.8h0m0.2-48.6h0m1-12.4h0m5.3-9.9h0m1.7 0.9h0m2.6 31.1h0m4.8-23.9h0m0.6 36.6h0m0.3-44.1h0m2.5 6.5h0m1.3 18.9h0m4.9-26.4h0m0.9-8.3h0m0.1 39.9h0m0.9-32.1h0m0.6 5.6h0m0.7 2.5h0m0.3-7.2h0m0 36.9h0m1.8 12.6h0m0.3-57.7h0m0.9 49.8h0m0 23h0m3.6-55.5h0m0.7-11.4h0m0.8 39.1h0m0.5 28h0m0.5-22.9h0m0.3 6.2h0m0.1 7.9h0m0.4-38.7h0m0.7 25.1h0m0.8-32.2h0m0.6 30h0m0.5-53.8h0m0.6 52.9h0m1-26h0m0.5 27.8h0m0.7-14h0m0.1 16h0m2.7 35.3h0m0.7-38.8h0m0.4-3.2h0m0.6-7.7h0m1.1 12.9h0m0.2-7h0m0.1-15.6h0m0.2-35.8h0m0.6-89.3h0m0 144.9h0m0.8-3.3h0m0 2.3h0m0.1-5.1h0m2.1 6.8h0m0.2-2.8h0m0.8 5.3h0m0.6-18.4h0m1.2 15.8h0m0.3 17.9h0m2.2-17.4h0m1.5-135.1h0m1.1-8.2h0m0.9 156h0m0.5-6.5h0m1.3-42.6h0m1.6 20.9h0m0.3-125.6h0m0.6 145.2h0m1.2-18.5h0m0 17.6h0m0.7 2.1h0m0.1-29.3h0m0.2 27.9h0m0.4-4.6h0m2.9-128.1h0m0.7 77.5h0m0.1 71.5h0m0.4-35h0m1.9 15h0m0.2 11.2h0m0.4-4.7h0m0.1-57.2h0m0.2 6.1h0m0 35.9h0m0 26.4h0m0.5-62.2h0m0.4-85.2h0m0.2 109.3h0m0 5.3h0m1.1-24.7h0m1.4 40.7h0m0.2 0.4h0m0.3-117.1h0m0.5 72h0m0.7 9.1h0m0.3-106h0m1.1 124h0m0.3 4.3h0m0.1-29.8h0m0.1 41.9h0m0.4-50h0m0.3-66.5h0m1.2 112.1h0m0.1-110.5h0m0.4 61h0m0.2-58.4h0m0.5 5.8h0m0.5 65.2h0m0.6-66.8h0m0 109.6h0m0.1 8.1h0m2.1-4.2h0m0.1 9.5h0m0.1-5.9h0m1.1-7.5h0m1.5-48.7h0m0 43.7h0m0 6.6h0m2 22.5h0m0.5-3.2h0m0.1-9.9h0m0.7-6.9h0m0.4-113.3h0m1.1 123.3h0m0.9-53.4h0m1 57.1h0m0.6-15.7h0m3.4 10.4h0m1.6 1.1h0m0.1-7.7h0m6.8 3.9h0m2.7 3.3h0m2.5-45.4h0m1.9 11.9h0m0.4-74.6h0m3 68.8h0m3.9-114.7h0m2.2 31.5h0m1.3 21.5h0m0.9-40.2h0m4.1 12.4h0m0.3 132.2h0m4.7-127.2h0m0.4-31h0m0.9-14.6h0m1.1 41.5h0m0.2 0.8h0m0.2-3.4h0m0.4 77.1h0m1.2-48.8h0m0.3-14.8h0m0.7-22.1h0m0.6 6.5h0m0.1 17.8h0m1.4-6.5h0m0.2-14.4h0m0.9 19.6h0m0.4-13.7h0m0.8-1.5h0m0.3-7.3h0m1.6 14.6h0m0.5-1.5h0m0.8-12.9h0m3-34.2h0m0.5 44.5h0m0.4-5.1h0m0.7 8.5h0m0.3-31.5h0m1.4 43.7h0m0.3-14.1h0m0.2-29.5h0m0.8 25.3h0m0.1 68.8h0m0.1-48h0m1-13.3h0m0.2 55.5h0m0.2-83h0m0.2 31.1h0m1.7 48.5h0m1.5 6.2h0m4.8-69.1h0m0.7 71.4h0m0.4-57h0m0.1-16.7h0m3.1-7.2h0m0.9 9.7h0m0.2 71.3h0m0.2-54h0m0.1-6.6h0m1.5 49.1h0m1.1-9.7h0m0.1 12h0m0.3-4.3h0m0.8 13.7h0m1-5.9h0m0.9-61h0m0.3 47.8h0m1.3 23.1h0m1.4 3.2h0m0.8-15.9h0m0.2 2.9h0m0 4.3h0m1.4-12.4h0m1.5-75.3h0m0 83.7h0m1.5-82.1h0m0.7 78.4h0m1.6-89.7h0m0.8 90.5h0m4.3-0.2h0m1.7-82.4h0m2.1 75.9h0m3.3 5.8h0m0.1 11.2h0m0.4-8.6h0m0.9 10h0m5-107.8h0m2.9 90.5h0m2.5-87.1h0m0.8 48h0m3.4-27.8h0m6.2 5.7h0m4.7-15.7h0m135.9 91.4h0m0 12.7h0m0.5-2.2h0m4.9 0.3h0m2.2 40.5h0m3.8-32.9h0m4.2 4.2h0m0.5-22.6h0m5.1 10.8h0m0.5 3.2h0m1.2 7.1h0m1.1-18.6h0m0.8 82h0m1.9-76.7h0m4-5.3h0m0.1 33.1h0m0.3-43.2h0m1 13.6h0m0 5.6h0m0.2 15.5h0m2.2-12.4h0m0.4 21.3h0m5.9 3.8h0m5.4-29h0m0.5 25h0m2.7-37.5h0m0.3 26.4h0m0.3 11h0m2.4-10.3h0m0.8 17h0m0.3-18h0m0.4 1.7h0m2 42.4h0m4.3-30.4h0m0.3-7h0m0.4-11.5h0m1.2 11.3h0m0.3 7.4h0m0 2.8h0m1.5-13.8h0m0.3-1.1h0m0.2-1h0m0.5-19.7h0m0.1 13.8h0m0.4 9h0m0.1-5h0m0.2 8.9h0m0.9 1.9h0m0.3-4.8h0m0.1-9.1h0m0.4 1.6h0m0.3 25.7h0m1.4-24.3h0m0.1 13.1h0m0.1-20.3h0m1.1-1.2h0m0 37.2h0m0.9-32h0m0.4 5.1h0m0.2-26.9h0m0.4 26.8h0m0.1 17.8h0m0.2 15.8h0m0.8 0.8h0m0.4-51.6h0m0.6 9.7h0m0.4 62.7h0m0.6-71.6h0m0.1 5.4h0m0.2-6h0m0.9 60.6h0m0.1-41.8h0m0 79.9h0m0.8-94.7h0m1.2 65.6h0m1.3-50.3h0m2.9 2.9h0m0.5-16.4h0m0.1-1.4h0m0.2 69.2h0m0.3-11.5h0m0.6 13h0m0.2-65.9h0m0.1-15.7h0m2.9 26.5h0m0.5 0.3h0m0.8-28.3h0m0.2 5.7h0m0.1 31.7h0m0.7-15.4h0m1.4 46.9h0m0.4 19.6h0m0.5-50.3h0m1.8-8.1h0m1.4-6.3h0m2-10.7h0m2.3-114h0m0.6 133.5h0m5.7-26.4h0m8.6-84.1h0m1.5 103.8h0m6.2-119.4h0m3 1.3h0m1.8 5.5h0m2.3-3.4h0m0.2-2.3h0m0.7 51.2h0m1.2-54.1h0m0.8 57.6h0m0.6-48.3h0m3.9 40.5h0m2.6 1.3h0m2.4-9.1h0m0.1 5.8h0m0 127.3h0m1-147h0m1 16.2h0m0.1-10.1h0m4.1-7.7h0m2.8-11.1h0m0.2 28.4h0m0.2-19.5h0m0.1 35.4h0m0.3-73.9h0m0.6 47.7h0m0.3 20.1h0m1.3 16.4h0m1.5-37.4h0m0.4 10.6h0m0.6 4.4h0m1-18.3h0m1 15.1h0m0.9-70.3h0m1.1 98h0m0.2-31.8h0m0.5 6.7h0m0.6-3.4h0m1.1-11.7h0m0.1 43.6h0m2.5 0.8h0m1.1-6.4h0m1.1 7.3h0m1.8-6.7h0m0.1-1.6h0m0.4 1.5h0m0.3-18.2h0m0.8-69.6h0m0.5 94.8h0m0.2-4h0m1.8-0.7h0m1.2 9.7h0m1.2-2.7h0m6.4-18h0m4.9 6h0m0 10.3h0m12.9-7.4h0"/></g>
<g clip-path="url(#cl)" fill="none" stroke="#858585" stroke-width="1.3" stroke-dasharray="4.6 4.4">
<ellipse cx="201.25" cy="130.15" rx="42.50" ry="35.24"/>
<ellipse cx="201.25" cy="130.15" rx="85.00" ry="70.48"/>
<ellipse cx="201.25" cy="130.15" rx="127.50" ry="105.72"/>
</g>
<text x="222.00" y="170.00" font-size="10.30" text-anchor="start" fill="#888" textLength="30.30" lengthAdjust="spacingAndGlyphs">100 pc</text>
<text x="260.30" y="190.20" font-size="10.30" text-anchor="start" fill="#888" textLength="30.30" lengthAdjust="spacingAndGlyphs">200 pc</text>
<text x="304.10" y="203.50" font-size="10.30" text-anchor="start" fill="#888" textLength="30.30" lengthAdjust="spacingAndGlyphs">300 pc</text>
<circle cx="171.7" cy="80.3" r="2.5" fill="#2f78bb"/>
<circle cx="239.4" cy="79.6" r="2.5" fill="#2f78bb"/>
<circle cx="201.3" cy="115.4" r="2.5" fill="#2f78bb"/>
<circle cx="198.8" cy="128.6" r="2.5" fill="#2f78bb"/>
<circle cx="122.5" cy="108.9" r="2.5" fill="#2f78bb"/>
<circle cx="117.7" cy="126.9" r="2.5" fill="#2f78bb"/>
<circle cx="137.1" cy="131.0" r="2.5" fill="#2f78bb"/>
<circle cx="140.5" cy="148.4" r="2.5" fill="#2f78bb"/>
<circle cx="307.5" cy="114.8" r="2.5" fill="#2f78bb"/>
<circle cx="326.8" cy="126.5" r="2.5" fill="#2f78bb"/>
<circle cx="179.6" cy="86.9" r="2.5" fill="#e41a1c"/>
<circle cx="223.4" cy="70.8" r="2.5" fill="#e41a1c"/>
<circle cx="248.7" cy="84.4" r="2.5" fill="#e41a1c"/>
<circle cx="269.3" cy="131.7" r="2.5" fill="#e41a1c"/>
<circle cx="165.4" cy="137.9" r="2.5" fill="#e41a1c"/>
<circle cx="112.0" cy="148.4" r="2.5" fill="#e41a1c"/>
<circle cx="144.1" cy="192.5" r="2.5" fill="#e41a1c"/>
<circle cx="178.7" cy="196.0" r="2.5" fill="#e41a1c"/>
<g fill="#e41a1c" fill-opacity="0.18"><circle cx="170.8" cy="79.6" r="1.4"/><circle cx="171.2" cy="80.9" r="1.2"/><circle cx="170.5" cy="81.2" r="1.1"/></g>
<text x="175.50" y="75.60" font-size="4.66" text-anchor="start" fill="#1d3049" font-weight="bold" textLength="10.02" lengthAdjust="spacingAndGlyphs" stroke="#1d3049" stroke-width="0.32">PRA</text>
<text x="186.50" y="86.90" font-size="4.66" text-anchor="start" fill="#5e1b1f" font-weight="bold" textLength="13.55" lengthAdjust="spacingAndGlyphs" stroke="#5e1b1f" stroke-width="0.32">OH51</text>
<text x="219.60" y="68.70" font-size="4.66" text-anchor="end" fill="#5e1b1f" font-weight="bold" textLength="13.23" lengthAdjust="spacingAndGlyphs" stroke="#5e1b1f" stroke-width="0.32">RSG2</text>
<text x="243.00" y="76.20" font-size="4.66" text-anchor="start" fill="#1d3049" font-weight="bold" textLength="13.02" lengthAdjust="spacingAndGlyphs" stroke="#1d3049" stroke-width="0.32">APER</text>
<text x="252.20" y="94.50" font-size="4.66" text-anchor="start" fill="#5e1b1f" font-weight="bold" textLength="9.09" lengthAdjust="spacingAndGlyphs" stroke="#5e1b1f" stroke-width="0.32">PL3</text>
<text x="206.60" y="110.90" font-size="4.66" text-anchor="start" fill="#1d3049" font-weight="bold" textLength="9.85" lengthAdjust="spacingAndGlyphs" stroke="#1d3049" stroke-width="0.32">HYA</text>
<text x="128.00" y="109.20" font-size="4.66" text-anchor="start" fill="#1d3049" font-weight="bold" textLength="26.17" lengthAdjust="spacingAndGlyphs" stroke="#1d3049" stroke-width="0.32">NGC2451A</text>
<text x="110.90" y="132.60" font-size="4.66" text-anchor="end" fill="#1d3049" font-weight="bold" textLength="9.09" lengthAdjust="spacingAndGlyphs" stroke="#1d3049" stroke-width="0.32">PL9</text>
<text x="142.10" y="127.60" font-size="4.66" text-anchor="start" fill="#1d3049" font-weight="bold" textLength="17.11" lengthAdjust="spacingAndGlyphs" stroke="#1d3049" stroke-width="0.32">IC2391</text>
<text x="169.00" y="134.00" font-size="4.66" text-anchor="start" fill="#5e1b1f" font-weight="bold" textLength="10.04" lengthAdjust="spacingAndGlyphs" stroke="#5e1b1f" stroke-width="0.32">VCA</text>
<text x="112.00" y="156.60" font-size="4.66" text-anchor="end" fill="#5e1b1f" font-weight="bold" textLength="13.55" lengthAdjust="spacingAndGlyphs" stroke="#5e1b1f" stroke-width="0.32">OH23</text>
<text x="145.00" y="155.90" font-size="4.66" text-anchor="start" fill="#1d3049" font-weight="bold" textLength="17.11" lengthAdjust="spacingAndGlyphs" stroke="#1d3049" stroke-width="0.32">IC2602</text>
<text x="192.90" y="135.80" font-size="4.66" text-anchor="end" fill="#1d3049" font-weight="bold" textLength="12.98" lengthAdjust="spacingAndGlyphs" stroke="#1d3049" stroke-width="0.32">CBER</text>
<text x="271.40" y="128.80" font-size="4.66" text-anchor="start" fill="#5e1b1f" font-weight="bold" textLength="13.55" lengthAdjust="spacingAndGlyphs" stroke="#5e1b1f" stroke-width="0.32">OH59</text>
<text x="310.40" y="112.60" font-size="4.66" text-anchor="start" fill="#1d3049" font-weight="bold" textLength="22.22" lengthAdjust="spacingAndGlyphs" stroke="#1d3049" stroke-width="0.32">ASCC123</text>
<text x="321.90" y="135.60" font-size="4.66" text-anchor="end" fill="#1d3049" font-weight="bold" textLength="22.77" lengthAdjust="spacingAndGlyphs" stroke="#1d3049" stroke-width="0.32">NGC7092</text>
<text x="153.80" y="181.20" font-size="4.66" text-anchor="start" fill="#5e1b1f" font-weight="bold" textLength="19.39" lengthAdjust="spacingAndGlyphs" stroke="#5e1b1f" stroke-width="0.32">UPK612</text>
<text x="184.00" y="190.30" font-size="4.66" text-anchor="start" fill="#5e1b1f" font-weight="bold" textLength="15.44" lengthAdjust="spacingAndGlyphs" stroke="#5e1b1f" stroke-width="0.32">ALES9</text>
<path d="M197.05 130.65h8.4M201.55 126.35v8.6" stroke="#2a2a2a" stroke-width="1.35"/>
<rect x="52.5" y="6.8" width="297.50" height="247.00" fill="none" stroke="#000" stroke-width="1.25"/>
<path d="M56.75 253.8v-2.5M56.75 6.8v2.5M65.25 253.8v-2.5M65.25 6.8v2.5M73.75 253.8v-2.5M73.75 6.8v2.5M82.25 253.8v-2.5M82.25 6.8v2.5M90.75 253.8v-2.5M90.75 6.8v2.5M99.25 253.8v-2.5M99.25 6.8v2.5M107.75 253.8v-2.5M107.75 6.8v2.5M116.25 253.8v-2.5M116.25 6.8v2.5M124.75 253.8v-2.5M124.75 6.8v2.5M133.25 253.8v-2.5M133.25 6.8v2.5M141.75 253.8v-2.5M141.75 6.8v2.5M150.25 253.8v-2.5M150.25 6.8v2.5M158.75 253.8v-2.5M158.75 6.8v2.5M167.25 253.8v-2.5M167.25 6.8v2.5M175.75 253.8v-2.5M175.75 6.8v2.5M184.25 253.8v-2.5M184.25 6.8v2.5M192.75 253.8v-2.5M192.75 6.8v2.5M201.25 253.8v-2.5M201.25 6.8v2.5M209.75 253.8v-2.5M209.75 6.8v2.5M218.25 253.8v-2.5M218.25 6.8v2.5M226.75 253.8v-2.5M226.75 6.8v2.5M235.25 253.8v-2.5M235.25 6.8v2.5M243.75 253.8v-2.5M243.75 6.8v2.5M252.25 253.8v-2.5M252.25 6.8v2.5M260.75 253.8v-2.5M260.75 6.8v2.5M269.25 253.8v-2.5M269.25 6.8v2.5M277.75 253.8v-2.5M277.75 6.8v2.5M286.25 253.8v-2.5M286.25 6.8v2.5M294.75 253.8v-2.5M294.75 6.8v2.5M303.25 253.8v-2.5M303.25 6.8v2.5M311.75 253.8v-2.5M311.75 6.8v2.5M320.25 253.8v-2.5M320.25 6.8v2.5M328.75 253.8v-2.5M328.75 6.8v2.5M337.25 253.8v-2.5M337.25 6.8v2.5M345.75 253.8v-2.5M345.75 6.8v2.5M73.75 253.8v-4.5M73.75 6.8v4.5M116.25 253.8v-4.5M116.25 6.8v4.5M158.75 253.8v-4.5M158.75 6.8v4.5M201.25 253.8v-4.5M201.25 6.8v4.5M243.75 253.8v-4.5M243.75 6.8v4.5M286.25 253.8v-4.5M286.25 6.8v4.5M328.75 253.8v-4.5M328.75 6.8v4.5M52.5 10.33h2.5M350.0 10.33h-2.5M52.5 17.38h2.5M350.0 17.38h-2.5M52.5 24.43h2.5M350.0 24.43h-2.5M52.5 31.48h2.5M350.0 31.48h-2.5M52.5 38.53h2.5M350.0 38.53h-2.5M52.5 45.57h2.5M350.0 45.57h-2.5M52.5 52.62h2.5M350.0 52.62h-2.5M52.5 59.67h2.5M350.0 59.67h-2.5M52.5 66.72h2.5M350.0 66.72h-2.5M52.5 73.77h2.5M350.0 73.77h-2.5M52.5 80.81h2.5M350.0 80.81h-2.5M52.5 87.86h2.5M350.0 87.86h-2.5M52.5 94.91h2.5M350.0 94.91h-2.5M52.5 101.96h2.5M350.0 101.96h-2.5M52.5 109.01h2.5M350.0 109.01h-2.5M52.5 116.05h2.5M350.0 116.05h-2.5M52.5 123.10h2.5M350.0 123.10h-2.5M52.5 130.15h2.5M350.0 130.15h-2.5M52.5 137.20h2.5M350.0 137.20h-2.5M52.5 144.25h2.5M350.0 144.25h-2.5M52.5 151.29h2.5M350.0 151.29h-2.5M52.5 158.34h2.5M350.0 158.34h-2.5M52.5 165.39h2.5M350.0 165.39h-2.5M52.5 172.44h2.5M350.0 172.44h-2.5M52.5 179.49h2.5M350.0 179.49h-2.5M52.5 186.53h2.5M350.0 186.53h-2.5M52.5 193.58h2.5M350.0 193.58h-2.5M52.5 200.63h2.5M350.0 200.63h-2.5M52.5 207.68h2.5M350.0 207.68h-2.5M52.5 214.73h2.5M350.0 214.73h-2.5M52.5 221.77h2.5M350.0 221.77h-2.5M52.5 228.82h2.5M350.0 228.82h-2.5M52.5 235.87h2.5M350.0 235.87h-2.5M52.5 242.92h2.5M350.0 242.92h-2.5M52.5 249.97h2.5M350.0 249.97h-2.5M52.5 24.43h4.5M350.0 24.43h-4.5M52.5 59.67h4.5M350.0 59.67h-4.5M52.5 94.91h4.5M350.0 94.91h-4.5M52.5 130.15h4.5M350.0 130.15h-4.5M52.5 165.39h4.5M350.0 165.39h-4.5M52.5 200.63h4.5M350.0 200.63h-4.5M52.5 235.87h4.5M350.0 235.87h-4.5" stroke="#000" stroke-width="1" fill="none"/>
<text x="73.75" y="266.60" font-size="12.30" text-anchor="middle" fill="#000" textLength="26.33" lengthAdjust="spacingAndGlyphs">-300</text>
<text x="116.25" y="266.60" font-size="12.30" text-anchor="middle" fill="#000" textLength="26.33" lengthAdjust="spacingAndGlyphs">-200</text>
<text x="158.75" y="266.60" font-size="12.30" text-anchor="middle" fill="#000" textLength="26.33" lengthAdjust="spacingAndGlyphs">-100</text>
<text x="201.25" y="266.60" font-size="12.30" text-anchor="middle" fill="#000" textLength="7.38" lengthAdjust="spacingAndGlyphs">0</text>
<text x="243.75" y="266.60" font-size="12.30" text-anchor="middle" fill="#000" textLength="22.14" lengthAdjust="spacingAndGlyphs">100</text>
<text x="286.25" y="266.60" font-size="12.30" text-anchor="middle" fill="#000" textLength="22.14" lengthAdjust="spacingAndGlyphs">200</text>
<text x="328.75" y="266.60" font-size="12.30" text-anchor="middle" fill="#000" textLength="22.14" lengthAdjust="spacingAndGlyphs">300</text>
<text x="46.00" y="29.03" font-size="12.30" text-anchor="end" fill="#000" textLength="26.33" lengthAdjust="spacingAndGlyphs">-300</text>
<text x="46.00" y="64.27" font-size="12.30" text-anchor="end" fill="#000" textLength="26.33" lengthAdjust="spacingAndGlyphs">-200</text>
<text x="46.00" y="99.51" font-size="12.30" text-anchor="end" fill="#000" textLength="26.33" lengthAdjust="spacingAndGlyphs">-100</text>
<text x="46.00" y="134.75" font-size="12.30" text-anchor="end" fill="#000" textLength="7.38" lengthAdjust="spacingAndGlyphs">0</text>
<text x="46.00" y="169.99" font-size="12.30" text-anchor="end" fill="#000" textLength="22.14" lengthAdjust="spacingAndGlyphs">100</text>
<text x="46.00" y="205.23" font-size="12.30" text-anchor="end" fill="#000" textLength="22.14" lengthAdjust="spacingAndGlyphs">200</text>
<text x="46.00" y="240.47" font-size="12.30" text-anchor="end" fill="#000" textLength="22.14" lengthAdjust="spacingAndGlyphs">300</text>
<text x="201.25" y="279.70" font-size="12.40" text-anchor="middle" fill="#000" textLength="33.86" lengthAdjust="spacingAndGlyphs">Y (pc)</text>
<text x="11.30" y="130.60" font-size="12.40" text-anchor="middle" fill="#000" textLength="34.72" lengthAdjust="spacingAndGlyphs" transform="rotate(-90 11.30 130.60)">X (pc)</text>
<rect x="284" y="14" width="58.7" height="32.3" fill="#fff" stroke="#000" stroke-width="1"/>
<circle cx="291.6" cy="24.2" r="2.5" fill="#e41a1c"/>
<circle cx="291.6" cy="36.0" r="2.5" fill="#2f78bb"/>
<text x="298.70" y="28.10" font-size="8.70" text-anchor="start" fill="#e41a1c" textLength="36.30" lengthAdjust="spacingAndGlyphs">This work</text>
<text x="298.70" y="39.40" font-size="8.70" text-anchor="start" fill="#2f78bb" textLength="36.50" lengthAdjust="spacingAndGlyphs">Literature</text>
<path d="M90 12.5h78v12h-78zM59.5 39h11.5v71h-11.5z" fill="#fff"/>
<line x1="64.6" y1="17.6" x2="88.5" y2="17.6" stroke="#000" stroke-width="1.4"/>
<path d="M83.0 14.000000000000002L89.2 17.6L83.0 21.200000000000003" stroke="#000" stroke-width="1.6" fill="none" stroke-linejoin="miter"/>
<line x1="64.7" y1="16.9" x2="64.7" y2="37" stroke="#000" stroke-width="1.4"/>
<path d="M61.1 31.400000000000002L64.7 37.6L68.3 31.400000000000002" stroke="#000" stroke-width="1.6" fill="none" stroke-linejoin="miter"/>
<text x="91.80" y="21.20" font-size="10.00" text-anchor="start" fill="#000" textLength="74.60" lengthAdjust="spacingAndGlyphs">Galactic rotation</text>
<text x="61.50" y="40.60" font-size="10.00" text-anchor="start" fill="#000" textLength="68.30" lengthAdjust="spacingAndGlyphs" transform="rotate(90 61.50 40.60)">Galactic center</text>
<circle cx="533.2" cy="43.3" r="2.5" fill="#2f78bb"/>
<circle cx="559.0" cy="55.7" r="2.5" fill="#2f78bb"/>
<circle cx="480.7" cy="119.3" r="2.5" fill="#2f78bb"/>
<circle cx="502.9" cy="141.7" r="2.5" fill="#2f78bb"/>
<circle cx="499.6" cy="146.0" r="2.5" fill="#2f78bb"/>
<circle cx="484.9" cy="151.1" r="2.5" fill="#2f78bb"/>
<circle cx="561.8" cy="144.8" r="2.5" fill="#2f78bb"/>
<circle cx="598.8" cy="147.3" r="2.5" fill="#2f78bb"/>
<circle cx="665.1" cy="143.6" r="2.5" fill="#2f78bb"/>
<circle cx="683.8" cy="140.5" r="2.5" fill="#2f78bb"/>
<circle cx="583.2" cy="52.9" r="2.5" fill="#e41a1c"/>
<circle cx="607.7" cy="86.9" r="2.5" fill="#e41a1c"/>
<circle cx="627.8" cy="125.2" r="2.5" fill="#e41a1c"/>
<circle cx="526.7" cy="144.1" r="2.5" fill="#e41a1c"/>
<circle cx="474.8" cy="150.1" r="2.5" fill="#e41a1c"/>
<circle cx="539.6" cy="160.1" r="2.5" fill="#e41a1c"/>
<circle cx="506.3" cy="182.8" r="2.5" fill="#e41a1c"/>
<circle cx="540.9" cy="210.0" r="2.5" fill="#e41a1c"/>
<text x="512.10" y="32.77" font-size="6.31" text-anchor="start" fill="#1d3049" font-weight="bold" textLength="13.55" lengthAdjust="spacingAndGlyphs" stroke="#1d3049" stroke-width="0.32">PRA</text>
<text x="555.00" y="65.67" font-size="6.31" text-anchor="start" fill="#1d3049" font-weight="bold" textLength="17.55" lengthAdjust="spacingAndGlyphs" stroke="#1d3049" stroke-width="0.32">CBER</text>
<text x="587.20" y="61.87" font-size="6.31" text-anchor="start" fill="#5e1b1f" font-weight="bold" textLength="17.89" lengthAdjust="spacingAndGlyphs" stroke="#5e1b1f" stroke-width="0.32">RSG2</text>
<text x="611.40" y="96.87" font-size="6.31" text-anchor="start" fill="#5e1b1f" font-weight="bold" textLength="12.29" lengthAdjust="spacingAndGlyphs" stroke="#5e1b1f" stroke-width="0.32">PL3</text>
<text x="631.70" y="121.57" font-size="6.31" text-anchor="start" fill="#5e1b1f" font-weight="bold" textLength="18.32" lengthAdjust="spacingAndGlyphs" stroke="#5e1b1f" stroke-width="0.32">OH59</text>
<text x="463.40" y="119.17" font-size="6.31" text-anchor="start" fill="#1d3049" font-weight="bold" textLength="12.29" lengthAdjust="spacingAndGlyphs" stroke="#1d3049" stroke-width="0.32">PL9</text>
<text x="504.80" y="136.07" font-size="6.31" text-anchor="start" fill="#1d3049" font-weight="bold" textLength="23.14" lengthAdjust="spacingAndGlyphs" stroke="#1d3049" stroke-width="0.32">IC2602</text>
<text x="486.90" y="174.77" font-size="6.31" text-anchor="start" fill="#1d3049" font-weight="bold" textLength="23.14" lengthAdjust="spacingAndGlyphs" stroke="#1d3049" stroke-width="0.32">IC2391</text>
<text x="460.90" y="182.97" font-size="6.31" text-anchor="start" fill="#1d3049" font-weight="bold" textLength="35.39" lengthAdjust="spacingAndGlyphs" stroke="#1d3049" stroke-width="0.32">NGC2451A</text>
<text x="530.80" y="144.07" font-size="6.31" text-anchor="start" fill="#5e1b1f" font-weight="bold" textLength="13.58" lengthAdjust="spacingAndGlyphs" stroke="#5e1b1f" stroke-width="0.32">VCA</text>
<text x="447.80" y="157.57" font-size="6.31" text-anchor="start" fill="#5e1b1f" font-weight="bold" textLength="18.32" lengthAdjust="spacingAndGlyphs" stroke="#5e1b1f" stroke-width="0.32">OH23</text>
<text x="560.70" y="156.07" font-size="6.31" text-anchor="start" fill="#1d3049" font-weight="bold" textLength="13.32" lengthAdjust="spacingAndGlyphs" stroke="#1d3049" stroke-width="0.32">HYA</text>
<text x="543.40" y="175.97" font-size="6.31" text-anchor="start" fill="#5e1b1f" font-weight="bold" textLength="20.89" lengthAdjust="spacingAndGlyphs" stroke="#5e1b1f" stroke-width="0.32">ALES9</text>
<text x="509.00" y="191.87" font-size="6.31" text-anchor="start" fill="#5e1b1f" font-weight="bold" textLength="26.22" lengthAdjust="spacingAndGlyphs" stroke="#5e1b1f" stroke-width="0.32">UPK612</text>
<text x="547.50" y="219.07" font-size="6.31" text-anchor="start" fill="#5e1b1f" font-weight="bold" textLength="18.32" lengthAdjust="spacingAndGlyphs" stroke="#5e1b1f" stroke-width="0.32">OH51</text>
<text x="606.90" y="159.07" font-size="6.31" text-anchor="start" fill="#1d3049" font-weight="bold" textLength="17.61" lengthAdjust="spacingAndGlyphs" stroke="#1d3049" stroke-width="0.32">APER</text>
<text x="635.10" y="153.37" font-size="6.31" text-anchor="start" fill="#1d3049" font-weight="bold" textLength="30.04" lengthAdjust="spacingAndGlyphs" stroke="#1d3049" stroke-width="0.32">ASCC123</text>
<text x="679.40" y="151.77" font-size="6.31" text-anchor="start" fill="#1d3049" font-weight="bold" textLength="30.79" lengthAdjust="spacingAndGlyphs" stroke="#1d3049" stroke-width="0.32">NGC7092</text>
<path d="M475.2 174.5L484.7 155.4M496.3 168.1L498.6 149.5" stroke="#1d3049" stroke-width="0.8"/>
<path d="M556.40 130.15h10M561.40 125.15v10" stroke="#111" stroke-width="1.1"/>
<rect x="416.9" y="6.8" width="297.30" height="247.00" fill="none" stroke="#000" stroke-width="1.25"/>
<path d="M429.27 253.8v-2.5M429.27 6.8v2.5M445.79 253.8v-2.5M445.79 6.8v2.5M462.30 253.8v-2.5M462.30 6.8v2.5M478.82 253.8v-2.5M478.82 6.8v2.5M495.34 253.8v-2.5M495.34 6.8v2.5M511.85 253.8v-2.5M511.85 6.8v2.5M528.37 253.8v-2.5M528.37 6.8v2.5M544.88 253.8v-2.5M544.88 6.8v2.5M561.40 253.8v-2.5M561.40 6.8v2.5M577.92 253.8v-2.5M577.92 6.8v2.5M594.43 253.8v-2.5M594.43 6.8v2.5M610.95 253.8v-2.5M610.95 6.8v2.5M627.46 253.8v-2.5M627.46 6.8v2.5M643.98 253.8v-2.5M643.98 6.8v2.5M660.50 253.8v-2.5M660.50 6.8v2.5M677.01 253.8v-2.5M677.01 6.8v2.5M693.53 253.8v-2.5M693.53 6.8v2.5M710.04 253.8v-2.5M710.04 6.8v2.5M478.82 253.8v-4.5M478.82 6.8v4.5M561.40 253.8v-4.5M561.40 6.8v4.5M643.98 253.8v-4.5M643.98 6.8v4.5M416.9 253.56h2.5M714.2 253.56h-2.5M416.9 244.75h2.5M714.2 244.75h-2.5M416.9 235.93h2.5M714.2 235.93h-2.5M416.9 227.12h2.5M714.2 227.12h-2.5M416.9 218.30h2.5M714.2 218.30h-2.5M416.9 209.49h2.5M714.2 209.49h-2.5M416.9 200.67h2.5M714.2 200.67h-2.5M416.9 191.86h2.5M714.2 191.86h-2.5M416.9 183.04h2.5M714.2 183.04h-2.5M416.9 174.22h2.5M714.2 174.22h-2.5M416.9 165.41h2.5M714.2 165.41h-2.5M416.9 156.59h2.5M714.2 156.59h-2.5M416.9 147.78h2.5M714.2 147.78h-2.5M416.9 138.97h2.5M714.2 138.97h-2.5M416.9 130.15h2.5M714.2 130.15h-2.5M416.9 121.34h2.5M714.2 121.34h-2.5M416.9 112.52h2.5M714.2 112.52h-2.5M416.9 103.71h2.5M714.2 103.71h-2.5M416.9 94.89h2.5M714.2 94.89h-2.5M416.9 86.08h2.5M714.2 86.08h-2.5M416.9 77.26h2.5M714.2 77.26h-2.5M416.9 68.45h2.5M714.2 68.45h-2.5M416.9 59.63h2.5M714.2 59.63h-2.5M416.9 50.82h2.5M714.2 50.82h-2.5M416.9 42.00h2.5M714.2 42.00h-2.5M416.9 33.19h2.5M714.2 33.19h-2.5M416.9 24.37h2.5M714.2 24.37h-2.5M416.9 15.56h2.5M714.2 15.56h-2.5M416.9 218.30h4.5M714.2 218.30h-4.5M416.9 174.22h4.5M714.2 174.22h-4.5M416.9 130.15h4.5M714.2 130.15h-4.5M416.9 86.08h4.5M714.2 86.08h-4.5M416.9 42.00h4.5M714.2 42.00h-4.5" stroke="#000" stroke-width="1" fill="none"/>
<text x="478.82" y="266.60" font-size="12.30" text-anchor="middle" fill="#000" textLength="26.33" lengthAdjust="spacingAndGlyphs">-200</text>
<text x="561.40" y="266.60" font-size="12.30" text-anchor="middle" fill="#000" textLength="7.38" lengthAdjust="spacingAndGlyphs">0</text>
<text x="643.98" y="266.60" font-size="12.30" text-anchor="middle" fill="#000" textLength="22.14" lengthAdjust="spacingAndGlyphs">200</text>
<text x="410.40" y="222.90" font-size="12.30" text-anchor="end" fill="#000" textLength="26.33" lengthAdjust="spacingAndGlyphs">-100</text>
<text x="410.40" y="178.82" font-size="12.30" text-anchor="end" fill="#000" textLength="18.95" lengthAdjust="spacingAndGlyphs">-50</text>
<text x="410.40" y="134.75" font-size="12.30" text-anchor="end" fill="#000" textLength="7.38" lengthAdjust="spacingAndGlyphs">0</text>
<text x="410.40" y="90.68" font-size="12.30" text-anchor="end" fill="#000" textLength="14.76" lengthAdjust="spacingAndGlyphs">50</text>
<text x="410.40" y="46.60" font-size="12.30" text-anchor="end" fill="#000" textLength="22.14" lengthAdjust="spacingAndGlyphs">100</text>
<text x="565.55" y="279.70" font-size="12.40" text-anchor="middle" fill="#000" textLength="33.86" lengthAdjust="spacingAndGlyphs">Y (pc)</text>
<text x="375.30" y="130.60" font-size="12.40" text-anchor="middle" fill="#000" textLength="34.72" lengthAdjust="spacingAndGlyphs" transform="rotate(-90 375.30 130.60)">Z (pc)</text>
<rect x="649" y="14.1" width="58.7" height="32.3" fill="#fff" stroke="#000" stroke-width="1"/>
<circle cx="656.6" cy="24.3" r="2.5" fill="#e41a1c"/>
<circle cx="656.6" cy="36.1" r="2.5" fill="#2f78bb"/>
<text x="663.70" y="28.20" font-size="8.70" text-anchor="start" fill="#e41a1c" textLength="36.30" lengthAdjust="spacingAndGlyphs">This work</text>
<text x="663.70" y="39.50" font-size="8.70" text-anchor="start" fill="#2f78bb" textLength="36.50" lengthAdjust="spacingAndGlyphs">Literature</text>
<path d="M454 234h77v13h-77zM423.5 155h12v67.5h-12z" fill="#fff"/>
<line x1="429.5" y1="240" x2="451.5" y2="240" stroke="#000" stroke-width="1.4"/>
<path d="M446.0 236.4L452.2 240L446.0 243.6" stroke="#000" stroke-width="1.6" fill="none" stroke-linejoin="miter"/>
<line x1="429.5" y1="240.6" x2="429.5" y2="224.5" stroke="#000" stroke-width="1.4"/>
<path d="M425.9 229.6L429.5 223.4L433.1 229.6" stroke="#000" stroke-width="1.6" fill="none" stroke-linejoin="miter"/>
<text x="455.50" y="243.80" font-size="10.00" text-anchor="start" fill="#000" textLength="74.30" lengthAdjust="spacingAndGlyphs">Galactic rotation</text>
<text x="426.00" y="156.80" font-size="10.00" text-anchor="start" fill="#000" textLength="63.40" lengthAdjust="spacingAndGlyphs" transform="rotate(90 426.00 156.80)">Galactic North</text>
<text x="110.50" y="303.9" font-family="Liberation Serif, serif" font-size="11.5" textLength="14.60" lengthAdjust="spacingAndGlyphs">(a)</text>
<text x="130.60" y="303.9" font-family="Liberation Serif, serif" font-size="11.5" font-style="italic" textLength="19.80" lengthAdjust="spacingAndGlyphs">XY</text>
<text x="155.20" y="303.9" font-family="Liberation Serif, serif" font-size="11.5" textLength="43.60" lengthAdjust="spacingAndGlyphs">Galactic</text>
<text x="203.30" y="303.9" font-family="Liberation Serif, serif" font-size="11.5" textLength="47.00" lengthAdjust="spacingAndGlyphs">positions</text>
<text x="475.50" y="303.9" font-family="Liberation Serif, serif" font-size="11.5" textLength="15.40" lengthAdjust="spacingAndGlyphs">(b)</text>
<text x="495.60" y="303.9" font-family="Liberation Serif, serif" font-size="11.5" font-style="italic" textLength="19.20" lengthAdjust="spacingAndGlyphs">YZ</text>
<text x="519.40" y="303.9" font-family="Liberation Serif, serif" font-size="11.5" textLength="44.90" lengthAdjust="spacingAndGlyphs">Galactic</text>
<text x="566.90" y="303.9" font-family="Liberation Serif, serif" font-size="11.5" textLength="47.20" lengthAdjust="spacingAndGlyphs">positions</text>
</svg></div></body></html>
